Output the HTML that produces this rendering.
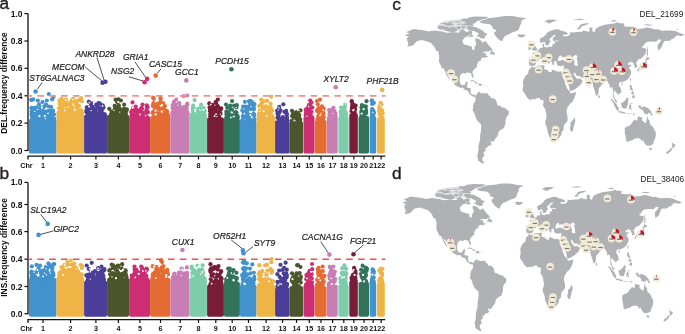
<!DOCTYPE html><html><head><meta charset="utf-8"><style>html,body{margin:0;padding:0;background:#fff}body{width:685px;height:334px;overflow:hidden}svg{display:block}#w{will-change:transform}</style></head><body><div id="w"><svg width="685" height="334" viewBox="0 0 685 334" font-family='"Liberation Sans", sans-serif'>
<g font-size="17.3" fill="#231c1c" stroke="#231c1c" stroke-width="0.35"><text x="-0.4" y="8.6">a</text><text x="-0.4" y="178.6">b</text><text x="392.2" y="10.3">c</text><text x="392.1" y="178.7">d</text></g>
<rect x="28.9" y="118.76" width="27.6" height="34.74" rx="1.6" fill="#4292ce"/>
<g fill="#4292ce"><circle cx="42.6" cy="113.0" r="2.1"/><circle cx="46.2" cy="117.3" r="2.1"/><circle cx="33.2" cy="99.3" r="2.1"/><circle cx="50.6" cy="111.4" r="2.1"/><circle cx="48.8" cy="94.0" r="2.1"/><circle cx="41.4" cy="117.2" r="2.1"/><circle cx="36.4" cy="119.7" r="2.1"/><circle cx="52.1" cy="99.3" r="2.1"/><circle cx="31.6" cy="114.2" r="2.1"/><circle cx="53.0" cy="110.7" r="2.1"/><circle cx="36.1" cy="111.5" r="2.1"/><circle cx="31.7" cy="107.8" r="2.1"/><circle cx="41.2" cy="114.2" r="2.1"/><circle cx="36.5" cy="107.4" r="2.1"/><circle cx="36.1" cy="112.3" r="2.1"/><circle cx="37.8" cy="100.5" r="2.1"/><circle cx="50.6" cy="113.7" r="2.1"/><circle cx="46.0" cy="104.7" r="2.1"/><circle cx="54.2" cy="118.5" r="2.1"/><circle cx="33.8" cy="109.5" r="2.1"/><circle cx="47.9" cy="116.0" r="2.1"/><circle cx="52.9" cy="111.5" r="2.1"/><circle cx="50.4" cy="115.6" r="2.1"/><circle cx="38.1" cy="115.1" r="2.1"/><circle cx="51.7" cy="118.3" r="2.1"/><circle cx="42.8" cy="115.1" r="2.1"/><circle cx="31.8" cy="108.3" r="2.1"/><circle cx="49.7" cy="110.8" r="2.1"/><circle cx="35.0" cy="113.7" r="2.1"/><circle cx="47.5" cy="115.4" r="2.1"/><circle cx="39.8" cy="113.3" r="2.1"/><circle cx="42.9" cy="117.7" r="2.1"/><circle cx="43.2" cy="111.7" r="2.1"/><circle cx="42.5" cy="102.0" r="2.1"/><circle cx="32.0" cy="116.5" r="2.1"/><circle cx="54.0" cy="114.5" r="2.1"/><circle cx="40.2" cy="108.1" r="2.1"/><circle cx="42.8" cy="120.2" r="2.1"/><circle cx="49.0" cy="113.1" r="2.1"/><circle cx="51.1" cy="106.9" r="2.1"/><circle cx="43.0" cy="119.8" r="2.1"/><circle cx="44.5" cy="112.2" r="2.1"/><circle cx="37.3" cy="114.2" r="2.1"/><circle cx="53.4" cy="96.9" r="2.1"/><circle cx="49.3" cy="117.8" r="2.1"/><circle cx="51.7" cy="116.8" r="2.1"/><circle cx="49.9" cy="112.9" r="2.1"/><circle cx="44.1" cy="111.7" r="2.1"/><circle cx="32.3" cy="118.8" r="2.1"/><circle cx="44.3" cy="106.4" r="2.1"/><circle cx="42.8" cy="113.5" r="2.1"/><circle cx="39.3" cy="111.6" r="2.1"/><circle cx="43.6" cy="115.3" r="2.1"/><circle cx="45.3" cy="111.8" r="2.1"/><circle cx="31.7" cy="108.0" r="2.1"/><circle cx="35.1" cy="114.3" r="2.1"/><circle cx="51.1" cy="117.6" r="2.1"/><circle cx="49.7" cy="117.8" r="2.1"/><circle cx="37.0" cy="118.4" r="2.1"/><circle cx="46.8" cy="100.5" r="2.1"/><circle cx="31.4" cy="99.8" r="2.1"/><circle cx="48.7" cy="106.5" r="2.1"/><circle cx="33.6" cy="115.0" r="2.1"/><circle cx="39.1" cy="104.4" r="2.1"/><circle cx="34.7" cy="113.3" r="2.1"/><circle cx="34.9" cy="108.0" r="2.1"/><circle cx="47.7" cy="111.2" r="2.1"/><circle cx="38.5" cy="113.5" r="2.1"/><circle cx="31.6" cy="111.5" r="2.1"/><circle cx="40.8" cy="108.6" r="2.1"/><circle cx="33.5" cy="119.1" r="2.1"/><circle cx="42.9" cy="108.0" r="2.1"/><circle cx="45.2" cy="117.9" r="2.1"/><circle cx="31.5" cy="100.0" r="2.1"/><circle cx="34.4" cy="116.4" r="2.1"/><circle cx="34.7" cy="116.2" r="2.1"/><circle cx="46.9" cy="113.1" r="2.1"/><circle cx="36.2" cy="120.1" r="2.1"/><circle cx="49.7" cy="112.8" r="2.1"/><circle cx="36.2" cy="115.5" r="2.1"/><circle cx="40.2" cy="115.4" r="2.1"/><circle cx="38.5" cy="115.8" r="2.1"/><circle cx="32.4" cy="109.3" r="2.1"/><circle cx="53.6" cy="118.8" r="2.1"/><circle cx="38.2" cy="118.7" r="2.1"/><circle cx="38.3" cy="119.7" r="2.1"/></g>
<g fill="#fff"><circle cx="48.0" cy="113.3" r="0.9"/><circle cx="34.7" cy="111.4" r="0.7"/><circle cx="44.7" cy="116.1" r="1.1"/><circle cx="41.9" cy="107.7" r="1.1"/><circle cx="45.4" cy="118.5" r="0.7"/><circle cx="39.4" cy="116.2" r="1.1"/></g>
<rect x="56.5" y="110.55" width="27.6" height="42.95" rx="1.6" fill="#eeb446"/>
<g fill="#eeb446"><circle cx="67.7" cy="107.7" r="2.1"/><circle cx="59.0" cy="108.3" r="2.1"/><circle cx="68.0" cy="104.8" r="2.1"/><circle cx="62.3" cy="110.7" r="2.1"/><circle cx="77.6" cy="107.2" r="2.1"/><circle cx="61.8" cy="105.2" r="2.1"/><circle cx="64.8" cy="100.9" r="2.1"/><circle cx="67.5" cy="108.2" r="2.1"/><circle cx="80.0" cy="110.7" r="2.1"/><circle cx="71.1" cy="110.3" r="2.1"/><circle cx="71.1" cy="100.8" r="2.1"/><circle cx="59.5" cy="100.5" r="2.1"/><circle cx="62.5" cy="106.9" r="2.1"/><circle cx="64.9" cy="105.3" r="2.1"/><circle cx="70.4" cy="104.4" r="2.1"/><circle cx="66.5" cy="102.2" r="2.1"/><circle cx="64.1" cy="111.7" r="2.1"/><circle cx="76.8" cy="109.1" r="2.1"/><circle cx="70.0" cy="108.4" r="2.1"/><circle cx="76.6" cy="103.5" r="2.1"/><circle cx="68.1" cy="106.2" r="2.1"/><circle cx="81.8" cy="101.2" r="2.1"/><circle cx="61.5" cy="98.8" r="2.1"/><circle cx="72.3" cy="111.6" r="2.1"/><circle cx="60.4" cy="107.2" r="2.1"/><circle cx="71.8" cy="111.8" r="2.1"/><circle cx="67.1" cy="105.3" r="2.1"/><circle cx="71.1" cy="102.1" r="2.1"/><circle cx="79.6" cy="100.1" r="2.1"/><circle cx="59.7" cy="103.8" r="2.1"/><circle cx="73.0" cy="98.9" r="2.1"/><circle cx="68.3" cy="110.8" r="2.1"/><circle cx="77.1" cy="100.8" r="2.1"/><circle cx="77.0" cy="107.5" r="2.1"/><circle cx="62.4" cy="105.6" r="2.1"/><circle cx="74.5" cy="101.8" r="2.1"/><circle cx="78.4" cy="105.7" r="2.1"/><circle cx="81.2" cy="110.4" r="2.1"/><circle cx="71.3" cy="110.8" r="2.1"/><circle cx="71.5" cy="109.8" r="2.1"/><circle cx="66.0" cy="103.9" r="2.1"/><circle cx="66.0" cy="99.6" r="2.1"/><circle cx="77.0" cy="111.4" r="2.1"/><circle cx="75.6" cy="103.9" r="2.1"/><circle cx="67.8" cy="106.5" r="2.1"/><circle cx="60.1" cy="103.9" r="2.1"/><circle cx="72.7" cy="107.3" r="2.1"/><circle cx="64.5" cy="110.3" r="2.1"/><circle cx="76.8" cy="111.1" r="2.1"/><circle cx="78.9" cy="106.3" r="2.1"/><circle cx="66.9" cy="103.6" r="2.1"/><circle cx="63.5" cy="101.8" r="2.1"/><circle cx="67.0" cy="110.8" r="2.1"/><circle cx="60.7" cy="109.6" r="2.1"/><circle cx="60.7" cy="107.4" r="2.1"/><circle cx="66.5" cy="104.3" r="2.1"/><circle cx="81.2" cy="98.1" r="2.1"/><circle cx="63.0" cy="110.1" r="2.1"/><circle cx="72.1" cy="111.6" r="2.1"/><circle cx="64.4" cy="100.5" r="2.1"/></g>
<g fill="#fff"><circle cx="72.7" cy="99.8" r="0.7"/><circle cx="64.8" cy="110.5" r="0.7"/><circle cx="68.2" cy="107.2" r="0.7"/><circle cx="75.3" cy="110.5" r="0.7"/><circle cx="65.8" cy="100.0" r="0.9"/><circle cx="69.6" cy="99.1" r="0.7"/></g>
<rect x="84.1" y="114.66" width="23" height="38.84" rx="1.6" fill="#4b3e98"/>
<g fill="#4b3e98"><circle cx="89.5" cy="113.6" r="2.1"/><circle cx="104.7" cy="114.6" r="2.1"/><circle cx="92.2" cy="103.3" r="2.1"/><circle cx="95.9" cy="115.5" r="2.1"/><circle cx="91.7" cy="115.2" r="2.1"/><circle cx="88.9" cy="115.3" r="2.1"/><circle cx="86.8" cy="107.3" r="2.1"/><circle cx="103.2" cy="114.4" r="2.1"/><circle cx="103.3" cy="114.7" r="2.1"/><circle cx="100.2" cy="113.6" r="2.1"/><circle cx="89.5" cy="108.6" r="2.1"/><circle cx="89.2" cy="112.8" r="2.1"/><circle cx="98.8" cy="108.2" r="2.1"/><circle cx="87.4" cy="115.9" r="2.1"/><circle cx="101.4" cy="111.9" r="2.1"/><circle cx="96.4" cy="114.8" r="2.1"/><circle cx="94.7" cy="109.1" r="2.1"/><circle cx="92.6" cy="106.9" r="2.1"/><circle cx="86.7" cy="112.3" r="2.1"/><circle cx="94.0" cy="111.6" r="2.1"/><circle cx="87.4" cy="107.6" r="2.1"/><circle cx="88.8" cy="101.7" r="2.1"/><circle cx="91.1" cy="114.5" r="2.1"/><circle cx="93.7" cy="109.3" r="2.1"/><circle cx="97.7" cy="107.1" r="2.1"/><circle cx="86.3" cy="110.8" r="2.1"/><circle cx="95.6" cy="112.5" r="2.1"/><circle cx="94.4" cy="113.0" r="2.1"/><circle cx="100.0" cy="108.2" r="2.1"/><circle cx="95.5" cy="110.2" r="2.1"/><circle cx="90.4" cy="108.6" r="2.1"/><circle cx="96.7" cy="115.4" r="2.1"/><circle cx="103.5" cy="107.4" r="2.1"/><circle cx="98.4" cy="103.2" r="2.1"/><circle cx="87.5" cy="110.1" r="2.1"/><circle cx="102.7" cy="105.3" r="2.1"/><circle cx="100.6" cy="115.3" r="2.1"/><circle cx="92.1" cy="113.0" r="2.1"/><circle cx="102.2" cy="109.3" r="2.1"/><circle cx="99.4" cy="114.0" r="2.1"/><circle cx="97.4" cy="114.9" r="2.1"/><circle cx="103.1" cy="115.9" r="2.1"/><circle cx="96.9" cy="105.4" r="2.1"/><circle cx="90.9" cy="105.2" r="2.1"/><circle cx="96.9" cy="113.9" r="2.1"/><circle cx="87.2" cy="112.6" r="2.1"/><circle cx="99.7" cy="109.8" r="2.1"/><circle cx="95.9" cy="104.6" r="2.1"/><circle cx="99.9" cy="103.7" r="2.1"/><circle cx="104.6" cy="114.4" r="2.1"/><circle cx="98.0" cy="107.9" r="2.1"/><circle cx="103.4" cy="115.9" r="2.1"/><circle cx="88.8" cy="113.6" r="2.1"/><circle cx="102.0" cy="113.0" r="2.1"/><circle cx="99.4" cy="111.0" r="2.1"/><circle cx="103.6" cy="116.0" r="2.1"/></g>
<g fill="#fff"><circle cx="93.6" cy="104.0" r="0.9"/><circle cx="93.9" cy="102.5" r="0.9"/><circle cx="89.2" cy="102.5" r="0.7"/><circle cx="89.1" cy="106.7" r="0.9"/><circle cx="102.6" cy="105.9" r="0.9"/></g>
<rect x="107.1" y="114.66" width="22" height="38.84" rx="1.6" fill="#4b562d"/>
<g fill="#4b562d"><circle cx="117.0" cy="101.3" r="2.1"/><circle cx="120.4" cy="112.3" r="2.1"/><circle cx="124.1" cy="104.6" r="2.1"/><circle cx="114.3" cy="111.6" r="2.1"/><circle cx="114.1" cy="112.2" r="2.1"/><circle cx="113.7" cy="113.3" r="2.1"/><circle cx="123.3" cy="114.2" r="2.1"/><circle cx="126.5" cy="110.7" r="2.1"/><circle cx="117.9" cy="115.0" r="2.1"/><circle cx="122.9" cy="111.3" r="2.1"/><circle cx="116.0" cy="108.0" r="2.1"/><circle cx="111.1" cy="114.7" r="2.1"/><circle cx="111.3" cy="114.1" r="2.1"/><circle cx="118.9" cy="116.0" r="2.1"/><circle cx="122.7" cy="116.0" r="2.1"/><circle cx="111.6" cy="111.6" r="2.1"/><circle cx="119.4" cy="108.6" r="2.1"/><circle cx="118.2" cy="109.3" r="2.1"/><circle cx="118.6" cy="99.4" r="2.1"/><circle cx="117.1" cy="110.5" r="2.1"/><circle cx="114.6" cy="109.8" r="2.1"/><circle cx="123.1" cy="112.7" r="2.1"/><circle cx="118.0" cy="112.9" r="2.1"/><circle cx="115.9" cy="106.5" r="2.1"/><circle cx="109.3" cy="108.8" r="2.1"/><circle cx="119.8" cy="115.2" r="2.1"/><circle cx="124.0" cy="110.2" r="2.1"/><circle cx="126.8" cy="109.4" r="2.1"/><circle cx="124.1" cy="108.6" r="2.1"/><circle cx="122.5" cy="116.2" r="2.1"/><circle cx="114.6" cy="105.9" r="2.1"/><circle cx="120.2" cy="111.4" r="2.1"/><circle cx="115.6" cy="99.5" r="2.1"/><circle cx="116.1" cy="110.1" r="2.1"/><circle cx="116.4" cy="115.0" r="2.1"/><circle cx="119.6" cy="113.8" r="2.1"/><circle cx="125.2" cy="113.4" r="2.1"/><circle cx="118.0" cy="113.9" r="2.1"/><circle cx="120.6" cy="112.8" r="2.1"/><circle cx="120.4" cy="109.8" r="2.1"/><circle cx="120.4" cy="112.6" r="2.1"/><circle cx="125.9" cy="113.8" r="2.1"/><circle cx="124.3" cy="113.6" r="2.1"/><circle cx="123.7" cy="111.6" r="2.1"/><circle cx="115.4" cy="107.6" r="2.1"/><circle cx="121.8" cy="115.0" r="2.1"/><circle cx="118.9" cy="105.7" r="2.1"/><circle cx="124.0" cy="109.8" r="2.1"/><circle cx="117.5" cy="102.5" r="2.1"/><circle cx="118.3" cy="113.9" r="2.1"/><circle cx="116.7" cy="109.2" r="2.1"/><circle cx="120.9" cy="100.5" r="2.1"/></g>
<g fill="#fff"><circle cx="118.2" cy="102.0" r="1.1"/><circle cx="111.6" cy="106.2" r="0.9"/><circle cx="119.8" cy="112.1" r="0.7"/><circle cx="113.9" cy="110.4" r="0.7"/><circle cx="111.3" cy="103.6" r="1.1"/></g>
<rect x="129.1" y="116.03" width="21" height="37.47" rx="1.6" fill="#cd2d73"/>
<g fill="#cd2d73"><circle cx="136.2" cy="115.6" r="2.1"/><circle cx="147.9" cy="112.4" r="2.1"/><circle cx="137.2" cy="115.6" r="2.1"/><circle cx="137.8" cy="112.3" r="2.1"/><circle cx="139.3" cy="110.3" r="2.1"/><circle cx="141.5" cy="115.1" r="2.1"/><circle cx="135.5" cy="114.3" r="2.1"/><circle cx="135.3" cy="114.8" r="2.1"/><circle cx="145.5" cy="116.3" r="2.1"/><circle cx="138.0" cy="117.1" r="2.1"/><circle cx="146.9" cy="107.6" r="2.1"/><circle cx="135.7" cy="106.6" r="2.1"/><circle cx="143.5" cy="116.4" r="2.1"/><circle cx="140.9" cy="113.8" r="2.1"/><circle cx="146.9" cy="105.4" r="2.1"/><circle cx="147.1" cy="111.2" r="2.1"/><circle cx="133.9" cy="115.7" r="2.1"/><circle cx="146.2" cy="111.0" r="2.1"/><circle cx="136.4" cy="112.3" r="2.1"/><circle cx="133.1" cy="108.3" r="2.1"/><circle cx="142.6" cy="104.6" r="2.1"/><circle cx="135.0" cy="110.9" r="2.1"/><circle cx="146.8" cy="117.2" r="2.1"/><circle cx="132.0" cy="115.9" r="2.1"/><circle cx="131.6" cy="115.3" r="2.1"/><circle cx="142.7" cy="112.4" r="2.1"/><circle cx="140.1" cy="115.3" r="2.1"/><circle cx="146.1" cy="111.1" r="2.1"/><circle cx="142.3" cy="109.4" r="2.1"/><circle cx="141.5" cy="107.9" r="2.1"/><circle cx="134.9" cy="109.6" r="2.1"/><circle cx="138.8" cy="115.7" r="2.1"/><circle cx="147.6" cy="107.2" r="2.1"/><circle cx="136.0" cy="113.8" r="2.1"/><circle cx="137.7" cy="112.9" r="2.1"/><circle cx="135.5" cy="113.2" r="2.1"/><circle cx="133.1" cy="108.4" r="2.1"/><circle cx="132.5" cy="102.4" r="2.1"/><circle cx="131.3" cy="112.3" r="2.1"/><circle cx="146.1" cy="116.1" r="2.1"/><circle cx="136.0" cy="109.3" r="2.1"/><circle cx="133.9" cy="116.1" r="2.1"/><circle cx="142.1" cy="115.8" r="2.1"/><circle cx="131.7" cy="111.0" r="2.1"/><circle cx="145.9" cy="112.5" r="2.1"/><circle cx="140.7" cy="109.7" r="2.1"/></g>
<g fill="#fff"><circle cx="133.3" cy="107.4" r="0.9"/><circle cx="145.7" cy="115.8" r="0.7"/><circle cx="140.0" cy="114.5" r="0.9"/><circle cx="143.8" cy="110.4" r="0.7"/><circle cx="132.5" cy="107.6" r="1.1"/></g>
<rect x="150.1" y="116.03" width="20.3" height="37.47" rx="1.6" fill="#e46c32"/>
<g fill="#e46c32"><circle cx="157.5" cy="107.3" r="2.1"/><circle cx="156.4" cy="113.2" r="2.1"/><circle cx="156.2" cy="112.5" r="2.1"/><circle cx="164.9" cy="106.1" r="2.1"/><circle cx="159.1" cy="114.1" r="2.1"/><circle cx="162.5" cy="117.3" r="2.1"/><circle cx="166.8" cy="112.3" r="2.1"/><circle cx="160.9" cy="114.2" r="2.1"/><circle cx="160.8" cy="116.8" r="2.1"/><circle cx="153.3" cy="105.4" r="2.1"/><circle cx="162.0" cy="117.4" r="2.1"/><circle cx="153.4" cy="103.0" r="2.1"/><circle cx="153.8" cy="98.8" r="2.1"/><circle cx="155.5" cy="109.8" r="2.1"/><circle cx="152.9" cy="112.5" r="2.1"/><circle cx="166.9" cy="111.8" r="2.1"/><circle cx="160.3" cy="102.7" r="2.1"/><circle cx="157.2" cy="103.8" r="2.1"/><circle cx="152.7" cy="112.9" r="2.1"/><circle cx="166.6" cy="115.1" r="2.1"/><circle cx="166.7" cy="110.8" r="2.1"/><circle cx="164.1" cy="108.0" r="2.1"/><circle cx="156.2" cy="108.2" r="2.1"/><circle cx="157.1" cy="116.1" r="2.1"/><circle cx="153.1" cy="105.2" r="2.1"/><circle cx="164.0" cy="107.8" r="2.1"/><circle cx="158.3" cy="103.6" r="2.1"/><circle cx="163.1" cy="103.2" r="2.1"/><circle cx="165.7" cy="111.9" r="2.1"/><circle cx="155.5" cy="116.8" r="2.1"/><circle cx="160.4" cy="109.5" r="2.1"/><circle cx="166.6" cy="111.4" r="2.1"/><circle cx="154.3" cy="115.3" r="2.1"/><circle cx="160.6" cy="112.1" r="2.1"/><circle cx="165.8" cy="112.9" r="2.1"/><circle cx="160.6" cy="99.6" r="2.1"/><circle cx="168.0" cy="117.6" r="2.1"/><circle cx="164.2" cy="106.5" r="2.1"/><circle cx="158.5" cy="108.4" r="2.1"/><circle cx="158.8" cy="103.8" r="2.1"/><circle cx="153.2" cy="106.2" r="2.1"/><circle cx="165.1" cy="112.3" r="2.1"/><circle cx="158.9" cy="108.3" r="2.1"/><circle cx="156.6" cy="114.7" r="2.1"/><circle cx="160.6" cy="97.8" r="2.1"/><circle cx="154.2" cy="107.0" r="2.1"/><circle cx="163.9" cy="115.4" r="2.1"/><circle cx="161.4" cy="110.5" r="2.1"/><circle cx="156.7" cy="110.6" r="2.1"/><circle cx="158.1" cy="114.7" r="2.1"/><circle cx="158.3" cy="116.5" r="2.1"/><circle cx="153.5" cy="111.6" r="2.1"/><circle cx="153.1" cy="97.7" r="2.1"/><circle cx="160.1" cy="116.0" r="2.1"/><circle cx="156.3" cy="106.5" r="2.1"/><circle cx="161.4" cy="108.6" r="2.1"/><circle cx="168.1" cy="115.3" r="2.1"/><circle cx="158.2" cy="108.1" r="2.1"/></g>
<g fill="#fff"><circle cx="161.7" cy="111.6" r="1.1"/><circle cx="155.5" cy="114.3" r="1.1"/><circle cx="156.3" cy="114.5" r="0.7"/><circle cx="155.7" cy="110.7" r="1.1"/><circle cx="162.0" cy="105.2" r="1.1"/></g>
<rect x="170.4" y="110.55" width="19.1" height="42.95" rx="1.6" fill="#c87db4"/>
<g fill="#c87db4"><circle cx="181.0" cy="109.1" r="2.1"/><circle cx="185.2" cy="110.1" r="2.1"/><circle cx="175.7" cy="111.0" r="2.1"/><circle cx="180.1" cy="107.1" r="2.1"/><circle cx="181.3" cy="111.4" r="2.1"/><circle cx="179.8" cy="110.7" r="2.1"/><circle cx="175.8" cy="104.4" r="2.1"/><circle cx="179.9" cy="111.4" r="2.1"/><circle cx="176.0" cy="107.6" r="2.1"/><circle cx="178.0" cy="111.6" r="2.1"/><circle cx="175.3" cy="107.8" r="2.1"/><circle cx="173.6" cy="111.0" r="2.1"/><circle cx="187.0" cy="105.6" r="2.1"/><circle cx="172.6" cy="108.2" r="2.1"/><circle cx="178.2" cy="111.3" r="2.1"/><circle cx="173.6" cy="109.0" r="2.1"/><circle cx="180.1" cy="108.6" r="2.1"/><circle cx="178.8" cy="106.5" r="2.1"/><circle cx="187.2" cy="95.5" r="2.1"/><circle cx="186.8" cy="109.1" r="2.1"/><circle cx="182.1" cy="107.7" r="2.1"/><circle cx="184.7" cy="106.8" r="2.1"/><circle cx="187.3" cy="104.3" r="2.1"/><circle cx="184.1" cy="108.5" r="2.1"/><circle cx="187.3" cy="103.7" r="2.1"/><circle cx="178.6" cy="111.8" r="2.1"/><circle cx="186.3" cy="106.9" r="2.1"/><circle cx="181.5" cy="108.3" r="2.1"/><circle cx="179.2" cy="103.1" r="2.1"/><circle cx="179.1" cy="103.4" r="2.1"/><circle cx="184.0" cy="112.0" r="2.1"/><circle cx="176.3" cy="99.6" r="2.1"/><circle cx="178.8" cy="109.6" r="2.1"/><circle cx="173.0" cy="107.0" r="2.1"/><circle cx="176.7" cy="109.6" r="2.1"/><circle cx="183.7" cy="96.2" r="2.1"/><circle cx="173.8" cy="101.9" r="2.1"/><circle cx="172.6" cy="105.0" r="2.1"/><circle cx="176.6" cy="110.6" r="2.1"/></g>
<g fill="#fff"><circle cx="181.7" cy="99.2" r="0.9"/><circle cx="178.5" cy="99.8" r="0.9"/><circle cx="178.0" cy="105.1" r="0.7"/><circle cx="186.4" cy="99.7" r="0.9"/></g>
<rect x="189.5" y="113.29" width="17.4" height="40.21" rx="1.6" fill="#7dcdaa"/>
<g fill="#7dcdaa"><circle cx="195.0" cy="110.1" r="2.1"/><circle cx="201.4" cy="112.5" r="2.1"/><circle cx="197.3" cy="113.2" r="2.1"/><circle cx="198.0" cy="112.7" r="2.1"/><circle cx="198.1" cy="114.7" r="2.1"/><circle cx="201.1" cy="104.7" r="2.1"/><circle cx="193.3" cy="114.6" r="2.1"/><circle cx="194.6" cy="100.1" r="2.1"/><circle cx="194.9" cy="109.7" r="2.1"/><circle cx="204.2" cy="110.2" r="2.1"/><circle cx="201.2" cy="113.7" r="2.1"/><circle cx="192.8" cy="110.8" r="2.1"/><circle cx="204.7" cy="111.5" r="2.1"/><circle cx="198.7" cy="108.8" r="2.1"/><circle cx="204.1" cy="114.7" r="2.1"/><circle cx="193.0" cy="110.1" r="2.1"/><circle cx="197.1" cy="112.3" r="2.1"/><circle cx="193.2" cy="105.7" r="2.1"/><circle cx="195.3" cy="109.8" r="2.1"/><circle cx="202.1" cy="113.9" r="2.1"/><circle cx="202.0" cy="112.5" r="2.1"/><circle cx="192.8" cy="107.8" r="2.1"/><circle cx="200.4" cy="108.0" r="2.1"/><circle cx="198.3" cy="114.2" r="2.1"/><circle cx="193.1" cy="113.5" r="2.1"/><circle cx="193.0" cy="107.7" r="2.1"/><circle cx="203.6" cy="108.0" r="2.1"/><circle cx="198.5" cy="109.7" r="2.1"/><circle cx="203.3" cy="114.9" r="2.1"/><circle cx="195.4" cy="110.0" r="2.1"/><circle cx="203.4" cy="111.6" r="2.1"/><circle cx="194.4" cy="112.6" r="2.1"/><circle cx="196.0" cy="110.3" r="2.1"/><circle cx="191.7" cy="114.8" r="2.1"/><circle cx="200.3" cy="114.4" r="2.1"/></g>
<g fill="#fff"><circle cx="203.5" cy="109.9" r="1.1"/><circle cx="199.6" cy="109.5" r="0.7"/><circle cx="195.1" cy="109.8" r="1.1"/><circle cx="195.3" cy="111.5" r="0.9"/></g>
<rect x="207.1" y="117.39" width="16.8" height="36.11" rx="1.6" fill="#781c37"/>
<g fill="#781c37"><circle cx="215.9" cy="114.6" r="2.1"/><circle cx="211.1" cy="112.2" r="2.1"/><circle cx="212.7" cy="116.0" r="2.1"/><circle cx="212.6" cy="109.2" r="2.1"/><circle cx="213.8" cy="113.4" r="2.1"/><circle cx="213.5" cy="115.1" r="2.1"/><circle cx="211.5" cy="117.9" r="2.1"/><circle cx="217.9" cy="112.4" r="2.1"/><circle cx="209.9" cy="111.0" r="2.1"/><circle cx="217.9" cy="114.2" r="2.1"/><circle cx="219.4" cy="117.6" r="2.1"/><circle cx="213.2" cy="113.7" r="2.1"/><circle cx="213.4" cy="107.5" r="2.1"/><circle cx="211.0" cy="109.6" r="2.1"/><circle cx="210.3" cy="114.0" r="2.1"/><circle cx="218.1" cy="112.8" r="2.1"/><circle cx="217.8" cy="106.2" r="2.1"/><circle cx="211.7" cy="114.4" r="2.1"/><circle cx="220.3" cy="109.9" r="2.1"/><circle cx="209.3" cy="103.4" r="2.1"/><circle cx="213.0" cy="115.1" r="2.1"/><circle cx="210.3" cy="109.0" r="2.1"/><circle cx="217.8" cy="118.9" r="2.1"/><circle cx="213.5" cy="115.0" r="2.1"/><circle cx="215.7" cy="102.1" r="2.1"/><circle cx="213.4" cy="107.8" r="2.1"/><circle cx="212.4" cy="116.8" r="2.1"/><circle cx="217.8" cy="99.5" r="2.1"/><circle cx="210.2" cy="116.2" r="2.1"/><circle cx="210.5" cy="110.7" r="2.1"/><circle cx="212.6" cy="104.8" r="2.1"/><circle cx="209.6" cy="107.4" r="2.1"/><circle cx="214.2" cy="118.4" r="2.1"/><circle cx="217.2" cy="107.1" r="2.1"/><circle cx="217.8" cy="107.4" r="2.1"/><circle cx="215.7" cy="110.4" r="2.1"/><circle cx="221.2" cy="108.4" r="2.1"/><circle cx="219.3" cy="113.9" r="2.1"/><circle cx="219.8" cy="113.3" r="2.1"/><circle cx="220.2" cy="109.6" r="2.1"/><circle cx="217.8" cy="113.8" r="2.1"/><circle cx="215.8" cy="114.0" r="2.1"/><circle cx="216.0" cy="111.4" r="2.1"/><circle cx="220.5" cy="113.7" r="2.1"/><circle cx="216.1" cy="103.0" r="2.1"/><circle cx="215.6" cy="107.6" r="2.1"/><circle cx="211.9" cy="112.6" r="2.1"/></g>
<g fill="#fff"><circle cx="216.0" cy="114.2" r="0.9"/><circle cx="220.3" cy="114.1" r="0.7"/><circle cx="214.5" cy="116.2" r="0.9"/><circle cx="210.8" cy="104.3" r="0.9"/></g>
<rect x="223.9" y="118.76" width="16" height="34.74" rx="1.6" fill="#32735a"/>
<g fill="#32735a"><circle cx="226.4" cy="111.6" r="2.1"/><circle cx="234.1" cy="105.7" r="2.1"/><circle cx="236.8" cy="105.2" r="2.1"/><circle cx="236.4" cy="107.4" r="2.1"/><circle cx="235.9" cy="118.5" r="2.1"/><circle cx="230.0" cy="119.0" r="2.1"/><circle cx="227.9" cy="118.8" r="2.1"/><circle cx="230.5" cy="112.1" r="2.1"/><circle cx="227.4" cy="115.8" r="2.1"/><circle cx="229.2" cy="116.2" r="2.1"/><circle cx="235.4" cy="115.0" r="2.1"/><circle cx="226.1" cy="119.9" r="2.1"/><circle cx="236.9" cy="115.6" r="2.1"/><circle cx="230.5" cy="114.2" r="2.1"/><circle cx="236.4" cy="112.6" r="2.1"/><circle cx="235.2" cy="114.9" r="2.1"/><circle cx="231.0" cy="119.6" r="2.1"/><circle cx="230.8" cy="114.9" r="2.1"/><circle cx="226.6" cy="114.2" r="2.1"/><circle cx="226.4" cy="117.2" r="2.1"/><circle cx="226.0" cy="104.5" r="2.1"/><circle cx="227.3" cy="107.7" r="2.1"/><circle cx="232.0" cy="110.2" r="2.1"/><circle cx="229.2" cy="120.2" r="2.1"/><circle cx="236.7" cy="115.8" r="2.1"/><circle cx="235.5" cy="118.1" r="2.1"/><circle cx="228.9" cy="118.1" r="2.1"/><circle cx="228.8" cy="114.8" r="2.1"/><circle cx="230.2" cy="105.7" r="2.1"/><circle cx="235.2" cy="119.4" r="2.1"/><circle cx="229.7" cy="118.9" r="2.1"/><circle cx="230.1" cy="115.8" r="2.1"/><circle cx="237.8" cy="117.4" r="2.1"/><circle cx="226.7" cy="113.6" r="2.1"/><circle cx="230.4" cy="109.1" r="2.1"/><circle cx="235.6" cy="112.3" r="2.1"/><circle cx="234.3" cy="115.5" r="2.1"/><circle cx="232.1" cy="101.1" r="2.1"/><circle cx="233.9" cy="119.0" r="2.1"/><circle cx="228.0" cy="116.2" r="2.1"/><circle cx="231.8" cy="109.9" r="2.1"/><circle cx="234.4" cy="120.1" r="2.1"/><circle cx="226.3" cy="119.4" r="2.1"/><circle cx="230.5" cy="118.3" r="2.1"/><circle cx="228.1" cy="117.2" r="2.1"/><circle cx="227.2" cy="111.9" r="2.1"/><circle cx="237.4" cy="115.8" r="2.1"/><circle cx="235.3" cy="112.7" r="2.1"/></g>
<g fill="#fff"><circle cx="231.6" cy="112.3" r="1.1"/><circle cx="234.1" cy="116.4" r="0.9"/><circle cx="230.9" cy="117.4" r="0.9"/><circle cx="236.2" cy="107.5" r="0.7"/></g>
<rect x="239.9" y="120.13" width="16.6" height="33.37" rx="1.6" fill="#4292ce"/>
<g fill="#4292ce"><circle cx="253.7" cy="113.8" r="2.1"/><circle cx="246.7" cy="113.9" r="2.1"/><circle cx="252.1" cy="120.7" r="2.1"/><circle cx="243.9" cy="115.4" r="2.1"/><circle cx="243.3" cy="110.7" r="2.1"/><circle cx="247.8" cy="119.1" r="2.1"/><circle cx="250.7" cy="119.0" r="2.1"/><circle cx="244.8" cy="117.6" r="2.1"/><circle cx="254.3" cy="115.3" r="2.1"/><circle cx="245.1" cy="112.9" r="2.1"/><circle cx="244.0" cy="108.3" r="2.1"/><circle cx="250.2" cy="103.4" r="2.1"/><circle cx="248.7" cy="115.0" r="2.1"/><circle cx="244.0" cy="112.7" r="2.1"/><circle cx="242.3" cy="110.4" r="2.1"/><circle cx="244.9" cy="101.8" r="2.1"/><circle cx="248.4" cy="106.7" r="2.1"/><circle cx="248.2" cy="115.9" r="2.1"/><circle cx="254.4" cy="104.1" r="2.1"/><circle cx="246.9" cy="113.1" r="2.1"/><circle cx="249.0" cy="101.3" r="2.1"/><circle cx="243.1" cy="106.5" r="2.1"/><circle cx="252.1" cy="102.2" r="2.1"/><circle cx="248.4" cy="118.6" r="2.1"/><circle cx="242.3" cy="120.2" r="2.1"/><circle cx="247.8" cy="117.7" r="2.1"/><circle cx="244.1" cy="106.9" r="2.1"/><circle cx="249.0" cy="119.4" r="2.1"/><circle cx="251.6" cy="116.7" r="2.1"/><circle cx="254.3" cy="119.2" r="2.1"/><circle cx="248.9" cy="117.4" r="2.1"/><circle cx="250.7" cy="119.2" r="2.1"/><circle cx="248.1" cy="109.0" r="2.1"/><circle cx="253.5" cy="109.6" r="2.1"/><circle cx="245.5" cy="106.7" r="2.1"/><circle cx="250.9" cy="104.0" r="2.1"/><circle cx="246.5" cy="120.8" r="2.1"/><circle cx="245.2" cy="109.1" r="2.1"/><circle cx="246.8" cy="115.0" r="2.1"/><circle cx="242.2" cy="121.3" r="2.1"/><circle cx="253.9" cy="108.8" r="2.1"/><circle cx="242.9" cy="116.6" r="2.1"/><circle cx="249.7" cy="115.0" r="2.1"/><circle cx="250.9" cy="109.0" r="2.1"/><circle cx="243.7" cy="114.4" r="2.1"/><circle cx="250.8" cy="103.9" r="2.1"/><circle cx="253.6" cy="106.7" r="2.1"/><circle cx="250.3" cy="100.9" r="2.1"/><circle cx="247.0" cy="112.1" r="2.1"/><circle cx="243.7" cy="116.6" r="2.1"/><circle cx="250.3" cy="115.2" r="2.1"/><circle cx="253.5" cy="119.8" r="2.1"/><circle cx="243.7" cy="109.2" r="2.1"/></g>
<g fill="#fff"><circle cx="250.5" cy="115.0" r="1.1"/><circle cx="251.8" cy="117.3" r="1.1"/><circle cx="244.4" cy="113.7" r="0.9"/><circle cx="243.8" cy="109.1" r="0.7"/></g>
<rect x="256.5" y="116.03" width="18.6" height="37.47" rx="1.6" fill="#eeb446"/>
<g fill="#eeb446"><circle cx="260.1" cy="109.9" r="2.1"/><circle cx="265.0" cy="113.1" r="2.1"/><circle cx="259.3" cy="115.4" r="2.1"/><circle cx="260.9" cy="104.6" r="2.1"/><circle cx="271.9" cy="115.5" r="2.1"/><circle cx="260.2" cy="110.8" r="2.1"/><circle cx="267.0" cy="114.6" r="2.1"/><circle cx="265.9" cy="109.7" r="2.1"/><circle cx="271.7" cy="117.5" r="2.1"/><circle cx="261.7" cy="117.1" r="2.1"/><circle cx="268.1" cy="111.0" r="2.1"/><circle cx="270.3" cy="111.7" r="2.1"/><circle cx="269.0" cy="113.9" r="2.1"/><circle cx="270.2" cy="117.5" r="2.1"/><circle cx="266.7" cy="113.6" r="2.1"/><circle cx="266.4" cy="106.3" r="2.1"/><circle cx="259.1" cy="106.0" r="2.1"/><circle cx="268.3" cy="111.5" r="2.1"/><circle cx="262.0" cy="110.1" r="2.1"/><circle cx="262.5" cy="113.7" r="2.1"/><circle cx="264.3" cy="111.4" r="2.1"/><circle cx="268.2" cy="115.6" r="2.1"/><circle cx="261.3" cy="99.5" r="2.1"/><circle cx="269.5" cy="110.2" r="2.1"/><circle cx="264.3" cy="114.6" r="2.1"/><circle cx="270.4" cy="107.2" r="2.1"/><circle cx="262.1" cy="102.4" r="2.1"/><circle cx="269.3" cy="115.7" r="2.1"/><circle cx="270.6" cy="103.7" r="2.1"/><circle cx="261.1" cy="111.7" r="2.1"/><circle cx="270.8" cy="108.3" r="2.1"/><circle cx="263.8" cy="106.7" r="2.1"/><circle cx="268.1" cy="112.1" r="2.1"/><circle cx="269.5" cy="117.5" r="2.1"/><circle cx="263.5" cy="101.3" r="2.1"/><circle cx="259.2" cy="113.4" r="2.1"/><circle cx="271.4" cy="115.9" r="2.1"/><circle cx="272.1" cy="110.5" r="2.1"/><circle cx="267.0" cy="100.9" r="2.1"/><circle cx="271.1" cy="111.6" r="2.1"/><circle cx="259.9" cy="110.3" r="2.1"/><circle cx="266.0" cy="112.4" r="2.1"/><circle cx="262.9" cy="107.4" r="2.1"/><circle cx="263.7" cy="117.3" r="2.1"/><circle cx="259.3" cy="117.1" r="2.1"/><circle cx="271.2" cy="96.7" r="2.1"/><circle cx="263.0" cy="114.8" r="2.1"/><circle cx="270.1" cy="112.0" r="2.1"/><circle cx="266.6" cy="117.6" r="2.1"/><circle cx="259.5" cy="113.3" r="2.1"/><circle cx="270.0" cy="107.7" r="2.1"/><circle cx="264.2" cy="111.8" r="2.1"/></g>
<g fill="#fff"><circle cx="259.8" cy="108.3" r="0.7"/><circle cx="266.7" cy="116.1" r="0.9"/><circle cx="263.7" cy="111.3" r="1.1"/><circle cx="259.9" cy="111.2" r="0.7"/></g>
<rect x="275.1" y="120.13" width="14.3" height="33.37" rx="1.6" fill="#4b3e98"/>
<g fill="#4b3e98"><circle cx="282.3" cy="119.6" r="2.1"/><circle cx="277.2" cy="110.7" r="2.1"/><circle cx="280.5" cy="110.7" r="2.1"/><circle cx="286.2" cy="110.9" r="2.1"/><circle cx="278.3" cy="113.5" r="2.1"/><circle cx="282.3" cy="119.7" r="2.1"/><circle cx="287.3" cy="120.5" r="2.1"/><circle cx="283.3" cy="104.3" r="2.1"/><circle cx="277.8" cy="117.9" r="2.1"/><circle cx="285.5" cy="112.6" r="2.1"/><circle cx="287.0" cy="117.5" r="2.1"/><circle cx="283.0" cy="117.1" r="2.1"/><circle cx="278.0" cy="110.8" r="2.1"/><circle cx="286.7" cy="113.6" r="2.1"/><circle cx="278.0" cy="113.0" r="2.1"/><circle cx="284.5" cy="111.8" r="2.1"/><circle cx="279.3" cy="112.5" r="2.1"/><circle cx="282.1" cy="118.7" r="2.1"/><circle cx="280.2" cy="120.4" r="2.1"/><circle cx="287.1" cy="120.2" r="2.1"/><circle cx="278.0" cy="113.6" r="2.1"/><circle cx="286.6" cy="120.5" r="2.1"/><circle cx="278.5" cy="115.4" r="2.1"/><circle cx="280.9" cy="118.9" r="2.1"/><circle cx="277.5" cy="113.6" r="2.1"/><circle cx="284.8" cy="120.6" r="2.1"/><circle cx="277.6" cy="117.4" r="2.1"/><circle cx="283.9" cy="120.4" r="2.1"/><circle cx="281.5" cy="121.5" r="2.1"/><circle cx="279.2" cy="108.9" r="2.1"/><circle cx="278.5" cy="117.3" r="2.1"/><circle cx="278.4" cy="112.6" r="2.1"/><circle cx="279.2" cy="106.9" r="2.1"/><circle cx="286.9" cy="114.8" r="2.1"/><circle cx="286.9" cy="119.3" r="2.1"/><circle cx="279.4" cy="121.1" r="2.1"/></g>
<g fill="#fff"><circle cx="278.2" cy="107.0" r="0.7"/><circle cx="279.5" cy="108.1" r="0.7"/><circle cx="278.2" cy="109.9" r="0.7"/></g>
<rect x="289.4" y="121.5" width="13.7" height="32" rx="1.6" fill="#4b562d"/>
<g fill="#4b562d"><circle cx="295.7" cy="112.6" r="2.1"/><circle cx="296.3" cy="114.4" r="2.1"/><circle cx="300.5" cy="110.4" r="2.1"/><circle cx="297.1" cy="111.9" r="2.1"/><circle cx="297.4" cy="122.7" r="2.1"/><circle cx="297.0" cy="118.8" r="2.1"/><circle cx="295.0" cy="116.8" r="2.1"/><circle cx="300.3" cy="119.8" r="2.1"/><circle cx="297.0" cy="118.9" r="2.1"/><circle cx="299.5" cy="121.5" r="2.1"/><circle cx="297.0" cy="114.8" r="2.1"/><circle cx="297.6" cy="112.3" r="2.1"/><circle cx="296.4" cy="117.1" r="2.1"/><circle cx="299.5" cy="119.2" r="2.1"/><circle cx="297.8" cy="122.6" r="2.1"/><circle cx="299.6" cy="119.1" r="2.1"/><circle cx="298.5" cy="122.2" r="2.1"/><circle cx="298.8" cy="119.0" r="2.1"/><circle cx="293.1" cy="113.6" r="2.1"/><circle cx="299.3" cy="115.0" r="2.1"/><circle cx="298.8" cy="116.3" r="2.1"/><circle cx="296.6" cy="113.1" r="2.1"/><circle cx="291.6" cy="120.8" r="2.1"/><circle cx="298.9" cy="117.2" r="2.1"/><circle cx="294.9" cy="117.2" r="2.1"/><circle cx="293.5" cy="116.9" r="2.1"/><circle cx="294.7" cy="123.0" r="2.1"/><circle cx="292.9" cy="121.7" r="2.1"/><circle cx="292.0" cy="110.8" r="2.1"/><circle cx="299.8" cy="122.4" r="2.1"/><circle cx="293.9" cy="117.7" r="2.1"/><circle cx="292.0" cy="116.0" r="2.1"/><circle cx="294.6" cy="113.9" r="2.1"/></g>
<g fill="#fff"><circle cx="299.2" cy="110.5" r="0.7"/><circle cx="294.0" cy="120.7" r="0.7"/><circle cx="297.6" cy="110.5" r="0.7"/></g>
<rect x="303.5" y="116.03" width="11" height="37.47" rx="1.6" fill="#cd2d73"/>
<g fill="#cd2d73"><circle cx="307.2" cy="117.3" r="2.1"/><circle cx="310.4" cy="105.8" r="2.1"/><circle cx="310.8" cy="111.6" r="2.1"/><circle cx="309.5" cy="109.6" r="2.1"/><circle cx="307.6" cy="111.1" r="2.1"/><circle cx="309.2" cy="111.2" r="2.1"/><circle cx="311.5" cy="102.5" r="2.1"/><circle cx="307.0" cy="117.1" r="2.1"/><circle cx="309.7" cy="113.3" r="2.1"/><circle cx="309.9" cy="107.3" r="2.1"/><circle cx="308.3" cy="107.1" r="2.1"/><circle cx="306.6" cy="117.6" r="2.1"/><circle cx="310.7" cy="116.4" r="2.1"/><circle cx="305.6" cy="114.8" r="2.1"/><circle cx="307.7" cy="112.1" r="2.1"/><circle cx="310.2" cy="100.7" r="2.1"/><circle cx="308.1" cy="112.7" r="2.1"/><circle cx="311.5" cy="111.8" r="2.1"/><circle cx="307.8" cy="113.4" r="2.1"/><circle cx="309.6" cy="108.3" r="2.1"/><circle cx="309.3" cy="108.0" r="2.1"/><circle cx="305.7" cy="109.7" r="2.1"/><circle cx="306.2" cy="112.3" r="2.1"/><circle cx="309.0" cy="116.3" r="2.1"/><circle cx="310.7" cy="114.9" r="2.1"/><circle cx="312.3" cy="107.5" r="2.1"/><circle cx="308.1" cy="107.6" r="2.1"/><circle cx="306.3" cy="112.6" r="2.1"/><circle cx="309.1" cy="104.8" r="2.1"/><circle cx="311.9" cy="117.4" r="2.1"/></g>
<g fill="#fff"><circle cx="306.8" cy="116.3" r="0.7"/><circle cx="308.6" cy="106.5" r="0.7"/></g>
<rect x="314.8" y="120.13" width="11.8" height="33.37" rx="1.6" fill="#e46c32"/>
<g fill="#e46c32"><circle cx="317.0" cy="101.0" r="2.1"/><circle cx="318.5" cy="108.1" r="2.1"/><circle cx="319.1" cy="115.3" r="2.1"/><circle cx="318.8" cy="108.9" r="2.1"/><circle cx="318.5" cy="120.3" r="2.1"/><circle cx="318.7" cy="115.4" r="2.1"/><circle cx="320.3" cy="111.1" r="2.1"/><circle cx="320.0" cy="99.7" r="2.1"/><circle cx="318.3" cy="116.9" r="2.1"/><circle cx="322.7" cy="109.7" r="2.1"/><circle cx="318.2" cy="120.6" r="2.1"/><circle cx="317.6" cy="119.2" r="2.1"/><circle cx="323.6" cy="108.6" r="2.1"/><circle cx="323.2" cy="108.4" r="2.1"/><circle cx="317.2" cy="111.0" r="2.1"/><circle cx="319.5" cy="115.9" r="2.1"/><circle cx="320.3" cy="119.0" r="2.1"/><circle cx="322.0" cy="106.3" r="2.1"/><circle cx="318.4" cy="118.4" r="2.1"/><circle cx="317.8" cy="121.2" r="2.1"/><circle cx="323.1" cy="110.0" r="2.1"/><circle cx="319.1" cy="109.3" r="2.1"/><circle cx="320.1" cy="109.1" r="2.1"/><circle cx="317.1" cy="110.3" r="2.1"/><circle cx="318.4" cy="111.7" r="2.1"/><circle cx="320.4" cy="120.1" r="2.1"/><circle cx="321.9" cy="116.7" r="2.1"/><circle cx="323.5" cy="113.6" r="2.1"/><circle cx="320.1" cy="109.0" r="2.1"/><circle cx="323.2" cy="120.4" r="2.1"/><circle cx="323.8" cy="117.1" r="2.1"/><circle cx="317.8" cy="104.3" r="2.1"/><circle cx="323.0" cy="120.5" r="2.1"/><circle cx="320.9" cy="120.8" r="2.1"/></g>
<g fill="#fff"><circle cx="323.2" cy="110.1" r="0.9"/><circle cx="320.2" cy="115.4" r="0.9"/></g>
<rect x="326.9" y="116.03" width="10.8" height="37.47" rx="1.6" fill="#c87db4"/>
<g fill="#c87db4"><circle cx="330.1" cy="114.0" r="2.1"/><circle cx="334.8" cy="115.5" r="2.1"/><circle cx="330.0" cy="112.8" r="2.1"/><circle cx="333.1" cy="109.2" r="2.1"/><circle cx="329.5" cy="114.3" r="2.1"/><circle cx="330.6" cy="114.8" r="2.1"/><circle cx="330.1" cy="116.6" r="2.1"/><circle cx="331.0" cy="112.7" r="2.1"/><circle cx="332.6" cy="116.9" r="2.1"/><circle cx="335.0" cy="116.5" r="2.1"/><circle cx="333.5" cy="107.8" r="2.1"/><circle cx="330.2" cy="113.7" r="2.1"/><circle cx="335.5" cy="115.5" r="2.1"/><circle cx="330.3" cy="111.7" r="2.1"/><circle cx="335.4" cy="113.5" r="2.1"/><circle cx="334.7" cy="116.6" r="2.1"/><circle cx="334.2" cy="114.8" r="2.1"/><circle cx="333.4" cy="112.1" r="2.1"/><circle cx="329.8" cy="117.3" r="2.1"/><circle cx="329.2" cy="110.2" r="2.1"/><circle cx="333.1" cy="117.4" r="2.1"/><circle cx="330.4" cy="110.3" r="2.1"/><circle cx="334.6" cy="111.7" r="2.1"/><circle cx="331.7" cy="112.1" r="2.1"/></g>
<g fill="#fff"><circle cx="330.1" cy="103.4" r="1.1"/><circle cx="332.6" cy="113.6" r="0.7"/></g>
<rect x="338.4" y="116.03" width="10.2" height="37.47" rx="1.6" fill="#7dcdaa"/>
<g fill="#7dcdaa"><circle cx="341.0" cy="112.9" r="2.1"/><circle cx="343.6" cy="116.6" r="2.1"/><circle cx="344.1" cy="116.3" r="2.1"/><circle cx="345.2" cy="116.3" r="2.1"/><circle cx="343.1" cy="112.2" r="2.1"/><circle cx="341.6" cy="116.3" r="2.1"/><circle cx="341.7" cy="115.6" r="2.1"/><circle cx="342.2" cy="107.5" r="2.1"/><circle cx="341.4" cy="115.3" r="2.1"/><circle cx="340.6" cy="111.7" r="2.1"/><circle cx="341.6" cy="115.4" r="2.1"/><circle cx="341.0" cy="107.6" r="2.1"/><circle cx="344.7" cy="107.5" r="2.1"/><circle cx="343.1" cy="114.0" r="2.1"/><circle cx="344.1" cy="106.4" r="2.1"/><circle cx="344.6" cy="116.0" r="2.1"/><circle cx="344.7" cy="117.0" r="2.1"/><circle cx="341.8" cy="116.6" r="2.1"/><circle cx="343.8" cy="116.7" r="2.1"/><circle cx="345.6" cy="112.2" r="2.1"/><circle cx="342.6" cy="111.8" r="2.1"/><circle cx="343.6" cy="114.1" r="2.1"/><circle cx="346.1" cy="114.3" r="2.1"/><circle cx="342.4" cy="109.1" r="2.1"/><circle cx="345.2" cy="104.5" r="2.1"/><circle cx="342.5" cy="116.2" r="2.1"/><circle cx="342.1" cy="117.6" r="2.1"/><circle cx="344.4" cy="109.5" r="2.1"/></g>
<g fill="#fff"><circle cx="345.6" cy="103.9" r="0.7"/><circle cx="342.7" cy="104.9" r="0.9"/></g>
<rect x="349.3" y="113.29" width="8.5" height="40.21" rx="1.6" fill="#781c37"/>
<g fill="#781c37"><circle cx="352.1" cy="106.4" r="2.1"/><circle cx="351.9" cy="108.5" r="2.1"/><circle cx="354.0" cy="107.0" r="2.1"/><circle cx="354.7" cy="112.5" r="2.1"/><circle cx="353.5" cy="106.8" r="2.1"/><circle cx="352.5" cy="104.3" r="2.1"/><circle cx="352.0" cy="102.1" r="2.1"/><circle cx="352.9" cy="112.5" r="2.1"/><circle cx="354.4" cy="105.7" r="2.1"/><circle cx="355.6" cy="105.5" r="2.1"/><circle cx="353.5" cy="112.1" r="2.1"/><circle cx="351.6" cy="111.2" r="2.1"/><circle cx="351.7" cy="101.2" r="2.1"/><circle cx="353.6" cy="109.5" r="2.1"/><circle cx="353.5" cy="107.5" r="2.1"/><circle cx="353.6" cy="104.8" r="2.1"/><circle cx="354.4" cy="108.9" r="2.1"/><circle cx="353.1" cy="112.3" r="2.1"/><circle cx="355.0" cy="109.7" r="2.1"/><circle cx="354.0" cy="108.4" r="2.1"/><circle cx="355.0" cy="108.7" r="2.1"/></g>
<g fill="#fff"><circle cx="353.2" cy="110.3" r="1.1"/><circle cx="354.0" cy="109.4" r="0.7"/></g>
<rect x="358.5" y="116.03" width="10.5" height="37.47" rx="1.6" fill="#32735a"/>
<g fill="#32735a"><circle cx="366.5" cy="101.2" r="2.1"/><circle cx="362.9" cy="109.9" r="2.1"/><circle cx="365.7" cy="112.6" r="2.1"/><circle cx="363.6" cy="113.1" r="2.1"/><circle cx="366.2" cy="113.1" r="2.1"/><circle cx="363.4" cy="106.4" r="2.1"/><circle cx="361.9" cy="111.1" r="2.1"/><circle cx="363.5" cy="109.3" r="2.1"/><circle cx="361.5" cy="107.4" r="2.1"/><circle cx="361.4" cy="115.9" r="2.1"/><circle cx="365.3" cy="112.1" r="2.1"/><circle cx="362.1" cy="114.8" r="2.1"/><circle cx="363.5" cy="112.2" r="2.1"/><circle cx="362.6" cy="112.6" r="2.1"/><circle cx="363.8" cy="109.1" r="2.1"/><circle cx="365.9" cy="106.3" r="2.1"/><circle cx="364.8" cy="114.2" r="2.1"/><circle cx="365.7" cy="109.0" r="2.1"/><circle cx="363.3" cy="114.7" r="2.1"/><circle cx="363.8" cy="106.5" r="2.1"/><circle cx="366.2" cy="110.8" r="2.1"/><circle cx="364.0" cy="110.0" r="2.1"/><circle cx="361.9" cy="105.1" r="2.1"/><circle cx="361.3" cy="113.0" r="2.1"/><circle cx="361.5" cy="111.2" r="2.1"/></g>
<g fill="#fff"><circle cx="363.6" cy="109.2" r="1.1"/><circle cx="361.7" cy="113.6" r="1.1"/></g>
<rect x="369.6" y="116.03" width="6.6" height="37.47" rx="1.6" fill="#4292ce"/>
<g fill="#4292ce"><circle cx="372.1" cy="112.6" r="2.1"/><circle cx="372.1" cy="115.0" r="2.1"/><circle cx="373.0" cy="115.3" r="2.1"/><circle cx="371.9" cy="116.9" r="2.1"/><circle cx="372.3" cy="115.9" r="2.1"/><circle cx="372.8" cy="116.4" r="2.1"/><circle cx="371.9" cy="100.6" r="2.1"/><circle cx="372.8" cy="116.9" r="2.1"/><circle cx="372.8" cy="111.3" r="2.1"/><circle cx="372.1" cy="111.8" r="2.1"/><circle cx="372.7" cy="116.4" r="2.1"/><circle cx="373.5" cy="110.9" r="2.1"/><circle cx="372.1" cy="103.9" r="2.1"/><circle cx="374.0" cy="112.9" r="2.1"/><circle cx="372.2" cy="115.5" r="2.1"/><circle cx="372.2" cy="110.4" r="2.1"/><circle cx="373.8" cy="102.9" r="2.1"/><circle cx="371.9" cy="100.6" r="2.1"/><circle cx="372.1" cy="109.0" r="2.1"/></g>
<g fill="#fff"><circle cx="372.8" cy="112.5" r="0.7"/></g>
<rect x="376.9" y="117.39" width="7.9" height="36.11" rx="1.6" fill="#eeb446"/>
<g fill="#eeb446"><circle cx="381.4" cy="111.7" r="2.1"/><circle cx="382.1" cy="110.3" r="2.1"/><circle cx="379.4" cy="108.2" r="2.1"/><circle cx="379.6" cy="106.2" r="2.1"/><circle cx="379.5" cy="110.8" r="2.1"/><circle cx="382.7" cy="113.6" r="2.1"/><circle cx="381.5" cy="118.4" r="2.1"/><circle cx="380.3" cy="114.4" r="2.1"/><circle cx="381.1" cy="117.0" r="2.1"/><circle cx="380.2" cy="115.7" r="2.1"/><circle cx="382.0" cy="118.1" r="2.1"/><circle cx="379.6" cy="113.9" r="2.1"/><circle cx="382.2" cy="118.4" r="2.1"/><circle cx="379.2" cy="111.0" r="2.1"/><circle cx="381.3" cy="104.3" r="2.1"/><circle cx="380.6" cy="102.8" r="2.1"/><circle cx="380.3" cy="114.6" r="2.1"/><circle cx="382.3" cy="117.8" r="2.1"/></g>
<g fill="#fff"><circle cx="380.3" cy="105.3" r="0.9"/></g>
<path d="M28 13.6 V151.1" stroke="#111" stroke-width="1.3" fill="none"/>
<path d="M24.4 13.6 H28" stroke="#111" stroke-width="1.2"/>
<text x="22.6" y="16.6" text-anchor="end" font-size="8.5" font-weight="bold" fill="#111">1.0</text>
<path d="M24.4 41 H28" stroke="#111" stroke-width="1.2"/>
<text x="22.6" y="44" text-anchor="end" font-size="8.5" font-weight="bold" fill="#111">0.8</text>
<path d="M24.4 68.3 H28" stroke="#111" stroke-width="1.2"/>
<text x="22.6" y="71.3" text-anchor="end" font-size="8.5" font-weight="bold" fill="#111">0.6</text>
<path d="M24.4 95.8 H28" stroke="#111" stroke-width="1.2"/>
<text x="22.6" y="98.8" text-anchor="end" font-size="8.5" font-weight="bold" fill="#111">0.4</text>
<path d="M24.4 123.1 H28" stroke="#111" stroke-width="1.2"/>
<text x="22.6" y="126.1" text-anchor="end" font-size="8.5" font-weight="bold" fill="#111">0.2</text>
<path d="M24.4 150.5 H28" stroke="#111" stroke-width="1.2"/>
<text x="22.6" y="153.5" text-anchor="end" font-size="8.5" font-weight="bold" fill="#111">0.0</text>
<text transform="translate(7.4 83) rotate(-90)" text-anchor="middle" font-size="8.4" font-weight="bold" fill="#111">DEL.frequency difference</text>
<path d="M28 159.5 V156.2 H385.3" stroke="#111" stroke-width="1.3" fill="none"/>
<path d="M43 156.2 V159.5" stroke="#111" stroke-width="1.2"/>
<path d="M70.6 156.2 V159.5" stroke="#111" stroke-width="1.2"/>
<path d="M95.9 156.2 V159.5" stroke="#111" stroke-width="1.2"/>
<path d="M118.4 156.2 V159.5" stroke="#111" stroke-width="1.2"/>
<path d="M139.9 156.2 V159.5" stroke="#111" stroke-width="1.2"/>
<path d="M160.55 156.2 V159.5" stroke="#111" stroke-width="1.2"/>
<path d="M180.25 156.2 V159.5" stroke="#111" stroke-width="1.2"/>
<path d="M198.5 156.2 V159.5" stroke="#111" stroke-width="1.2"/>
<path d="M215.8 156.2 V159.5" stroke="#111" stroke-width="1.2"/>
<path d="M232.2 156.2 V159.5" stroke="#111" stroke-width="1.2"/>
<path d="M248.5 156.2 V159.5" stroke="#111" stroke-width="1.2"/>
<path d="M266.1 156.2 V159.5" stroke="#111" stroke-width="1.2"/>
<path d="M282.55 156.2 V159.5" stroke="#111" stroke-width="1.2"/>
<path d="M296.55 156.2 V159.5" stroke="#111" stroke-width="1.2"/>
<path d="M309.3 156.2 V159.5" stroke="#111" stroke-width="1.2"/>
<path d="M321 156.2 V159.5" stroke="#111" stroke-width="1.2"/>
<path d="M332.6 156.2 V159.5" stroke="#111" stroke-width="1.2"/>
<path d="M343.8 156.2 V159.5" stroke="#111" stroke-width="1.2"/>
<path d="M353.85 156.2 V159.5" stroke="#111" stroke-width="1.2"/>
<path d="M364.05 156.2 V159.5" stroke="#111" stroke-width="1.2"/>
<path d="M373.2 156.2 V159.5" stroke="#111" stroke-width="1.2"/>
<path d="M381.15 156.2 V159.5" stroke="#111" stroke-width="1.2"/>
<text x="20.2" y="168.4" font-size="7.2" font-weight="bold" fill="#111">Chr</text>
<g font-size="7.2" font-weight="bold" fill="#111" text-anchor="middle"><text x="43" y="168.4">1</text><text x="70.6" y="168.4">2</text><text x="95.9" y="168.4">3</text><text x="118.4" y="168.4">4</text><text x="139.9" y="168.4">5</text><text x="160.55" y="168.4">6</text><text x="180.25" y="168.4">7</text><text x="198.5" y="168.4">8</text><text x="215.8" y="168.4">9</text><text x="232.2" y="168.4">10</text><text x="248.5" y="168.4">11</text><text x="266.1" y="168.4">12</text><text x="282.55" y="168.4">13</text><text x="296.55" y="168.4">14</text><text x="309.3" y="168.4">15</text><text x="321" y="168.4">16</text><text x="332.6" y="168.4">17</text><text x="343.8" y="168.4">18</text><text x="353.85" y="168.4">19</text><text x="364.05" y="168.4">20</text><text x="373.2" y="168.4">21</text><text x="381.15" y="168.4">22</text></g>
<path d="M28 95.85 H385.5" stroke="#f2918c" stroke-width="1.6" stroke-dasharray="6.6 5.28" stroke-dashoffset="2.6" fill="none"/>
<path d="M37.5 89.1L42 82.7" stroke="#222" stroke-width="0.8"/><circle cx="35.6" cy="91.5" r="2.3" fill="#4292ce"/><text x="29.3" y="76.23" font-size="8.5" font-style="italic" fill="#1e1e1e" stroke="#1e1e1e" stroke-width="0.22" transform="scale(1 1.06)">ST6GALNAC3</text>
<path d="M85.2 67.1L102.5 81.3" stroke="#222" stroke-width="0.8"/><path d="M96.9 57.4L104.1 80.2" stroke="#222" stroke-width="0.8"/><circle cx="102.6" cy="82.8" r="2.3" fill="#4b3e98"/><circle cx="105.4" cy="81.7" r="2.3" fill="#4b3e98"/>
<text x="52.1" y="66.42" font-size="8.5" font-style="italic" fill="#1e1e1e" stroke="#1e1e1e" stroke-width="0.22" transform="scale(1 1.06)">MECOM</text><text x="75.4" y="53.58" font-size="8.5" font-style="italic" fill="#1e1e1e" stroke="#1e1e1e" stroke-width="0.22" transform="scale(1 1.06)">ANKRD28</text>
<path d="M128.8 76.8L143.1 81" stroke="#222" stroke-width="0.8"/><path d="M135 61.9L145.8 77.7" stroke="#222" stroke-width="0.8"/><circle cx="144.6" cy="82.2" r="2.3" fill="#cd2d73"/><circle cx="147.1" cy="78.9" r="2.3" fill="#cd2d73"/>
<text x="111.1" y="70.28" font-size="8.5" font-style="italic" fill="#1e1e1e" stroke="#1e1e1e" stroke-width="0.22" transform="scale(1 1.06)">NSG2</text><text x="123" y="56.7" font-size="8.5" font-style="italic" fill="#1e1e1e" stroke="#1e1e1e" stroke-width="0.22" transform="scale(1 1.06)">GRIA1</text>
<path d="M157.2 73.3L161.1 68.8" stroke="#222" stroke-width="0.8"/><circle cx="155.7" cy="75.6" r="2.3" fill="#e46c32"/><text x="148.9" y="62.83" font-size="8.5" font-style="italic" fill="#1e1e1e" stroke="#1e1e1e" stroke-width="0.22" transform="scale(1 1.06)">CASC15</text>
<circle cx="186.3" cy="80.4" r="2.3" fill="#c87db4"/><text x="175.1" y="70.75" font-size="8.5" font-style="italic" fill="#1e1e1e" stroke="#1e1e1e" stroke-width="0.22" transform="scale(1 1.06)">GCC1</text>
<circle cx="231.4" cy="69.3" r="2.3" fill="#32735a"/><text x="215.3" y="60.09" font-size="8.5" font-style="italic" fill="#1e1e1e" stroke="#1e1e1e" stroke-width="0.22" transform="scale(1 1.06)">PCDH15</text>
<circle cx="335.7" cy="87.3" r="2.3" fill="#c87db4"/><text x="323.4" y="77.08" font-size="8.5" font-style="italic" fill="#1e1e1e" stroke="#1e1e1e" stroke-width="0.22" transform="scale(1 1.06)">XYLT2</text>
<circle cx="382.2" cy="89.9" r="2.3" fill="#eeb446"/><text x="366.6" y="78.96" font-size="8.5" font-style="italic" fill="#1e1e1e" stroke="#1e1e1e" stroke-width="0.22" transform="scale(1 1.06)">PHF21B</text>
<rect x="28.9" y="277.99" width="27.6" height="38.71" rx="1.6" fill="#4292ce"/>
<g fill="#4292ce"><circle cx="50.6" cy="276.2" r="2.1"/><circle cx="46.7" cy="271.3" r="2.1"/><circle cx="45.2" cy="275.9" r="2.1"/><circle cx="44.6" cy="269.6" r="2.1"/><circle cx="41.1" cy="273.3" r="2.1"/><circle cx="47.9" cy="279.6" r="2.1"/><circle cx="53.2" cy="273.0" r="2.1"/><circle cx="41.4" cy="271.5" r="2.1"/><circle cx="31.8" cy="266.3" r="2.1"/><circle cx="41.9" cy="272.4" r="2.1"/><circle cx="39.9" cy="278.6" r="2.1"/><circle cx="43.3" cy="275.5" r="2.1"/><circle cx="36.5" cy="264.9" r="2.1"/><circle cx="38.6" cy="268.4" r="2.1"/><circle cx="42.9" cy="279.6" r="2.1"/><circle cx="46.8" cy="268.8" r="2.1"/><circle cx="51.9" cy="276.9" r="2.1"/><circle cx="48.2" cy="278.6" r="2.1"/><circle cx="48.9" cy="277.2" r="2.1"/><circle cx="39.3" cy="279.5" r="2.1"/><circle cx="53.5" cy="264.4" r="2.1"/><circle cx="48.6" cy="276.3" r="2.1"/><circle cx="41.8" cy="275.1" r="2.1"/><circle cx="42.5" cy="279.0" r="2.1"/><circle cx="42.7" cy="278.2" r="2.1"/><circle cx="39.3" cy="278.6" r="2.1"/><circle cx="52.1" cy="271.5" r="2.1"/><circle cx="44.3" cy="279.0" r="2.1"/><circle cx="47.9" cy="273.4" r="2.1"/><circle cx="36.2" cy="272.2" r="2.1"/><circle cx="47.4" cy="267.9" r="2.1"/><circle cx="52.2" cy="267.5" r="2.1"/><circle cx="52.3" cy="268.4" r="2.1"/><circle cx="53.4" cy="275.6" r="2.1"/><circle cx="42.8" cy="275.0" r="2.1"/><circle cx="46.2" cy="275.4" r="2.1"/><circle cx="38.3" cy="269.9" r="2.1"/><circle cx="43.0" cy="279.1" r="2.1"/><circle cx="45.6" cy="267.0" r="2.1"/><circle cx="50.2" cy="276.1" r="2.1"/><circle cx="52.2" cy="265.4" r="2.1"/><circle cx="48.4" cy="263.4" r="2.1"/><circle cx="46.3" cy="271.0" r="2.1"/><circle cx="36.3" cy="278.5" r="2.1"/><circle cx="33.5" cy="275.2" r="2.1"/><circle cx="51.0" cy="267.2" r="2.1"/><circle cx="35.9" cy="278.6" r="2.1"/><circle cx="40.9" cy="277.0" r="2.1"/><circle cx="31.7" cy="273.3" r="2.1"/><circle cx="35.0" cy="276.6" r="2.1"/><circle cx="32.9" cy="279.3" r="2.1"/><circle cx="31.6" cy="277.3" r="2.1"/><circle cx="31.5" cy="271.7" r="2.1"/><circle cx="50.0" cy="265.4" r="2.1"/><circle cx="35.3" cy="276.8" r="2.1"/><circle cx="40.0" cy="265.7" r="2.1"/><circle cx="54.2" cy="264.1" r="2.1"/><circle cx="31.8" cy="273.0" r="2.1"/><circle cx="45.4" cy="277.2" r="2.1"/><circle cx="33.6" cy="272.9" r="2.1"/><circle cx="31.7" cy="274.4" r="2.1"/><circle cx="48.9" cy="276.5" r="2.1"/><circle cx="52.1" cy="276.3" r="2.1"/><circle cx="51.2" cy="275.7" r="2.1"/><circle cx="42.1" cy="270.9" r="2.1"/><circle cx="46.5" cy="271.6" r="2.1"/></g>
<g fill="#fff"><circle cx="34.1" cy="272.2" r="0.7"/><circle cx="43.1" cy="267.6" r="0.9"/><circle cx="43.0" cy="276.3" r="0.9"/><circle cx="37.5" cy="270.0" r="0.9"/><circle cx="46.0" cy="268.7" r="0.7"/><circle cx="46.4" cy="274.8" r="0.7"/></g>
<rect x="56.5" y="276.63" width="27.6" height="40.07" rx="1.6" fill="#eeb446"/>
<g fill="#eeb446"><circle cx="81.6" cy="277.6" r="2.1"/><circle cx="81.9" cy="267.9" r="2.1"/><circle cx="69.0" cy="268.9" r="2.1"/><circle cx="72.4" cy="274.3" r="2.1"/><circle cx="77.3" cy="276.0" r="2.1"/><circle cx="64.6" cy="271.5" r="2.1"/><circle cx="70.9" cy="260.5" r="2.1"/><circle cx="59.4" cy="273.1" r="2.1"/><circle cx="61.2" cy="276.0" r="2.1"/><circle cx="64.2" cy="265.2" r="2.1"/><circle cx="62.9" cy="269.1" r="2.1"/><circle cx="63.7" cy="273.1" r="2.1"/><circle cx="69.5" cy="269.9" r="2.1"/><circle cx="73.6" cy="268.7" r="2.1"/><circle cx="79.8" cy="277.9" r="2.1"/><circle cx="75.7" cy="273.1" r="2.1"/><circle cx="70.6" cy="273.7" r="2.1"/><circle cx="59.8" cy="273.2" r="2.1"/><circle cx="70.9" cy="267.3" r="2.1"/><circle cx="60.8" cy="276.7" r="2.1"/><circle cx="67.2" cy="273.0" r="2.1"/><circle cx="80.2" cy="274.4" r="2.1"/><circle cx="65.4" cy="278.1" r="2.1"/><circle cx="67.3" cy="262.0" r="2.1"/><circle cx="74.6" cy="267.1" r="2.1"/><circle cx="65.8" cy="276.6" r="2.1"/><circle cx="74.3" cy="263.5" r="2.1"/><circle cx="69.2" cy="271.5" r="2.1"/><circle cx="70.0" cy="268.0" r="2.1"/><circle cx="72.4" cy="264.6" r="2.1"/><circle cx="65.3" cy="270.7" r="2.1"/><circle cx="80.5" cy="265.0" r="2.1"/><circle cx="76.3" cy="270.0" r="2.1"/><circle cx="72.0" cy="271.2" r="2.1"/><circle cx="69.4" cy="275.8" r="2.1"/><circle cx="67.8" cy="266.1" r="2.1"/><circle cx="61.4" cy="267.0" r="2.1"/><circle cx="78.5" cy="275.2" r="2.1"/><circle cx="81.1" cy="275.1" r="2.1"/><circle cx="59.2" cy="275.6" r="2.1"/><circle cx="76.8" cy="276.1" r="2.1"/><circle cx="70.3" cy="270.6" r="2.1"/><circle cx="69.3" cy="276.3" r="2.1"/><circle cx="64.9" cy="272.9" r="2.1"/><circle cx="69.8" cy="277.8" r="2.1"/><circle cx="77.4" cy="277.8" r="2.1"/><circle cx="78.2" cy="271.5" r="2.1"/><circle cx="64.0" cy="272.6" r="2.1"/><circle cx="64.7" cy="271.6" r="2.1"/><circle cx="74.5" cy="277.6" r="2.1"/><circle cx="72.3" cy="276.5" r="2.1"/><circle cx="60.8" cy="272.2" r="2.1"/><circle cx="81.9" cy="265.9" r="2.1"/><circle cx="68.4" cy="264.4" r="2.1"/><circle cx="60.6" cy="277.5" r="2.1"/><circle cx="81.7" cy="274.4" r="2.1"/><circle cx="61.6" cy="271.0" r="2.1"/><circle cx="64.0" cy="274.8" r="2.1"/><circle cx="74.5" cy="272.7" r="2.1"/><circle cx="70.9" cy="265.6" r="2.1"/><circle cx="71.3" cy="277.8" r="2.1"/><circle cx="76.3" cy="268.2" r="2.1"/></g>
<g fill="#fff"><circle cx="70.7" cy="267.1" r="0.9"/><circle cx="63.2" cy="274.8" r="1.1"/><circle cx="64.6" cy="265.0" r="0.9"/><circle cx="76.4" cy="269.1" r="0.7"/><circle cx="69.6" cy="267.1" r="1.1"/><circle cx="67.8" cy="266.9" r="0.9"/></g>
<rect x="84.1" y="280.72" width="23" height="35.98" rx="1.6" fill="#4b3e98"/>
<g fill="#4b3e98"><circle cx="103.8" cy="279.4" r="2.1"/><circle cx="95.1" cy="282.0" r="2.1"/><circle cx="92.4" cy="279.4" r="2.1"/><circle cx="98.6" cy="280.3" r="2.1"/><circle cx="102.2" cy="272.6" r="2.1"/><circle cx="97.9" cy="276.4" r="2.1"/><circle cx="98.7" cy="282.2" r="2.1"/><circle cx="98.1" cy="268.0" r="2.1"/><circle cx="94.9" cy="279.1" r="2.1"/><circle cx="102.8" cy="278.7" r="2.1"/><circle cx="101.5" cy="266.7" r="2.1"/><circle cx="103.9" cy="279.7" r="2.1"/><circle cx="97.6" cy="281.5" r="2.1"/><circle cx="102.8" cy="269.6" r="2.1"/><circle cx="101.5" cy="280.1" r="2.1"/><circle cx="90.0" cy="279.4" r="2.1"/><circle cx="97.2" cy="272.8" r="2.1"/><circle cx="101.3" cy="271.1" r="2.1"/><circle cx="97.7" cy="276.7" r="2.1"/><circle cx="91.0" cy="277.0" r="2.1"/><circle cx="95.0" cy="271.0" r="2.1"/><circle cx="104.4" cy="269.0" r="2.1"/><circle cx="86.3" cy="275.3" r="2.1"/><circle cx="101.9" cy="278.9" r="2.1"/><circle cx="100.4" cy="277.2" r="2.1"/><circle cx="98.9" cy="275.6" r="2.1"/><circle cx="91.2" cy="276.1" r="2.1"/><circle cx="86.7" cy="265.5" r="2.1"/><circle cx="100.4" cy="272.5" r="2.1"/><circle cx="100.3" cy="280.4" r="2.1"/><circle cx="93.8" cy="278.4" r="2.1"/><circle cx="101.0" cy="281.1" r="2.1"/><circle cx="88.7" cy="268.9" r="2.1"/><circle cx="93.4" cy="275.3" r="2.1"/><circle cx="91.7" cy="262.8" r="2.1"/><circle cx="96.7" cy="282.1" r="2.1"/><circle cx="93.1" cy="276.5" r="2.1"/><circle cx="93.4" cy="275.0" r="2.1"/><circle cx="102.6" cy="274.1" r="2.1"/><circle cx="98.4" cy="277.5" r="2.1"/><circle cx="96.3" cy="281.5" r="2.1"/><circle cx="87.6" cy="280.2" r="2.1"/><circle cx="91.9" cy="278.1" r="2.1"/><circle cx="101.2" cy="279.0" r="2.1"/><circle cx="93.6" cy="280.5" r="2.1"/><circle cx="87.9" cy="277.6" r="2.1"/><circle cx="93.6" cy="276.4" r="2.1"/><circle cx="102.2" cy="280.4" r="2.1"/><circle cx="98.0" cy="275.1" r="2.1"/><circle cx="90.6" cy="275.4" r="2.1"/><circle cx="90.6" cy="272.1" r="2.1"/><circle cx="104.2" cy="270.2" r="2.1"/><circle cx="101.6" cy="275.4" r="2.1"/><circle cx="93.1" cy="272.7" r="2.1"/><circle cx="87.7" cy="274.8" r="2.1"/><circle cx="89.3" cy="274.9" r="2.1"/><circle cx="91.7" cy="281.2" r="2.1"/><circle cx="103.5" cy="276.1" r="2.1"/></g>
<g fill="#fff"><circle cx="98.0" cy="268.3" r="0.9"/><circle cx="89.8" cy="268.9" r="0.9"/><circle cx="90.3" cy="271.7" r="0.9"/><circle cx="90.3" cy="279.1" r="0.7"/><circle cx="91.1" cy="270.0" r="1.1"/></g>
<rect x="107.1" y="277.99" width="22" height="38.71" rx="1.6" fill="#4b562d"/>
<g fill="#4b562d"><circle cx="122.0" cy="275.1" r="2.1"/><circle cx="119.5" cy="276.9" r="2.1"/><circle cx="114.9" cy="273.3" r="2.1"/><circle cx="121.9" cy="276.5" r="2.1"/><circle cx="120.5" cy="279.3" r="2.1"/><circle cx="122.0" cy="274.3" r="2.1"/><circle cx="120.5" cy="265.5" r="2.1"/><circle cx="114.7" cy="274.4" r="2.1"/><circle cx="113.8" cy="278.8" r="2.1"/><circle cx="117.0" cy="266.7" r="2.1"/><circle cx="125.6" cy="270.4" r="2.1"/><circle cx="115.9" cy="279.3" r="2.1"/><circle cx="111.1" cy="268.4" r="2.1"/><circle cx="110.6" cy="278.4" r="2.1"/><circle cx="122.2" cy="275.8" r="2.1"/><circle cx="109.3" cy="270.4" r="2.1"/><circle cx="123.9" cy="275.0" r="2.1"/><circle cx="118.8" cy="273.6" r="2.1"/><circle cx="125.2" cy="271.2" r="2.1"/><circle cx="112.8" cy="274.6" r="2.1"/><circle cx="126.5" cy="277.2" r="2.1"/><circle cx="115.1" cy="268.9" r="2.1"/><circle cx="115.6" cy="267.4" r="2.1"/><circle cx="112.5" cy="276.9" r="2.1"/><circle cx="122.2" cy="264.2" r="2.1"/><circle cx="125.9" cy="275.5" r="2.1"/><circle cx="120.1" cy="278.2" r="2.1"/><circle cx="112.4" cy="266.5" r="2.1"/><circle cx="117.1" cy="270.8" r="2.1"/><circle cx="114.9" cy="275.5" r="2.1"/><circle cx="111.3" cy="276.0" r="2.1"/><circle cx="121.8" cy="279.2" r="2.1"/><circle cx="113.3" cy="266.6" r="2.1"/><circle cx="122.8" cy="273.6" r="2.1"/><circle cx="124.7" cy="274.2" r="2.1"/><circle cx="120.3" cy="266.1" r="2.1"/><circle cx="118.3" cy="276.1" r="2.1"/><circle cx="118.0" cy="272.7" r="2.1"/><circle cx="121.5" cy="268.2" r="2.1"/><circle cx="116.1" cy="273.8" r="2.1"/><circle cx="124.8" cy="272.8" r="2.1"/><circle cx="119.7" cy="267.0" r="2.1"/><circle cx="125.6" cy="273.5" r="2.1"/><circle cx="112.3" cy="273.1" r="2.1"/><circle cx="117.3" cy="276.7" r="2.1"/><circle cx="113.7" cy="276.6" r="2.1"/><circle cx="113.1" cy="265.3" r="2.1"/><circle cx="116.8" cy="279.5" r="2.1"/><circle cx="115.2" cy="278.0" r="2.1"/><circle cx="117.5" cy="278.3" r="2.1"/><circle cx="117.7" cy="265.7" r="2.1"/><circle cx="111.7" cy="264.7" r="2.1"/><circle cx="121.6" cy="274.5" r="2.1"/><circle cx="110.1" cy="274.3" r="2.1"/></g>
<g fill="#fff"><circle cx="110.2" cy="267.2" r="0.9"/><circle cx="121.0" cy="266.3" r="0.7"/><circle cx="116.0" cy="278.2" r="1.1"/><circle cx="112.0" cy="276.8" r="0.7"/><circle cx="122.9" cy="269.9" r="1.1"/></g>
<rect x="129.1" y="279.35" width="21" height="37.35" rx="1.6" fill="#cd2d73"/>
<g fill="#cd2d73"><circle cx="143.3" cy="275.0" r="2.1"/><circle cx="146.6" cy="268.7" r="2.1"/><circle cx="133.0" cy="279.0" r="2.1"/><circle cx="141.7" cy="270.8" r="2.1"/><circle cx="137.5" cy="272.6" r="2.1"/><circle cx="138.4" cy="275.1" r="2.1"/><circle cx="137.9" cy="279.1" r="2.1"/><circle cx="144.8" cy="275.7" r="2.1"/><circle cx="139.1" cy="273.3" r="2.1"/><circle cx="144.1" cy="280.8" r="2.1"/><circle cx="135.0" cy="277.5" r="2.1"/><circle cx="142.9" cy="277.1" r="2.1"/><circle cx="131.7" cy="275.6" r="2.1"/><circle cx="134.6" cy="269.0" r="2.1"/><circle cx="140.9" cy="277.5" r="2.1"/><circle cx="141.7" cy="278.4" r="2.1"/><circle cx="143.0" cy="274.6" r="2.1"/><circle cx="132.0" cy="278.5" r="2.1"/><circle cx="145.0" cy="279.2" r="2.1"/><circle cx="141.2" cy="266.5" r="2.1"/><circle cx="134.5" cy="266.6" r="2.1"/><circle cx="141.9" cy="276.0" r="2.1"/><circle cx="134.3" cy="280.5" r="2.1"/><circle cx="147.6" cy="279.9" r="2.1"/><circle cx="139.0" cy="273.4" r="2.1"/><circle cx="134.7" cy="279.0" r="2.1"/><circle cx="143.0" cy="271.2" r="2.1"/><circle cx="146.4" cy="275.9" r="2.1"/><circle cx="138.1" cy="274.8" r="2.1"/><circle cx="143.3" cy="274.2" r="2.1"/><circle cx="142.3" cy="268.2" r="2.1"/><circle cx="143.0" cy="271.1" r="2.1"/><circle cx="146.5" cy="269.9" r="2.1"/><circle cx="136.8" cy="275.7" r="2.1"/><circle cx="137.8" cy="276.0" r="2.1"/><circle cx="146.7" cy="269.6" r="2.1"/><circle cx="144.2" cy="277.4" r="2.1"/><circle cx="144.4" cy="274.0" r="2.1"/><circle cx="138.8" cy="274.1" r="2.1"/><circle cx="139.2" cy="272.8" r="2.1"/><circle cx="134.4" cy="274.3" r="2.1"/><circle cx="134.4" cy="274.2" r="2.1"/><circle cx="140.8" cy="273.3" r="2.1"/><circle cx="134.1" cy="276.2" r="2.1"/><circle cx="145.7" cy="270.0" r="2.1"/><circle cx="141.5" cy="277.5" r="2.1"/><circle cx="146.1" cy="277.4" r="2.1"/><circle cx="136.4" cy="269.9" r="2.1"/><circle cx="145.3" cy="271.5" r="2.1"/><circle cx="131.4" cy="279.6" r="2.1"/><circle cx="134.5" cy="271.5" r="2.1"/><circle cx="136.6" cy="271.0" r="2.1"/><circle cx="143.4" cy="272.3" r="2.1"/></g>
<g fill="#fff"><circle cx="138.7" cy="273.9" r="1.1"/><circle cx="132.4" cy="271.7" r="0.7"/><circle cx="135.3" cy="277.4" r="0.9"/><circle cx="142.9" cy="271.0" r="0.9"/><circle cx="145.8" cy="270.8" r="0.9"/></g>
<rect x="150.1" y="277.99" width="20.3" height="38.71" rx="1.6" fill="#e46c32"/>
<g fill="#e46c32"><circle cx="165.9" cy="278.1" r="2.1"/><circle cx="155.9" cy="276.3" r="2.1"/><circle cx="167.1" cy="271.0" r="2.1"/><circle cx="162.1" cy="272.1" r="2.1"/><circle cx="158.7" cy="275.8" r="2.1"/><circle cx="161.2" cy="269.6" r="2.1"/><circle cx="156.2" cy="279.2" r="2.1"/><circle cx="164.0" cy="277.8" r="2.1"/><circle cx="154.1" cy="274.6" r="2.1"/><circle cx="158.6" cy="279.3" r="2.1"/><circle cx="156.8" cy="271.2" r="2.1"/><circle cx="153.1" cy="275.1" r="2.1"/><circle cx="166.5" cy="275.1" r="2.1"/><circle cx="161.0" cy="260.4" r="2.1"/><circle cx="158.4" cy="273.2" r="2.1"/><circle cx="155.9" cy="272.2" r="2.1"/><circle cx="158.1" cy="272.3" r="2.1"/><circle cx="167.4" cy="273.5" r="2.1"/><circle cx="153.3" cy="274.4" r="2.1"/><circle cx="163.5" cy="270.5" r="2.1"/><circle cx="152.7" cy="266.2" r="2.1"/><circle cx="162.6" cy="268.8" r="2.1"/><circle cx="156.1" cy="267.4" r="2.1"/><circle cx="154.5" cy="272.6" r="2.1"/><circle cx="164.5" cy="275.8" r="2.1"/><circle cx="160.9" cy="276.0" r="2.1"/><circle cx="154.4" cy="277.2" r="2.1"/><circle cx="152.7" cy="274.9" r="2.1"/><circle cx="156.5" cy="267.0" r="2.1"/><circle cx="161.2" cy="277.0" r="2.1"/><circle cx="163.2" cy="266.2" r="2.1"/><circle cx="158.0" cy="275.6" r="2.1"/><circle cx="157.8" cy="277.7" r="2.1"/><circle cx="167.3" cy="269.9" r="2.1"/><circle cx="159.9" cy="270.1" r="2.1"/><circle cx="161.9" cy="267.3" r="2.1"/><circle cx="152.9" cy="274.0" r="2.1"/><circle cx="162.4" cy="271.5" r="2.1"/><circle cx="167.9" cy="274.1" r="2.1"/><circle cx="153.0" cy="276.6" r="2.1"/><circle cx="163.3" cy="274.0" r="2.1"/><circle cx="164.6" cy="272.9" r="2.1"/><circle cx="156.1" cy="270.6" r="2.1"/><circle cx="162.1" cy="262.1" r="2.1"/><circle cx="164.4" cy="276.7" r="2.1"/><circle cx="157.9" cy="269.3" r="2.1"/><circle cx="152.5" cy="278.5" r="2.1"/><circle cx="167.8" cy="274.5" r="2.1"/></g>
<g fill="#fff"><circle cx="166.5" cy="275.3" r="0.7"/><circle cx="166.1" cy="276.8" r="1.1"/><circle cx="166.2" cy="275.0" r="1.1"/><circle cx="155.8" cy="278.2" r="0.9"/><circle cx="154.2" cy="266.6" r="1.1"/></g>
<rect x="170.4" y="277.99" width="19.1" height="38.71" rx="1.6" fill="#c87db4"/>
<g fill="#c87db4"><circle cx="178.5" cy="279.0" r="2.1"/><circle cx="174.4" cy="274.4" r="2.1"/><circle cx="179.4" cy="274.0" r="2.1"/><circle cx="187.0" cy="275.0" r="2.1"/><circle cx="180.2" cy="274.9" r="2.1"/><circle cx="179.0" cy="279.3" r="2.1"/><circle cx="184.4" cy="276.6" r="2.1"/><circle cx="174.9" cy="276.2" r="2.1"/><circle cx="174.4" cy="273.5" r="2.1"/><circle cx="172.8" cy="277.0" r="2.1"/><circle cx="187.1" cy="275.8" r="2.1"/><circle cx="181.0" cy="272.9" r="2.1"/><circle cx="179.1" cy="275.0" r="2.1"/><circle cx="178.8" cy="272.5" r="2.1"/><circle cx="175.8" cy="277.7" r="2.1"/><circle cx="186.7" cy="277.9" r="2.1"/><circle cx="181.8" cy="268.6" r="2.1"/><circle cx="177.0" cy="278.4" r="2.1"/><circle cx="187.0" cy="274.7" r="2.1"/><circle cx="181.0" cy="277.3" r="2.1"/><circle cx="176.2" cy="277.3" r="2.1"/><circle cx="177.9" cy="278.4" r="2.1"/><circle cx="179.4" cy="276.9" r="2.1"/><circle cx="180.8" cy="276.0" r="2.1"/><circle cx="179.4" cy="279.3" r="2.1"/><circle cx="183.7" cy="274.5" r="2.1"/><circle cx="180.0" cy="278.9" r="2.1"/><circle cx="183.6" cy="276.9" r="2.1"/><circle cx="186.8" cy="267.4" r="2.1"/><circle cx="181.4" cy="276.8" r="2.1"/><circle cx="179.3" cy="279.4" r="2.1"/><circle cx="186.9" cy="272.6" r="2.1"/><circle cx="181.7" cy="278.0" r="2.1"/><circle cx="182.9" cy="274.2" r="2.1"/><circle cx="184.4" cy="273.3" r="2.1"/><circle cx="174.7" cy="276.9" r="2.1"/><circle cx="182.2" cy="274.8" r="2.1"/><circle cx="179.9" cy="279.5" r="2.1"/><circle cx="184.5" cy="274.0" r="2.1"/></g>
<g fill="#fff"><circle cx="185.3" cy="270.5" r="0.9"/><circle cx="177.3" cy="268.5" r="0.9"/><circle cx="182.2" cy="269.2" r="0.9"/><circle cx="181.2" cy="275.5" r="0.7"/></g>
<rect x="189.5" y="277.99" width="17.4" height="38.71" rx="1.6" fill="#7dcdaa"/>
<g fill="#7dcdaa"><circle cx="201.3" cy="270.0" r="2.1"/><circle cx="202.6" cy="272.8" r="2.1"/><circle cx="192.7" cy="276.0" r="2.1"/><circle cx="196.9" cy="278.8" r="2.1"/><circle cx="197.5" cy="265.5" r="2.1"/><circle cx="191.8" cy="266.6" r="2.1"/><circle cx="198.1" cy="276.5" r="2.1"/><circle cx="192.3" cy="272.9" r="2.1"/><circle cx="197.9" cy="278.6" r="2.1"/><circle cx="204.4" cy="278.6" r="2.1"/><circle cx="200.0" cy="275.3" r="2.1"/><circle cx="194.5" cy="275.8" r="2.1"/><circle cx="193.8" cy="272.1" r="2.1"/><circle cx="202.6" cy="275.7" r="2.1"/><circle cx="201.2" cy="274.3" r="2.1"/><circle cx="195.3" cy="274.2" r="2.1"/><circle cx="199.2" cy="269.9" r="2.1"/><circle cx="202.8" cy="279.5" r="2.1"/><circle cx="194.0" cy="271.0" r="2.1"/><circle cx="202.3" cy="277.2" r="2.1"/><circle cx="194.6" cy="275.5" r="2.1"/><circle cx="194.7" cy="278.3" r="2.1"/><circle cx="199.4" cy="274.2" r="2.1"/><circle cx="193.7" cy="273.6" r="2.1"/><circle cx="197.8" cy="271.5" r="2.1"/><circle cx="194.0" cy="270.2" r="2.1"/><circle cx="200.8" cy="279.0" r="2.1"/><circle cx="202.7" cy="276.2" r="2.1"/><circle cx="202.0" cy="269.4" r="2.1"/><circle cx="194.4" cy="276.8" r="2.1"/><circle cx="191.6" cy="268.4" r="2.1"/><circle cx="201.9" cy="270.6" r="2.1"/><circle cx="194.0" cy="273.3" r="2.1"/><circle cx="202.6" cy="265.3" r="2.1"/><circle cx="203.2" cy="272.5" r="2.1"/><circle cx="199.1" cy="273.6" r="2.1"/><circle cx="193.2" cy="279.3" r="2.1"/><circle cx="193.9" cy="277.9" r="2.1"/></g>
<g fill="#fff"><circle cx="202.5" cy="272.1" r="1.1"/><circle cx="193.2" cy="276.2" r="0.9"/><circle cx="198.6" cy="265.8" r="1.1"/><circle cx="200.6" cy="274.3" r="0.7"/></g>
<rect x="207.1" y="284.8" width="16.8" height="31.9" rx="1.6" fill="#781c37"/>
<g fill="#781c37"><circle cx="211.5" cy="275.6" r="2.1"/><circle cx="220.9" cy="284.7" r="2.1"/><circle cx="218.0" cy="279.1" r="2.1"/><circle cx="210.0" cy="286.2" r="2.1"/><circle cx="220.0" cy="277.4" r="2.1"/><circle cx="213.1" cy="282.6" r="2.1"/><circle cx="210.6" cy="272.0" r="2.1"/><circle cx="219.5" cy="274.8" r="2.1"/><circle cx="213.3" cy="275.1" r="2.1"/><circle cx="213.9" cy="268.9" r="2.1"/><circle cx="219.4" cy="284.7" r="2.1"/><circle cx="221.3" cy="282.8" r="2.1"/><circle cx="210.9" cy="270.4" r="2.1"/><circle cx="214.5" cy="283.1" r="2.1"/><circle cx="213.1" cy="283.4" r="2.1"/><circle cx="218.7" cy="277.2" r="2.1"/><circle cx="211.1" cy="268.3" r="2.1"/><circle cx="216.1" cy="267.3" r="2.1"/><circle cx="221.4" cy="279.2" r="2.1"/><circle cx="214.5" cy="276.7" r="2.1"/><circle cx="217.5" cy="275.9" r="2.1"/><circle cx="220.4" cy="272.5" r="2.1"/><circle cx="218.5" cy="266.1" r="2.1"/><circle cx="210.3" cy="270.2" r="2.1"/><circle cx="220.4" cy="282.9" r="2.1"/><circle cx="221.2" cy="283.6" r="2.1"/><circle cx="217.7" cy="285.5" r="2.1"/><circle cx="210.8" cy="286.3" r="2.1"/><circle cx="212.1" cy="282.9" r="2.1"/><circle cx="218.6" cy="284.2" r="2.1"/><circle cx="221.7" cy="284.9" r="2.1"/><circle cx="217.6" cy="274.0" r="2.1"/><circle cx="217.4" cy="267.7" r="2.1"/><circle cx="221.4" cy="278.1" r="2.1"/><circle cx="215.5" cy="280.3" r="2.1"/><circle cx="220.8" cy="280.0" r="2.1"/><circle cx="210.7" cy="284.6" r="2.1"/><circle cx="210.8" cy="285.8" r="2.1"/><circle cx="211.0" cy="283.3" r="2.1"/><circle cx="218.5" cy="281.9" r="2.1"/><circle cx="217.0" cy="282.6" r="2.1"/><circle cx="210.8" cy="279.3" r="2.1"/><circle cx="216.4" cy="281.3" r="2.1"/><circle cx="211.7" cy="286.2" r="2.1"/><circle cx="217.7" cy="269.7" r="2.1"/><circle cx="221.1" cy="271.2" r="2.1"/><circle cx="212.2" cy="282.2" r="2.1"/><circle cx="217.7" cy="279.0" r="2.1"/><circle cx="213.2" cy="267.9" r="2.1"/><circle cx="210.5" cy="264.2" r="2.1"/><circle cx="210.7" cy="283.9" r="2.1"/><circle cx="213.7" cy="274.3" r="2.1"/><circle cx="214.5" cy="267.2" r="2.1"/><circle cx="211.3" cy="270.7" r="2.1"/></g>
<g fill="#fff"><circle cx="218.0" cy="272.3" r="0.9"/><circle cx="211.7" cy="283.7" r="0.9"/><circle cx="218.3" cy="278.8" r="0.7"/><circle cx="214.7" cy="275.7" r="0.7"/></g>
<rect x="223.9" y="282.08" width="16" height="34.62" rx="1.6" fill="#32735a"/>
<g fill="#32735a"><circle cx="229.7" cy="271.3" r="2.1"/><circle cx="229.2" cy="274.1" r="2.1"/><circle cx="229.0" cy="273.5" r="2.1"/><circle cx="232.1" cy="281.5" r="2.1"/><circle cx="229.6" cy="276.5" r="2.1"/><circle cx="231.7" cy="281.9" r="2.1"/><circle cx="235.0" cy="283.6" r="2.1"/><circle cx="228.0" cy="281.8" r="2.1"/><circle cx="229.5" cy="278.9" r="2.1"/><circle cx="232.2" cy="278.3" r="2.1"/><circle cx="229.8" cy="268.7" r="2.1"/><circle cx="226.1" cy="283.0" r="2.1"/><circle cx="236.5" cy="277.8" r="2.1"/><circle cx="227.1" cy="282.1" r="2.1"/><circle cx="231.9" cy="276.7" r="2.1"/><circle cx="233.5" cy="270.2" r="2.1"/><circle cx="228.6" cy="281.8" r="2.1"/><circle cx="234.7" cy="283.5" r="2.1"/><circle cx="231.1" cy="283.4" r="2.1"/><circle cx="236.5" cy="278.4" r="2.1"/><circle cx="236.5" cy="272.8" r="2.1"/><circle cx="226.8" cy="281.9" r="2.1"/><circle cx="227.7" cy="278.4" r="2.1"/><circle cx="234.7" cy="280.0" r="2.1"/><circle cx="228.6" cy="281.5" r="2.1"/><circle cx="226.5" cy="279.0" r="2.1"/><circle cx="236.6" cy="279.0" r="2.1"/><circle cx="229.6" cy="283.7" r="2.1"/><circle cx="234.6" cy="281.4" r="2.1"/><circle cx="236.6" cy="283.1" r="2.1"/><circle cx="232.8" cy="281.6" r="2.1"/><circle cx="231.9" cy="272.6" r="2.1"/><circle cx="229.3" cy="273.9" r="2.1"/><circle cx="226.3" cy="279.7" r="2.1"/><circle cx="230.7" cy="282.7" r="2.1"/><circle cx="226.6" cy="281.5" r="2.1"/><circle cx="228.3" cy="275.4" r="2.1"/><circle cx="229.5" cy="283.3" r="2.1"/><circle cx="233.6" cy="276.7" r="2.1"/><circle cx="228.2" cy="268.7" r="2.1"/><circle cx="230.3" cy="283.4" r="2.1"/></g>
<g fill="#fff"><circle cx="231.3" cy="273.1" r="0.9"/><circle cx="227.4" cy="278.0" r="0.9"/><circle cx="233.4" cy="279.9" r="1.1"/><circle cx="233.7" cy="280.5" r="1.1"/></g>
<rect x="239.9" y="284.8" width="16.6" height="31.9" rx="1.6" fill="#4292ce"/>
<g fill="#4292ce"><circle cx="242.7" cy="285.0" r="2.1"/><circle cx="242.8" cy="278.8" r="2.1"/><circle cx="243.9" cy="262.9" r="2.1"/><circle cx="244.7" cy="281.6" r="2.1"/><circle cx="249.0" cy="280.2" r="2.1"/><circle cx="247.3" cy="282.1" r="2.1"/><circle cx="251.6" cy="282.3" r="2.1"/><circle cx="246.1" cy="284.3" r="2.1"/><circle cx="243.0" cy="262.3" r="2.1"/><circle cx="248.6" cy="285.9" r="2.1"/><circle cx="252.3" cy="279.8" r="2.1"/><circle cx="243.9" cy="273.5" r="2.1"/><circle cx="243.5" cy="280.8" r="2.1"/><circle cx="242.2" cy="275.1" r="2.1"/><circle cx="245.4" cy="276.4" r="2.1"/><circle cx="253.2" cy="281.6" r="2.1"/><circle cx="244.3" cy="261.0" r="2.1"/><circle cx="244.7" cy="269.9" r="2.1"/><circle cx="249.7" cy="278.3" r="2.1"/><circle cx="252.8" cy="280.6" r="2.1"/><circle cx="243.3" cy="279.7" r="2.1"/><circle cx="242.6" cy="283.8" r="2.1"/><circle cx="244.9" cy="283.9" r="2.1"/><circle cx="249.7" cy="284.1" r="2.1"/><circle cx="244.1" cy="268.1" r="2.1"/><circle cx="244.5" cy="272.2" r="2.1"/><circle cx="246.1" cy="268.3" r="2.1"/><circle cx="250.0" cy="281.6" r="2.1"/><circle cx="249.1" cy="285.9" r="2.1"/><circle cx="254.3" cy="276.8" r="2.1"/><circle cx="250.6" cy="273.3" r="2.1"/><circle cx="246.8" cy="263.3" r="2.1"/><circle cx="244.8" cy="286.4" r="2.1"/><circle cx="245.8" cy="276.3" r="2.1"/><circle cx="248.7" cy="285.8" r="2.1"/><circle cx="245.9" cy="281.6" r="2.1"/><circle cx="251.5" cy="286.1" r="2.1"/><circle cx="254.3" cy="279.4" r="2.1"/><circle cx="243.7" cy="279.4" r="2.1"/><circle cx="245.6" cy="285.2" r="2.1"/><circle cx="247.2" cy="280.9" r="2.1"/><circle cx="253.0" cy="284.1" r="2.1"/><circle cx="253.8" cy="272.8" r="2.1"/><circle cx="249.5" cy="285.5" r="2.1"/><circle cx="249.9" cy="268.6" r="2.1"/><circle cx="243.0" cy="268.7" r="2.1"/><circle cx="242.4" cy="275.6" r="2.1"/><circle cx="247.9" cy="279.9" r="2.1"/><circle cx="243.7" cy="285.6" r="2.1"/><circle cx="243.3" cy="274.6" r="2.1"/><circle cx="247.4" cy="274.4" r="2.1"/><circle cx="245.2" cy="283.7" r="2.1"/><circle cx="253.5" cy="283.0" r="2.1"/><circle cx="252.3" cy="264.4" r="2.1"/></g>
<g fill="#fff"><circle cx="245.1" cy="284.3" r="0.9"/><circle cx="252.8" cy="274.7" r="0.7"/><circle cx="245.5" cy="284.0" r="0.7"/><circle cx="244.1" cy="283.6" r="1.1"/></g>
<rect x="256.5" y="284.8" width="18.6" height="31.9" rx="1.6" fill="#eeb446"/>
<g fill="#eeb446"><circle cx="271.3" cy="262.2" r="2.1"/><circle cx="260.4" cy="284.8" r="2.1"/><circle cx="261.5" cy="273.8" r="2.1"/><circle cx="271.5" cy="272.8" r="2.1"/><circle cx="271.8" cy="285.1" r="2.1"/><circle cx="260.2" cy="286.2" r="2.1"/><circle cx="261.2" cy="280.9" r="2.1"/><circle cx="261.4" cy="281.1" r="2.1"/><circle cx="261.1" cy="286.1" r="2.1"/><circle cx="271.7" cy="281.2" r="2.1"/><circle cx="271.6" cy="283.4" r="2.1"/><circle cx="265.2" cy="265.4" r="2.1"/><circle cx="271.5" cy="259.0" r="2.1"/><circle cx="271.5" cy="271.3" r="2.1"/><circle cx="268.7" cy="281.4" r="2.1"/><circle cx="262.1" cy="282.5" r="2.1"/><circle cx="269.9" cy="286.1" r="2.1"/><circle cx="260.3" cy="285.9" r="2.1"/><circle cx="259.8" cy="286.3" r="2.1"/><circle cx="262.6" cy="279.5" r="2.1"/><circle cx="260.3" cy="280.6" r="2.1"/><circle cx="260.7" cy="275.7" r="2.1"/><circle cx="261.8" cy="286.4" r="2.1"/><circle cx="261.4" cy="279.2" r="2.1"/><circle cx="260.2" cy="276.9" r="2.1"/><circle cx="271.1" cy="282.0" r="2.1"/><circle cx="259.5" cy="265.2" r="2.1"/><circle cx="265.2" cy="285.8" r="2.1"/><circle cx="272.3" cy="281.6" r="2.1"/><circle cx="262.0" cy="280.4" r="2.1"/><circle cx="266.6" cy="283.0" r="2.1"/><circle cx="271.4" cy="283.1" r="2.1"/><circle cx="270.3" cy="286.0" r="2.1"/><circle cx="262.5" cy="278.7" r="2.1"/><circle cx="263.0" cy="285.8" r="2.1"/><circle cx="264.6" cy="274.3" r="2.1"/><circle cx="268.3" cy="283.7" r="2.1"/><circle cx="269.6" cy="284.7" r="2.1"/><circle cx="262.1" cy="270.9" r="2.1"/><circle cx="259.0" cy="279.1" r="2.1"/><circle cx="260.4" cy="284.9" r="2.1"/><circle cx="267.0" cy="264.9" r="2.1"/><circle cx="268.5" cy="282.0" r="2.1"/><circle cx="259.2" cy="285.4" r="2.1"/><circle cx="259.1" cy="285.1" r="2.1"/><circle cx="268.9" cy="278.9" r="2.1"/><circle cx="270.6" cy="268.9" r="2.1"/><circle cx="273.0" cy="281.4" r="2.1"/><circle cx="268.8" cy="286.3" r="2.1"/><circle cx="267.4" cy="270.5" r="2.1"/><circle cx="264.6" cy="274.5" r="2.1"/><circle cx="267.7" cy="283.1" r="2.1"/><circle cx="259.4" cy="272.4" r="2.1"/><circle cx="270.3" cy="281.4" r="2.1"/><circle cx="271.3" cy="282.6" r="2.1"/><circle cx="265.1" cy="283.3" r="2.1"/><circle cx="258.8" cy="274.2" r="2.1"/><circle cx="270.8" cy="280.3" r="2.1"/><circle cx="272.2" cy="271.1" r="2.1"/><circle cx="264.7" cy="278.7" r="2.1"/><circle cx="266.2" cy="281.7" r="2.1"/><circle cx="266.6" cy="274.7" r="2.1"/><circle cx="272.2" cy="282.0" r="2.1"/></g>
<g fill="#fff"><circle cx="270.2" cy="278.0" r="0.7"/><circle cx="263.7" cy="274.4" r="1.1"/><circle cx="268.9" cy="281.4" r="0.9"/><circle cx="263.6" cy="276.9" r="1.1"/></g>
<rect x="275.1" y="287.53" width="14.3" height="29.17" rx="1.6" fill="#4b3e98"/>
<g fill="#4b3e98"><circle cx="286.9" cy="284.7" r="2.1"/><circle cx="277.7" cy="286.6" r="2.1"/><circle cx="279.3" cy="283.5" r="2.1"/><circle cx="279.1" cy="270.5" r="2.1"/><circle cx="285.0" cy="280.2" r="2.1"/><circle cx="283.3" cy="284.4" r="2.1"/><circle cx="283.2" cy="278.7" r="2.1"/><circle cx="280.5" cy="282.2" r="2.1"/><circle cx="279.7" cy="276.9" r="2.1"/><circle cx="285.4" cy="277.0" r="2.1"/><circle cx="284.5" cy="283.9" r="2.1"/><circle cx="281.9" cy="286.0" r="2.1"/><circle cx="280.5" cy="264.8" r="2.1"/><circle cx="285.8" cy="285.3" r="2.1"/><circle cx="284.7" cy="288.0" r="2.1"/><circle cx="281.3" cy="279.8" r="2.1"/><circle cx="283.4" cy="287.2" r="2.1"/><circle cx="280.0" cy="285.9" r="2.1"/><circle cx="286.9" cy="275.4" r="2.1"/><circle cx="277.4" cy="274.2" r="2.1"/><circle cx="283.7" cy="273.3" r="2.1"/><circle cx="286.8" cy="269.7" r="2.1"/><circle cx="286.2" cy="277.6" r="2.1"/><circle cx="286.5" cy="277.4" r="2.1"/><circle cx="278.3" cy="284.8" r="2.1"/><circle cx="280.2" cy="288.4" r="2.1"/><circle cx="285.5" cy="274.7" r="2.1"/><circle cx="282.2" cy="281.9" r="2.1"/><circle cx="285.0" cy="274.8" r="2.1"/><circle cx="282.9" cy="281.0" r="2.1"/><circle cx="283.1" cy="281.7" r="2.1"/><circle cx="281.6" cy="278.8" r="2.1"/><circle cx="281.2" cy="289.1" r="2.1"/><circle cx="282.5" cy="269.9" r="2.1"/><circle cx="281.2" cy="285.8" r="2.1"/><circle cx="284.1" cy="267.8" r="2.1"/><circle cx="281.4" cy="280.3" r="2.1"/><circle cx="285.7" cy="275.2" r="2.1"/><circle cx="286.5" cy="286.4" r="2.1"/><circle cx="277.4" cy="281.8" r="2.1"/><circle cx="282.6" cy="283.3" r="2.1"/><circle cx="286.2" cy="273.4" r="2.1"/><circle cx="285.6" cy="262.7" r="2.1"/><circle cx="285.6" cy="274.9" r="2.1"/><circle cx="277.5" cy="286.7" r="2.1"/><circle cx="287.0" cy="283.9" r="2.1"/><circle cx="285.1" cy="278.2" r="2.1"/><circle cx="279.7" cy="284.5" r="2.1"/><circle cx="285.4" cy="275.0" r="2.1"/></g>
<g fill="#fff"><circle cx="281.2" cy="284.1" r="0.9"/><circle cx="279.6" cy="283.9" r="0.7"/><circle cx="278.3" cy="285.3" r="0.9"/></g>
<rect x="289.4" y="286.17" width="13.7" height="30.53" rx="1.6" fill="#4b562d"/>
<g fill="#4b562d"><circle cx="297.1" cy="265.3" r="2.1"/><circle cx="292.5" cy="280.5" r="2.1"/><circle cx="292.6" cy="278.8" r="2.1"/><circle cx="294.1" cy="287.6" r="2.1"/><circle cx="300.7" cy="282.6" r="2.1"/><circle cx="295.5" cy="279.6" r="2.1"/><circle cx="292.2" cy="281.0" r="2.1"/><circle cx="292.9" cy="282.3" r="2.1"/><circle cx="299.3" cy="277.4" r="2.1"/><circle cx="298.2" cy="285.1" r="2.1"/><circle cx="300.2" cy="277.9" r="2.1"/><circle cx="293.8" cy="286.6" r="2.1"/><circle cx="296.2" cy="276.0" r="2.1"/><circle cx="298.0" cy="285.8" r="2.1"/><circle cx="300.8" cy="276.7" r="2.1"/><circle cx="294.0" cy="277.5" r="2.1"/><circle cx="294.3" cy="276.7" r="2.1"/><circle cx="300.2" cy="282.0" r="2.1"/><circle cx="292.0" cy="273.3" r="2.1"/><circle cx="293.3" cy="287.5" r="2.1"/><circle cx="294.8" cy="285.6" r="2.1"/><circle cx="293.6" cy="276.5" r="2.1"/><circle cx="300.5" cy="267.0" r="2.1"/><circle cx="296.3" cy="281.1" r="2.1"/><circle cx="294.7" cy="285.0" r="2.1"/><circle cx="299.6" cy="273.0" r="2.1"/><circle cx="294.4" cy="281.5" r="2.1"/><circle cx="296.1" cy="282.8" r="2.1"/><circle cx="298.9" cy="276.0" r="2.1"/><circle cx="300.4" cy="278.5" r="2.1"/><circle cx="291.8" cy="280.4" r="2.1"/><circle cx="296.5" cy="273.3" r="2.1"/><circle cx="299.9" cy="281.3" r="2.1"/><circle cx="296.4" cy="276.1" r="2.1"/><circle cx="292.8" cy="278.2" r="2.1"/><circle cx="297.6" cy="283.1" r="2.1"/><circle cx="298.0" cy="265.0" r="2.1"/><circle cx="298.9" cy="283.1" r="2.1"/><circle cx="298.0" cy="280.1" r="2.1"/><circle cx="299.6" cy="287.3" r="2.1"/><circle cx="297.0" cy="278.8" r="2.1"/><circle cx="296.6" cy="285.1" r="2.1"/><circle cx="297.9" cy="284.5" r="2.1"/><circle cx="294.4" cy="283.1" r="2.1"/><circle cx="293.7" cy="282.9" r="2.1"/></g>
<g fill="#fff"><circle cx="292.5" cy="279.2" r="1.1"/><circle cx="298.7" cy="276.0" r="0.7"/><circle cx="299.1" cy="283.7" r="0.7"/></g>
<rect x="303.5" y="284.8" width="11" height="31.9" rx="1.6" fill="#cd2d73"/>
<g fill="#cd2d73"><circle cx="309.6" cy="276.4" r="2.1"/><circle cx="308.4" cy="273.5" r="2.1"/><circle cx="312.0" cy="264.0" r="2.1"/><circle cx="309.2" cy="283.7" r="2.1"/><circle cx="311.8" cy="285.3" r="2.1"/><circle cx="308.2" cy="283.5" r="2.1"/><circle cx="311.7" cy="274.1" r="2.1"/><circle cx="306.4" cy="275.0" r="2.1"/><circle cx="307.1" cy="277.0" r="2.1"/><circle cx="306.3" cy="279.2" r="2.1"/><circle cx="312.2" cy="269.2" r="2.1"/><circle cx="310.4" cy="273.6" r="2.1"/><circle cx="309.5" cy="275.3" r="2.1"/><circle cx="308.9" cy="282.3" r="2.1"/><circle cx="306.1" cy="284.7" r="2.1"/><circle cx="306.2" cy="285.2" r="2.1"/><circle cx="306.9" cy="278.0" r="2.1"/><circle cx="308.8" cy="284.3" r="2.1"/><circle cx="311.8" cy="278.3" r="2.1"/><circle cx="309.9" cy="275.8" r="2.1"/><circle cx="309.6" cy="270.9" r="2.1"/><circle cx="309.2" cy="273.0" r="2.1"/><circle cx="309.4" cy="275.1" r="2.1"/><circle cx="307.1" cy="283.8" r="2.1"/><circle cx="310.4" cy="275.8" r="2.1"/><circle cx="310.3" cy="282.2" r="2.1"/><circle cx="308.6" cy="282.4" r="2.1"/><circle cx="308.7" cy="273.0" r="2.1"/><circle cx="307.7" cy="280.5" r="2.1"/><circle cx="309.6" cy="285.6" r="2.1"/><circle cx="312.0" cy="282.3" r="2.1"/><circle cx="308.4" cy="278.1" r="2.1"/><circle cx="310.4" cy="286.1" r="2.1"/></g>
<g fill="#fff"><circle cx="311.2" cy="271.8" r="1.1"/><circle cx="307.0" cy="278.3" r="0.9"/></g>
<rect x="314.8" y="286.17" width="11.8" height="30.53" rx="1.6" fill="#e46c32"/>
<g fill="#e46c32"><circle cx="322.5" cy="278.3" r="2.1"/><circle cx="323.2" cy="282.5" r="2.1"/><circle cx="321.4" cy="281.6" r="2.1"/><circle cx="322.6" cy="283.8" r="2.1"/><circle cx="320.4" cy="284.7" r="2.1"/><circle cx="320.1" cy="284.0" r="2.1"/><circle cx="323.8" cy="281.3" r="2.1"/><circle cx="318.0" cy="286.7" r="2.1"/><circle cx="318.5" cy="274.5" r="2.1"/><circle cx="317.2" cy="279.8" r="2.1"/><circle cx="319.9" cy="285.2" r="2.1"/><circle cx="318.2" cy="278.5" r="2.1"/><circle cx="322.7" cy="266.5" r="2.1"/><circle cx="320.0" cy="271.3" r="2.1"/><circle cx="322.8" cy="276.4" r="2.1"/><circle cx="318.0" cy="272.0" r="2.1"/><circle cx="318.5" cy="283.8" r="2.1"/><circle cx="317.8" cy="269.0" r="2.1"/><circle cx="318.7" cy="267.9" r="2.1"/><circle cx="322.5" cy="284.5" r="2.1"/><circle cx="320.9" cy="276.3" r="2.1"/><circle cx="317.2" cy="284.3" r="2.1"/><circle cx="318.7" cy="281.3" r="2.1"/><circle cx="324.4" cy="275.9" r="2.1"/><circle cx="322.1" cy="279.0" r="2.1"/><circle cx="321.0" cy="277.9" r="2.1"/><circle cx="322.2" cy="280.6" r="2.1"/><circle cx="317.1" cy="285.7" r="2.1"/><circle cx="318.7" cy="277.6" r="2.1"/><circle cx="320.5" cy="281.6" r="2.1"/><circle cx="322.7" cy="271.2" r="2.1"/><circle cx="319.8" cy="282.1" r="2.1"/><circle cx="320.5" cy="274.0" r="2.1"/><circle cx="322.9" cy="287.3" r="2.1"/><circle cx="321.8" cy="280.7" r="2.1"/><circle cx="318.1" cy="280.4" r="2.1"/><circle cx="322.9" cy="276.8" r="2.1"/></g>
<g fill="#fff"><circle cx="320.3" cy="280.3" r="0.9"/><circle cx="318.6" cy="278.1" r="1.1"/></g>
<rect x="326.9" y="284.8" width="10.8" height="31.9" rx="1.6" fill="#c87db4"/>
<g fill="#c87db4"><circle cx="329.2" cy="283.8" r="2.1"/><circle cx="331.8" cy="270.5" r="2.1"/><circle cx="329.3" cy="283.4" r="2.1"/><circle cx="330.4" cy="285.4" r="2.1"/><circle cx="331.4" cy="281.3" r="2.1"/><circle cx="331.3" cy="281.7" r="2.1"/><circle cx="329.9" cy="273.9" r="2.1"/><circle cx="329.8" cy="266.9" r="2.1"/><circle cx="332.7" cy="286.3" r="2.1"/><circle cx="329.0" cy="284.8" r="2.1"/><circle cx="330.9" cy="271.3" r="2.1"/><circle cx="329.2" cy="275.6" r="2.1"/><circle cx="329.6" cy="278.6" r="2.1"/><circle cx="332.0" cy="272.1" r="2.1"/><circle cx="334.8" cy="281.0" r="2.1"/><circle cx="334.0" cy="274.7" r="2.1"/><circle cx="333.8" cy="282.6" r="2.1"/><circle cx="334.1" cy="273.3" r="2.1"/><circle cx="335.3" cy="279.0" r="2.1"/><circle cx="329.5" cy="285.4" r="2.1"/><circle cx="331.0" cy="285.1" r="2.1"/><circle cx="330.4" cy="267.7" r="2.1"/><circle cx="332.4" cy="280.2" r="2.1"/><circle cx="333.4" cy="281.8" r="2.1"/><circle cx="331.4" cy="283.3" r="2.1"/><circle cx="332.4" cy="271.6" r="2.1"/><circle cx="332.9" cy="276.8" r="2.1"/><circle cx="332.6" cy="272.1" r="2.1"/><circle cx="330.7" cy="274.1" r="2.1"/><circle cx="333.4" cy="266.7" r="2.1"/><circle cx="331.7" cy="277.5" r="2.1"/><circle cx="334.8" cy="271.6" r="2.1"/><circle cx="332.4" cy="284.0" r="2.1"/><circle cx="331.7" cy="285.9" r="2.1"/></g>
<g fill="#fff"><circle cx="331.1" cy="278.3" r="0.9"/><circle cx="331.8" cy="284.1" r="1.1"/></g>
<rect x="338.4" y="284.8" width="10.2" height="31.9" rx="1.6" fill="#7dcdaa"/>
<g fill="#7dcdaa"><circle cx="341.2" cy="279.2" r="2.1"/><circle cx="345.7" cy="285.7" r="2.1"/><circle cx="345.6" cy="276.9" r="2.1"/><circle cx="340.6" cy="279.8" r="2.1"/><circle cx="345.2" cy="285.1" r="2.1"/><circle cx="341.7" cy="273.3" r="2.1"/><circle cx="344.8" cy="284.5" r="2.1"/><circle cx="342.0" cy="283.4" r="2.1"/><circle cx="344.9" cy="282.8" r="2.1"/><circle cx="345.6" cy="281.5" r="2.1"/><circle cx="342.0" cy="285.7" r="2.1"/><circle cx="344.3" cy="268.4" r="2.1"/><circle cx="344.7" cy="280.8" r="2.1"/><circle cx="345.5" cy="272.9" r="2.1"/><circle cx="345.6" cy="278.6" r="2.1"/><circle cx="345.6" cy="275.0" r="2.1"/><circle cx="346.2" cy="268.7" r="2.1"/><circle cx="343.4" cy="275.0" r="2.1"/><circle cx="342.1" cy="268.3" r="2.1"/><circle cx="340.8" cy="278.2" r="2.1"/><circle cx="342.1" cy="279.4" r="2.1"/><circle cx="345.1" cy="281.4" r="2.1"/><circle cx="340.6" cy="282.2" r="2.1"/><circle cx="346.3" cy="273.4" r="2.1"/><circle cx="340.6" cy="278.3" r="2.1"/><circle cx="340.6" cy="286.3" r="2.1"/><circle cx="341.9" cy="272.9" r="2.1"/><circle cx="344.4" cy="265.4" r="2.1"/><circle cx="345.8" cy="284.1" r="2.1"/><circle cx="343.2" cy="272.8" r="2.1"/><circle cx="342.4" cy="281.8" r="2.1"/></g>
<g fill="#fff"><circle cx="344.3" cy="277.0" r="0.9"/><circle cx="342.0" cy="277.6" r="1.1"/></g>
<rect x="349.3" y="280.72" width="8.5" height="35.98" rx="1.6" fill="#781c37"/>
<g fill="#781c37"><circle cx="355.3" cy="277.8" r="2.1"/><circle cx="355.3" cy="280.5" r="2.1"/><circle cx="354.2" cy="269.1" r="2.1"/><circle cx="355.4" cy="271.0" r="2.1"/><circle cx="353.8" cy="275.0" r="2.1"/><circle cx="353.5" cy="279.9" r="2.1"/><circle cx="355.6" cy="273.6" r="2.1"/><circle cx="355.2" cy="274.0" r="2.1"/><circle cx="354.3" cy="280.4" r="2.1"/><circle cx="354.7" cy="282.0" r="2.1"/><circle cx="355.0" cy="274.2" r="2.1"/><circle cx="355.2" cy="278.4" r="2.1"/><circle cx="355.1" cy="279.7" r="2.1"/><circle cx="351.8" cy="279.8" r="2.1"/><circle cx="353.2" cy="282.2" r="2.1"/><circle cx="354.1" cy="267.9" r="2.1"/><circle cx="351.5" cy="277.9" r="2.1"/><circle cx="354.1" cy="274.4" r="2.1"/><circle cx="355.6" cy="280.8" r="2.1"/><circle cx="352.6" cy="280.9" r="2.1"/><circle cx="352.8" cy="275.0" r="2.1"/><circle cx="352.8" cy="277.6" r="2.1"/><circle cx="354.1" cy="276.6" r="2.1"/></g>
<g fill="#fff"><circle cx="353.5" cy="269.9" r="1.1"/><circle cx="354.6" cy="274.9" r="1.1"/></g>
<rect x="358.5" y="282.08" width="10.5" height="34.62" rx="1.6" fill="#32735a"/>
<g fill="#32735a"><circle cx="364.0" cy="276.7" r="2.1"/><circle cx="363.0" cy="279.1" r="2.1"/><circle cx="364.9" cy="276.9" r="2.1"/><circle cx="362.6" cy="265.7" r="2.1"/><circle cx="363.2" cy="274.9" r="2.1"/><circle cx="362.5" cy="273.4" r="2.1"/><circle cx="365.8" cy="274.9" r="2.1"/><circle cx="365.6" cy="281.1" r="2.1"/><circle cx="366.3" cy="268.4" r="2.1"/><circle cx="365.9" cy="275.4" r="2.1"/><circle cx="365.1" cy="283.4" r="2.1"/><circle cx="363.1" cy="283.0" r="2.1"/><circle cx="363.3" cy="271.7" r="2.1"/><circle cx="366.9" cy="268.9" r="2.1"/><circle cx="363.9" cy="279.0" r="2.1"/><circle cx="366.0" cy="281.4" r="2.1"/><circle cx="361.7" cy="276.5" r="2.1"/><circle cx="363.6" cy="278.7" r="2.1"/><circle cx="366.5" cy="271.1" r="2.1"/><circle cx="361.0" cy="274.0" r="2.1"/><circle cx="362.6" cy="278.2" r="2.1"/><circle cx="364.5" cy="281.1" r="2.1"/><circle cx="361.1" cy="269.8" r="2.1"/><circle cx="365.5" cy="267.7" r="2.1"/><circle cx="365.0" cy="270.8" r="2.1"/><circle cx="364.5" cy="280.3" r="2.1"/></g>
<g fill="#fff"><circle cx="364.1" cy="281.4" r="1.1"/><circle cx="363.1" cy="274.9" r="1.1"/></g>
<rect x="369.6" y="282.08" width="6.6" height="34.62" rx="1.6" fill="#4292ce"/>
<g fill="#4292ce"><circle cx="371.7" cy="282.6" r="2.1"/><circle cx="373.0" cy="271.7" r="2.1"/><circle cx="372.9" cy="277.8" r="2.1"/><circle cx="372.7" cy="272.6" r="2.1"/><circle cx="373.8" cy="281.7" r="2.1"/><circle cx="372.6" cy="269.4" r="2.1"/><circle cx="373.7" cy="272.9" r="2.1"/><circle cx="372.6" cy="276.1" r="2.1"/><circle cx="373.7" cy="277.8" r="2.1"/><circle cx="373.0" cy="273.0" r="2.1"/><circle cx="372.5" cy="281.7" r="2.1"/><circle cx="371.9" cy="279.4" r="2.1"/><circle cx="371.8" cy="282.6" r="2.1"/><circle cx="373.7" cy="271.3" r="2.1"/><circle cx="373.1" cy="277.6" r="2.1"/><circle cx="372.8" cy="270.6" r="2.1"/><circle cx="372.0" cy="283.3" r="2.1"/></g>
<g fill="#fff"><circle cx="372.6" cy="274.6" r="1.1"/></g>
<rect x="376.9" y="283.44" width="7.9" height="33.26" rx="1.6" fill="#eeb446"/>
<g fill="#eeb446"><circle cx="379.7" cy="283.7" r="2.1"/><circle cx="381.8" cy="282.0" r="2.1"/><circle cx="379.9" cy="280.2" r="2.1"/><circle cx="382.0" cy="281.6" r="2.1"/><circle cx="382.5" cy="268.8" r="2.1"/><circle cx="380.2" cy="277.8" r="2.1"/><circle cx="380.5" cy="284.9" r="2.1"/><circle cx="382.6" cy="283.2" r="2.1"/><circle cx="381.4" cy="282.6" r="2.1"/><circle cx="382.1" cy="273.7" r="2.1"/><circle cx="381.3" cy="284.9" r="2.1"/><circle cx="379.6" cy="279.3" r="2.1"/><circle cx="380.4" cy="283.7" r="2.1"/><circle cx="380.7" cy="272.9" r="2.1"/><circle cx="380.4" cy="281.4" r="2.1"/><circle cx="381.0" cy="268.5" r="2.1"/><circle cx="382.0" cy="275.2" r="2.1"/><circle cx="379.1" cy="281.5" r="2.1"/><circle cx="381.5" cy="280.5" r="2.1"/><circle cx="379.3" cy="270.4" r="2.1"/><circle cx="381.7" cy="279.1" r="2.1"/></g>
<g fill="#fff"><circle cx="379.9" cy="276.1" r="0.7"/></g>
<path d="M28 182.4 V314.3" stroke="#111" stroke-width="1.3" fill="none"/>
<path d="M24.4 182.4 H28" stroke="#111" stroke-width="1.2"/>
<text x="22.6" y="185.4" text-anchor="end" font-size="8.5" font-weight="bold" fill="#111">1.0</text>
<path d="M24.4 204.5 H28" stroke="#111" stroke-width="1.2"/>
<text x="22.6" y="207.5" text-anchor="end" font-size="8.5" font-weight="bold" fill="#111">0.8</text>
<path d="M24.4 231.6 H28" stroke="#111" stroke-width="1.2"/>
<text x="22.6" y="234.6" text-anchor="end" font-size="8.5" font-weight="bold" fill="#111">0.6</text>
<path d="M24.4 259.2 H28" stroke="#111" stroke-width="1.2"/>
<text x="22.6" y="262.2" text-anchor="end" font-size="8.5" font-weight="bold" fill="#111">0.4</text>
<path d="M24.4 286.5 H28" stroke="#111" stroke-width="1.2"/>
<text x="22.6" y="289.5" text-anchor="end" font-size="8.5" font-weight="bold" fill="#111">0.2</text>
<path d="M24.4 313.7 H28" stroke="#111" stroke-width="1.2"/>
<text x="22.6" y="316.7" text-anchor="end" font-size="8.5" font-weight="bold" fill="#111">0.0</text>
<text transform="translate(7.4 247.4) rotate(-90)" text-anchor="middle" font-size="8.4" font-weight="bold" fill="#111">INS.frequency difference</text>
<path d="M28 322.9 V319.6 H385.3" stroke="#111" stroke-width="1.3" fill="none"/>
<path d="M43 319.6 V322.9" stroke="#111" stroke-width="1.2"/>
<path d="M70.6 319.6 V322.9" stroke="#111" stroke-width="1.2"/>
<path d="M95.9 319.6 V322.9" stroke="#111" stroke-width="1.2"/>
<path d="M118.4 319.6 V322.9" stroke="#111" stroke-width="1.2"/>
<path d="M139.9 319.6 V322.9" stroke="#111" stroke-width="1.2"/>
<path d="M160.55 319.6 V322.9" stroke="#111" stroke-width="1.2"/>
<path d="M180.25 319.6 V322.9" stroke="#111" stroke-width="1.2"/>
<path d="M198.5 319.6 V322.9" stroke="#111" stroke-width="1.2"/>
<path d="M215.8 319.6 V322.9" stroke="#111" stroke-width="1.2"/>
<path d="M232.2 319.6 V322.9" stroke="#111" stroke-width="1.2"/>
<path d="M248.5 319.6 V322.9" stroke="#111" stroke-width="1.2"/>
<path d="M266.1 319.6 V322.9" stroke="#111" stroke-width="1.2"/>
<path d="M282.55 319.6 V322.9" stroke="#111" stroke-width="1.2"/>
<path d="M296.55 319.6 V322.9" stroke="#111" stroke-width="1.2"/>
<path d="M309.3 319.6 V322.9" stroke="#111" stroke-width="1.2"/>
<path d="M321 319.6 V322.9" stroke="#111" stroke-width="1.2"/>
<path d="M332.6 319.6 V322.9" stroke="#111" stroke-width="1.2"/>
<path d="M343.8 319.6 V322.9" stroke="#111" stroke-width="1.2"/>
<path d="M353.85 319.6 V322.9" stroke="#111" stroke-width="1.2"/>
<path d="M364.05 319.6 V322.9" stroke="#111" stroke-width="1.2"/>
<path d="M373.2 319.6 V322.9" stroke="#111" stroke-width="1.2"/>
<path d="M381.15 319.6 V322.9" stroke="#111" stroke-width="1.2"/>
<text x="20.2" y="330.6" font-size="7.2" font-weight="bold" fill="#111">Chr</text>
<g font-size="7.2" font-weight="bold" fill="#111" text-anchor="middle"><text x="43" y="330.6">1</text><text x="70.6" y="330.6">2</text><text x="95.9" y="330.6">3</text><text x="118.4" y="330.6">4</text><text x="139.9" y="330.6">5</text><text x="160.55" y="330.6">6</text><text x="180.25" y="330.6">7</text><text x="198.5" y="330.6">8</text><text x="215.8" y="330.6">9</text><text x="232.2" y="330.6">10</text><text x="248.5" y="330.6">11</text><text x="266.1" y="330.6">12</text><text x="282.55" y="330.6">13</text><text x="296.55" y="330.6">14</text><text x="309.3" y="330.6">15</text><text x="321" y="330.6">16</text><text x="332.6" y="330.6">17</text><text x="343.8" y="330.6">18</text><text x="353.85" y="330.6">19</text><text x="364.05" y="330.6">20</text><text x="373.2" y="330.6">21</text><text x="381.15" y="330.6">22</text></g>
<path d="M28 259.2 H385.5" stroke="#f0504b" stroke-width="1.6" stroke-dasharray="6.6 5.28" stroke-dashoffset="2.6" fill="none"/>
<path d="M40.7 214.4L46.7 222.2" stroke="#222" stroke-width="0.8"/><circle cx="47.7" cy="223.9" r="2.3" fill="#4292ce"/><text x="30.2" y="200.57" font-size="8.5" font-style="italic" fill="#1e1e1e" stroke="#1e1e1e" stroke-width="0.22" transform="scale(1 1.06)">SLC19A2</text>
<path d="M40 234.6L53.4 230.9" stroke="#222" stroke-width="0.8"/><circle cx="38.5" cy="234.9" r="2.3" fill="#4292ce"/><text x="53.4" y="218.49" font-size="8.5" font-style="italic" fill="#1e1e1e" stroke="#1e1e1e" stroke-width="0.22" transform="scale(1 1.06)">GIPC2</text>
<circle cx="182.4" cy="250" r="2.3" fill="#c87db4"/><text x="171.8" y="230.85" font-size="8.5" font-style="italic" fill="#1e1e1e" stroke="#1e1e1e" stroke-width="0.22" transform="scale(1 1.06)">CUX1</text>
<path d="M231.2 239.9L242 248.5" stroke="#222" stroke-width="0.8"/><path d="M253 246.6L245.4 252.6" stroke="#222" stroke-width="0.8"/><circle cx="242.9" cy="250.4" r="2.3" fill="#4292ce"/><circle cx="243.5" cy="253.2" r="2.3" fill="#4292ce"/>
<text x="213.1" y="225.09" font-size="8.5" font-style="italic" fill="#1e1e1e" stroke="#1e1e1e" stroke-width="0.22" transform="scale(1 1.06)">OR52H1</text><text x="253.9" y="232.26" font-size="8.5" font-style="italic" fill="#1e1e1e" stroke="#1e1e1e" stroke-width="0.22" transform="scale(1 1.06)">SYT9</text>
<path d="M320.7 241.6L328.2 252.8" stroke="#222" stroke-width="0.8"/><circle cx="329.4" cy="254.6" r="2.3" fill="#c87db4"/><text x="301.7" y="226.13" font-size="8.5" font-style="italic" fill="#1e1e1e" stroke="#1e1e1e" stroke-width="0.22" transform="scale(1 1.06)">CACNA1G</text>
<path d="M363.7 244.8L355 252.4" stroke="#222" stroke-width="0.8"/><circle cx="353.5" cy="254.3" r="2.3" fill="#781c37"/><text x="349.9" y="229.81" font-size="8.5" font-style="italic" fill="#1e1e1e" stroke="#1e1e1e" stroke-width="0.22" transform="scale(1 1.06)">FGF21</text>
<g><path d="M437.2 25.95L439.94 22.98L445.01 20.97L451.96 20.01L457.9 19.48L461.81 18.63L465.71 18.21L469.62 19.8L471.96 23.51L473.52 26.16L469.62 28.28L465.71 29.87L457.9 30.93L450.09 31.46L443.84 30.93L439.16 29.87L437.59 28.81Z" fill="#e0e1e3"/><path d="M404.79 35.06L406.35 34.43L409.48 33.79L407.92 32.84L405.96 32.2L408.7 30.93L413.54 29.02L417.29 29.55L422.75 30.29L425.88 30.72L429 31.57L430.96 30.93L434.47 30.4L438.38 30.93L442.28 31.57L446.19 32.63L450.09 32.52L453.21 31.99L457.9 32.73L460.24 31.99L462.2 28.39L464.15 30.4L466.49 31.99L469.62 30.93L471.96 30.93L472.35 33.58L470.4 34.64L468.83 36.23L468.05 36.55L465.71 36.76L462.59 39.94L462.59 42.06L463.76 44.18L467.27 45.24L469.62 45.98L471.72 46.3L471.96 48.42L473.13 50.22L474.3 50.01L474.46 46.83L475.86 45.24L476.25 42.59L475.08 40.47L475.47 38.35L478.21 38.67L480.16 39.73L481.72 41.53L482.89 42.59L484.45 41.53L485.63 40.68L487.58 43.65L489.14 45.77L491.48 47.89L492.42 49.48L491.09 50.22L489.14 51.39L486.02 51.39L484.06 51.6L482.11 53.19L480.55 54.78L482.5 53.19L484.45 52.45L485.63 52.66L485.63 55.31L488.36 56.37L489.14 56.05L486.41 57.32L484.45 58.17L484.45 56.9L483.28 57.43L481.33 58.17L480.86 59.44L481.33 60.4L480.16 60.72L478.21 61.56L478.21 62.73L477.43 63.47L476.64 65.38L477.03 67.29L475.47 68.03L474.3 69.41L472.74 71L472.5 72.8L473.13 74.6L473.52 76.51L473.21 77.89L472.5 77.57L471.96 76.3L471.33 74.92L471.18 73.65L470.4 72.8L469.22 73.12L468.05 72.38L466.49 72.48L466.1 73.54L464.93 73.54L462.98 73.12L461.81 73.54L460.24 75.24L459.93 77.04L459.7 79.16L459.62 80.96L460.09 82.87L460.95 84.35L462.2 85.31L464.15 84.88L464.93 84.46L465.4 82.87L465.71 82.13L467.97 81.81L467.66 83.4L467.12 84.99L467.04 87.64L468.83 87.75L470.86 88.7L470.63 90.82L470.79 92.94L471.96 94.74L473.91 94.42L475.47 95.59L475.63 96.12L475.08 96.86L473.52 96.76L471.96 95.91L469.77 94.21L469.07 92.94L467.66 90.82L466.1 90.29L464.54 89.76L462.98 87.85L461.81 87.53L460.63 87.96L459.07 87.32L457.12 86.26L455.17 85.2L453.6 82.87L453.76 81.81L452.82 80.01L451.65 77.89L450.48 76.51L449.31 74.92L447.9 72.48L446.34 70.89L446.58 72.8L447.36 74.07L448.29 75.77L448.92 77.25L449.86 78.95L450.48 80.22L449.86 79.69L448.53 78.31L446.97 75.66L446.34 74.92L445.79 73.33L444.78 71L444.47 69.94L443.45 68.56L441.81 67.92L440.8 65.8L440.33 64.53L439.31 62.41L438.84 61.78L439 60.08L439.16 55.63L438.61 53.3L438.38 51.6L436.03 50.54L434.47 46.83L432.91 45.24L430.56 42.59L428.61 42.27L426.66 41.21L424.32 40.68L421.97 40.05L419.63 40.47L417.29 41L415.34 42.8L413.77 44.71L411.82 45.66L409.48 46.3L407.29 46.83L407.92 45.24L408.31 43.12L407.13 40.47L406.74 38.67L407.53 37.61L408.7 36.76L407.29 36.23L405.96 35.49ZM440.33 23.62L442.28 22.66L445.4 22.45L446.58 23.19L444.62 23.83L442.67 24.15ZM462.98 24.89L460.63 24.68L461.02 25.31L462.59 25.52ZM459.46 21.18L455.56 21.28L454.78 22.13L457.12 22.34L460.24 22.03ZM461.81 21.28L460.24 21.5L460.24 22.34L461.81 22.13ZM454 21.39L448.53 21.81L448.53 22.66L453.21 22.56ZM461.41 32.2L459.07 31.46L459.46 30.61L461.02 30.61L462.2 31.46ZM475.08 26.69L472.74 26.48L473.52 27.22ZM473.13 26.48L477.43 27.75L480.55 29.55L482.89 30.4L484.06 32.52L487.58 33.79L486.02 35.17L484.84 36.23L485.39 37.29L485 38.35L482.5 38.56L480.55 38.03L478.99 36.97L477.43 36.23L475.47 36.23L478.21 35.17L478.6 33.05L476.64 32.52L474.3 30.93L471.96 30.72L468.83 30.4L466.49 27.75L467.27 26.58L469.62 26.37ZM465.71 19.27L469.62 17.15L475.86 16.62L485.24 16.83L488.36 17.36L486.02 18.74L481.33 19.8L478.21 20.86L476.64 21.6L475.08 22.98L473.91 23.83L469.62 23.51L466.49 23.51L464.93 21.92L463.37 19.8ZM461.02 19.59L464.15 18.53L467.27 19.48L467.27 20.86L464.93 21.6L461.81 21.07ZM473.52 25.63L464.15 25.31L461.02 24.57L464.93 23.4L470.4 23.62L473.52 24.57ZM443.45 27.01L442.83 28.7L444.23 29.98L446.19 30.82L448.53 31.46L451.65 31.88L454.78 31.67L456.88 30.93L457.12 29.66L455.95 28.28L454 26.8L451.65 27.01L449.31 27.64L446.97 26.8ZM441.5 25.63L438.38 25.95L437.98 28.07L439.16 29.23L441.5 29.34L443.84 28.49L445.4 26.9L443.84 25.95ZM444.23 24.25L445.4 23.3L448.53 23.09L451.26 23.3L453.21 24.15L453.6 24.89L451.65 25.31L448.53 25.63L445.79 25.52ZM460.24 26.16L457.12 26.69L455.95 27.75L457.9 29.34L460.24 29.02L461.02 27.75ZM465.32 26.05L461.81 26.27L461.81 28.07L463.37 28.49L464.93 27.75ZM459.85 23.4L457.12 23.72L457.51 24.68L459.46 25.1ZM473.13 35.17L471.18 34.43L468.83 34.64L468.05 35.91L468.83 37.08L470.4 36.76L472.35 36.97L473.13 36.23ZM489.69 54.14L492.26 54.14L494.22 55.1L494.84 54.25L494.61 52.66L492.65 51.81L492.42 49.9L491.09 51.07L490.31 52.66ZM489.14 17.89L496.95 17.36L504.76 16.09L512.57 15.98L518.82 17.15L526.63 18.21L522.72 19.8L521.16 21.39L521.55 22.98L520.38 25.1L519.21 27.75L518.82 29.87L516.48 30.93L512.57 32.31L509.45 34.11L506.32 35.17L504.76 36.23L503.59 37.82L502.42 40.47L501.64 41.21L500.07 40.15L498.12 39.09L496.56 37.29L495.54 35.7L494.22 34L494.22 31.99L495.78 31.46L496.17 29.87L493.44 29.34L492.65 27.54L491.48 25.63L489.92 24.25L486.02 23.83L482.89 23.51L480.55 22.45L478.99 21.6L482.89 20.33L486.02 19.27ZM517.26 35.17L518.82 34.22L521.94 34.53L524.68 34.53L525.46 35.7L524.28 36.44L521.94 37.4L520.38 37.18L518.27 36.97L518.82 36.23ZM475.63 95.48L476.64 94.64L477.19 93.15L478.21 92.62L479.77 91.56L480.16 92.94L480.31 94L481.33 92.41L482.89 93.47L484.45 93.36L486.02 93.36L487.58 93.26L488.75 95.59L489.92 96.12L491.09 97.92L493.05 98.35L494.61 98.77L495.78 100.04L496.95 102.69L496.95 104.6L498.12 105.66L500.07 105.66L501.64 107.25L503.98 107.67L505.54 108.31L507.1 109.9L508.51 110.43L508.82 112.55L508.67 114.67L507.1 116.26L505.93 118.38L505.54 120.5L505.54 123.15L504.76 125.8L503.98 127.92L502.42 128.98L500.86 129.83L498.51 131.95L498.04 134.81L496.95 136.93L495.78 137.99L494.61 140.11L493.44 141.49L491.87 141.49L490.31 140.64L491.09 142.76L491.48 144.35L490.7 145.41L487.58 145.94L487.42 147.64L485.24 148.06L485.63 149.65L486.17 149.97L485.24 150.71L483.28 153.36L484.45 154.95L483.28 157.07L482.11 158.13L482.5 160.04L482.66 160.78L484.45 162.9L482.89 163.43L481.33 162.9L479.77 161.84L477.82 160.25L477.82 157.6L477.03 155.48L477.82 153.89L478.21 151.24L478.6 149.12L478.36 147.53L478.6 144.88L479.38 142.23L480.08 139.58L480.16 136.4L480.31 133.75L480.94 131.1L481.17 127.92L481.1 124.21L479.77 122.94L477.43 120.82L476.41 118.91L475.47 116.79L474.3 113.08L473.13 111.49L472.5 109.37L473.52 107.78L472.82 106.93L473.52 104.6L473.52 103.01L474.3 102.69L475.24 100.89L475.63 99.83L475.47 97.71L475.16 96.97ZM531.39 66.65L534.44 67.39L536.78 65.91L538.34 65.59L542.25 65.49L543.97 65.17L544.59 65.59L544.2 66.97L544.59 67.29L543.81 68.35L544.2 69.09L544.98 69.41L546.15 69.73L547.95 70.36L548.11 71.42L550.06 71.95L550.84 72.48L551.62 71.74L551.62 70.68L551.78 70.15L553.18 69.73L554.35 70.36L555.68 71.1L558.65 71.85L560.6 71.21L561.23 71.53L561.38 72.91L562.16 75.45L562.55 76.51L563.73 79.16L564.82 81.28L565.13 84.46L566.07 85.52L566.85 88.17L568.41 89.97L569.74 91.24L569.82 91.99L570.75 93.58L572.71 92.83L574.27 92.62L575.99 92.09L575.83 93.58L575.44 95.06L574.66 97.39L573.49 99.83L571.93 102.48L570.36 103.54L568.8 105.45L568.02 106.72L567.24 108.31L566.69 109.9L566.46 111.49L566.85 113.08L567.08 115.2L567.63 116.79L567.63 119.97L566.85 122.09L564.9 123.68L563.57 126.86L563.73 129.83L561.77 131.63L561.62 132.69L561.38 134.81L560.21 136.4L559.04 137.78L557.48 139.79L556.07 140.64L553.96 140.64L551.62 141.49L550.37 140.85L550.29 139.58L549.9 137.78L548.89 134.92L547.87 133.22L547.32 128.98L546.54 126.86L545.37 123.68L545.22 122.3L545.61 119.97L546.62 117.64L546.31 114.67L545.61 111.07L545.22 109.37L544.2 107.78L543.26 105.66L542.79 105.34L543.42 103.54L543.65 101.42L543.42 100.47L542.64 99.83L541.47 99.94L540.69 100.04L539.9 98.66L539.51 97.92L537.56 97.92L536 98.66L534.44 99.51L532.88 99.09L530.14 99.94L528.58 98.88L527.02 97.39L525.69 95.59L525.46 94.21L524.28 92.94L522.96 91.35L522.57 89.02L523.11 87.11L523.27 83.93L522.72 82.34L523.5 79.69L524.44 77.57L525.85 75.45L527.41 74.39L528.35 73.01L528.5 70.68L529.36 69.09L530.69 68.56ZM574.5 117.32L575.36 121.03L574.66 123.15L573.88 126.33L572.86 130.89L571.14 131.63L570.13 129.51L569.82 127.39L570.6 125.8L570.52 122.62L571.93 121.35L573.49 118.91ZM561.38 72.91L562.71 71.42L563.26 69.83L563.73 68.03L564.04 66.55L564.12 65.59L563.02 65.59L561.38 66.33L559.82 66.12L558.65 65.8L557.32 65.27L556.7 63.79L556.46 62.73L556.85 61.78L556.31 61.35L554.74 61.35L553.96 61.88L553.57 61.56L553.88 62.94L554.35 64L553.81 64.74L552.95 65.59L552.48 64L551.78 62.62L551.15 61.67L551.23 60.29L550.45 59.66L548.89 58.49L547.87 57.75L546.7 56.69L545.68 56.48L545.61 57.43L546.7 58.49L547.32 59.87L548.57 60.72L550.45 61.99L549.28 63.26L548.96 63.79L548.26 64.32L548.5 62.73L548.18 62.2L547.09 61.35L545.76 60.61L544.59 59.55L543.97 58.07L542.87 57.54L541.86 58.17L540.69 58.91L539.51 58.6L538.5 59.02L538.5 60.19L536.78 61.14L536 62.73L535.77 63.79L535.3 64.85L534.36 65.7L532.49 65.8L531.63 66.44L531.08 65.7L530.22 65.17L529.05 65.38L529.13 63.58L528.58 63.47L529.05 61.67L529.13 60.08L528.74 59.02L529.75 58.28L531.55 58.38L533.03 58.6L534.59 58.6L534.98 57.43L535.06 55.84L534.28 54.57L532.41 53.83L532.49 53.08L533.66 52.87L534.75 53.08L534.52 51.92L535.84 52.34L537.17 51.49L537.41 50.54L538.73 50.12L539.51 48.95L539.9 48.1L541.47 47.89L542.64 47.78L542.79 46.3L542.33 44.71L542.72 44.07L544.28 43.44L544.04 44.71L544.43 45.24L543.81 46.3L544.51 46.94L545.37 47.15L547.09 47.47L548.5 47.04L550.45 46.51L551.54 46.94L552.56 46.09L552.4 44.71L552.87 43.65L554.35 44.18L554.98 43.33L554.35 42.48L554.35 41.85L556.31 41.42L558.26 41.21L559.04 40.79L557.09 40.47L553.96 41.11L552.79 40.26L552.79 38.35L555.52 35.7L555.13 34.85L553.18 35.17L552.79 36.23L551.62 37.18L550.45 38.03L549.67 38.88L549.43 39.94L550.45 41L550.84 41.53L550.06 42.06L549.04 43.44L548.89 44.71L547.32 45.24L546.15 45.88L545.92 45.03L545.22 43.12L544.59 42.06L544.2 41.53L543.03 42.27L541.47 43.12L540.3 42.27L539.9 40.47L539.9 39.09L540.69 38.35L542.64 37.29L544.2 36.23L545.76 34.64L546.93 33.05L548.11 31.99L550.06 30.93L551.62 30.4L554.35 29.87L556.15 29.23L557.87 29.34L560.21 30.08L561.77 31.04L564.12 31.35L567.24 32.73L568.02 34.11L565.68 34.64L563.34 34.43L562.94 35.7L564.12 36.23L565.29 36.23L567.63 36.23L569.97 34.43L570.36 31.99L571.93 32.52L577.78 32.1L582.08 31.78L583.25 30.61L587.55 31.46L588.33 31.99L589.89 30.4L589.11 28.49L589.89 27.33L592.62 27.75L592.23 30.4L593.4 31.99L594.18 32.52L596.14 28.28L597.31 27.86L598.87 26.69L603.95 24.99L606.29 24.46L610.2 24.04L614.1 23.4L617.46 22.24L619.57 23.19L622.69 23.3L624.64 24.04L623.47 26.16L628.16 26.69L632.84 26.69L635.97 27.75L637.14 29.34L639.09 28.81L642.22 28.81L645.34 27.75L647.68 27.43L653.15 28.81L654.71 29.45L658.62 29.34L660.96 30.4L663.3 30.72L666.82 30.61L668.77 30.4L671.11 30.61L673.46 30.82L676.58 31.57L679.7 33.05L682.83 34.11L684.62 34.64L682.83 35.38L681.27 36.23L678.14 35.38L676.58 35.7L675.41 36.23L674.24 38.35L671.89 39.09L669.16 41L665.65 41L664.08 41.21L663.3 42.59L663.3 43.33L662.52 45.03L660.96 48.42L659.79 48.95L658.38 50.65L657.84 48.95L657.45 46.3L657.84 44.18L659.4 43.12L660.96 40.47L661.74 39.94L658.62 39.2L656.27 41.85L653.15 41.53L649.25 41.74L646.9 42.06L645.34 43.12L643 46.3L641.43 46.83L643 47.89L645.73 48.42L646.51 50.01L645.73 52.66L645.34 53.72L643.78 55.84L641.43 58.49L639.09 59.02L638.08 59.76L637.3 61.14L635.97 62.73L637.14 65.38L636.98 67.29L635.19 67.82L634.56 68.03L634.8 65.38L633.62 64.64L633.47 62.73L631.28 61.67L630.66 63.47L630.97 61.35L629.72 62.2L628.16 63.26L627.92 64L628.94 65.17L630.27 64.53L631.67 65.38L629.88 66.44L628.94 67.5L630.11 69.62L631.2 71.21L630.89 72.8L631.28 73.33L630.11 75.45L629.33 77.57L627.77 79.37L625.19 80.96L623.47 81.6L622.3 82.13L621.99 83.08L621.52 81.81L620.35 81.81L619.18 83.08L618.63 84.46L619.18 86.05L620.35 87.64L621.29 90.82L621.29 92.41L619.57 93.47L618 95.38L617.85 93.47L616.44 93.15L615.9 91.67L614.88 91.14L614.1 90.29L613.71 92.94L613.48 94.85L614.33 96.12L614.49 97.71L615.27 99.3L616.76 100.57L616.83 103.12L615.12 101.63L614.33 99.51L612.93 96.23L612.93 94L613.01 90.82L612.15 87.11L610.2 87.85L609.65 87.64L609.8 85.52L609.02 83.93L608.09 82.66L607.7 80.96L606.68 81.28L605.51 81.49L603.95 81.81L603.79 82.87L602.38 83.93L601.21 85.52L600.04 87.11L598.71 88.17L598.64 90.82L598.32 93.68L597.07 95.17L596.53 96.01L595.75 95.17L595.2 92.41L594.18 89.23L593.01 86.05L592.86 83.93L592.7 82.02L591.06 82.55L589.89 80.96L590.67 80.43L589.5 79.69L588.33 78.31L587.94 77.68L584.11 77.89L580.91 77.36L579.97 75.87L578.17 76.19L576.22 75.13L575.21 72.8L573.88 72.8L573.49 73.33L573.88 74.92L575.05 76.51L576.22 77.57L576.3 78.52L578.17 78.95L579.74 78.31L580.05 76.72L580.28 79.16L581.77 79.58L582.7 80.75L581.69 82.87L580.91 84.57L578.96 86.05L576.77 88.06L574.27 89.44L571.14 91.03L569.97 91.14L569.35 88.17L569.27 86.58L567.86 83.61L566.46 81.81L565.29 78.63L563.73 75.45L563.26 73.33L562.71 74.92L561.77 74.07ZM531.55 51.49L533.66 50.86L537.02 50.43L537.33 48.84L536.23 48.1L535.92 46.83L534.83 45.77L534.36 43.97L534.59 43.54L533.27 43.44L533.58 42.48L532.1 42.48L531.47 43.65L531.63 44.92L532.1 45.77L532.25 46.51L533.42 46.41L533.66 47.36L533.66 48.1L532.41 48.1L532.49 49.27L531.94 49.8L532.88 49.9L533.66 50.22ZM531.31 49.27L531.31 47.89L531.63 46.72L530.92 46.09L529.75 46.09L529.28 47.04L528.19 47.15L528.35 47.89L528.74 48.84L527.96 49.59L528.58 50.01L529.75 49.8L531 49.27ZM638.23 68.56L639.48 67.08L641.59 66.76L642.92 65.06L644.17 64.43L645.34 62.41L645.34 60.93L646.51 60.72L646.9 62.73L646.12 64L646.12 65.91L645.96 66.76L645.18 67.5L644.17 67.92L643 67.92L642.84 68.24L642.06 69.09L641.59 68.24L639.87 68.24L638.31 68.67ZM637.53 69.09L638.7 69.09L638.94 70.68L638.31 71.74L637.69 71.42L637.37 69.94ZM639.48 69.41L639.87 68.35L641.2 68.35L641.04 69.3L639.87 69.83ZM645.34 60.61L646.36 60.29L647.84 60.08L649.87 58.7L649.4 57.96L646.75 56.48L646.59 57.43L646.36 58.7L645.34 59.34ZM646.9 55.84L648.07 55.31L647.68 52.66L648.46 52.13L647.68 50.01L647.84 47.36L647.29 47.04L646.9 49.48L646.9 52.66L646.75 53.72ZM629.8 80.22L630.5 77.89L631.28 78.1L630.89 80.22L630.34 81.39ZM620.82 84.25L622.07 83.29L622.69 83.82L621.91 85.2L620.89 84.99ZM598.32 94.32L599.96 96.65L599.65 98.03L598.64 98.24L598.32 96.12ZM629.72 84.99L631.52 85.1L631.67 87.32L633 89.87L632.45 90.82L631.13 89.97L630.19 89.34L629.72 87.64ZM631.28 97.18L632.45 96.12L633.94 94.21L634.8 96.65L634.41 98.03L633.62 98.56L632.84 97.71L631.36 97.29ZM631.28 92.09L632.84 91.35L634.02 92.73L633.62 94L632.45 94.53L631.67 94L631.28 93.15ZM610.43 98.66L612.15 99.09L614.33 101.95L616.83 104.6L617.61 106.51L618.79 107.78L618.63 110.75L617.61 110.85L615.9 108.84L614.49 105.66L613.08 102.8ZM618.16 111.81L618.86 110.96L620.58 111.28L622.3 111.81L623.94 111.91L625.42 112.76L625.35 113.82L622.69 113.29L620.74 112.87L619.1 112.44ZM621.13 103.01L621.6 102.48L622.69 102.8L624.25 101.31L626.21 99.09L627.14 97.29L627.92 98.13L629.1 99.09L628.16 99.83L627.92 101.21L628.16 103.54L627.38 105.13L626.99 106.93L626.6 108.31L625.42 108.84L623.47 108.2L622.07 107.67L621.91 106.19L621.13 104.6ZM629.33 110.43L630.11 107.57L630.5 109.37L631.91 109.9L630.89 106.72L632.06 105.66L630.89 105.45L630.11 104.07L630.5 103.33L633.23 103.01L633.62 103.22L629.72 104.07L629.33 105.13L628.78 107.57ZM638.31 106.08L639.48 105.02L640.65 105.55L641.67 108.1L643.62 106.19L646.12 107.36L648.85 108.63L650.03 110.43L651.2 111.28L651.43 113.08L653.15 115.52L650.81 115.31L650.03 113.08L648.46 112.66L648.07 114.14L646.12 114.25L644.56 113.19L643.78 113.5L643.54 110.96L641.43 109.37L639.87 108.95L639.09 107.57ZM632.84 114.46L633.62 113.61L635.34 113.5L634.02 114.67L633.08 115.41ZM625.82 113.5L627.38 113.4L628.94 113.61L630.5 113.4L632.06 113.29L632.06 113.82L628.94 114.03L626.6 114.03ZM624.64 127.92L625.03 132.16L624.49 132.37L625.5 135.13L625.82 137.99L626.36 140.11L625.82 140.96L628.08 141.81L630.5 140.53L632.45 140.53L632.84 139.58L634.41 138.84L636.75 138.2L638.47 137.99L640.65 139.05L641.9 141.59L643.39 139.58L643.62 142.23L644.17 142.34L645.34 144.35L646.51 145.3L648.07 145.73L649.25 145.2L650.26 146.05L651.59 144.67L653.07 144.35L653.54 141.7L654.17 140.43L655.1 138.52L655.96 134.92L655.65 132.05L654.32 130.04L653.77 128.45L652.37 126.33L650.26 124.74L649.56 121.56L649.48 120.29L648.15 119.44L647.68 117.21L647.29 115.94L646.9 117.85L646.59 120.5L646.12 122.62L645.34 123.36L644.56 122.62L643.39 121.56L642.06 120.5L642.06 118.38L642.84 117.53L641.43 117.53L639.87 116.68L638.7 116.58L637.53 117L637.69 118.27L637.14 120.29L635.97 120.5L635.19 119.44L634.02 119.97L632.84 121.98L631.52 122.62L631.44 123.89L629.72 125.59L628.55 126.22L626.99 126.54L625.42 127.71ZM648.93 147.74L651.82 147.95L651.82 149.33L650.81 150.82L649.4 149.33ZM670.88 141.06L672.28 142.55L673.3 143.82L675.41 144.56L674.94 146.15L674.16 147L672.83 148.7L672.36 148.27L672.67 146.79L671.74 146.15L672.36 144.88L671.89 142.76ZM670.88 147.53L672.13 148.8L671.11 151.03L669.55 152.09L667.99 154L666.04 153.36L666.43 152.3L667.44 151.24L669.16 150.18L670.33 148.59ZM469.69 81.39L471.18 80.33L472.74 80.11L474.3 80.86L475.47 81.49L476.88 82.34L478.05 83.19L477.43 83.51L475.47 83.51L475.71 82.76L474.69 81.81L473.13 81.28L471.96 80.96L470.4 81.49ZM477.89 84.99L479.14 83.51L481.33 83.72L482.58 84.88L481.49 85.2L480.16 85.94L479.38 85.31L477.89 85.2ZM474.85 85.2L476.41 85.41L475.94 85.73L474.93 85.52ZM483.52 85.1L484.77 85.1L484.77 85.52L483.52 85.52ZM576.61 28.81L578.96 27.22L580.52 24.57L584.42 23.51L589.5 23.09L585.98 24.89L582.08 26.16L580.52 28.07L579.35 29.55ZM544.59 21.39L547.72 19.8L553.18 19.38L557.09 20.01L552.4 21.92L549.28 23.51L546.93 22.45ZM610.2 20.86L614.1 20.33L617.22 20.33L614.1 21.92ZM643 25.1L646.9 24.25L653.15 25.1L650.03 25.63ZM675.41 29.34L677.75 28.81L678.92 29.34L676.58 29.55ZM573.49 19.8L578.96 18.74L584.42 19.27L581.3 20.01L575.05 20.01Z" fill="#b0b1b5"/><path d="M557.48 59.55L558.34 58.49L559.12 56.58L559.98 55.31L561.38 55.84L562.16 57.43L563.34 56.9L564.51 56.58L565.68 57.43L566.85 58.49L568.41 60.61L567.24 61.14L564.9 60.93L563.34 60.08L561.77 60.08L560.21 60.93L558.65 60.93L557.87 60.08ZM572.71 57.11L574.66 55.31L576.22 54.89L577.39 56.58L576.61 59.02L577.39 60.08L577.39 62.2L577.78 64.32L578.1 65.38L575.83 65.7L574.27 64.74L574.66 61.99L573.88 60.29L573.1 59.02Z" fill="#fff"/><circle cx="451.1" cy="73.1" r="3.8" fill="#f1ebd8"/><rect x="448.9" y="73.05" width="4.4" height="1.15" fill="#7e7868"/><circle cx="454.4" cy="79.2" r="3.8" fill="#f1ebd8"/><rect x="452.2" y="79.15" width="4.4" height="1.15" fill="#7e7868"/><circle cx="531.5" cy="44.3" r="3.8" fill="#f1ebd8"/><rect x="529.3" y="44.25" width="4.4" height="1.15" fill="#7e7868"/><circle cx="537.4" cy="55.4" r="3.8" fill="#f1ebd8"/><rect x="535.2" y="55.35" width="4.4" height="1.15" fill="#7e7868"/><circle cx="533.4" cy="59.6" r="3.8" fill="#f1ebd8"/><rect x="531.2" y="59.55" width="4.4" height="1.15" fill="#7e7868"/><circle cx="548.7" cy="57.2" r="3.8" fill="#f1ebd8"/><rect x="546.5" y="57.15" width="4.4" height="1.15" fill="#7e7868"/><circle cx="544.6" cy="60.7" r="3.8" fill="#f1ebd8"/><rect x="542.4" y="60.65" width="4.4" height="1.15" fill="#7e7868"/><circle cx="538.6" cy="69.7" r="3.8" fill="#f1ebd8"/><rect x="536.4" y="69.65" width="4.4" height="1.15" fill="#7e7868"/><circle cx="569" cy="59" r="3.8" fill="#f1ebd8"/><rect x="566.8" y="58.95" width="4.4" height="1.15" fill="#7e7868"/><circle cx="565.8" cy="72.2" r="3.8" fill="#f1ebd8"/><rect x="563.6" y="72.15" width="4.4" height="1.15" fill="#7e7868"/><circle cx="567.8" cy="76.3" r="3.8" fill="#f1ebd8"/><rect x="565.6" y="76.25" width="4.4" height="1.15" fill="#7e7868"/><circle cx="569.6" cy="80.5" r="3.8" fill="#f1ebd8"/><rect x="567.4" y="80.45" width="4.4" height="1.15" fill="#7e7868"/><circle cx="552.8" cy="99.1" r="3.8" fill="#f1ebd8"/><rect x="550.6" y="99.05" width="4.4" height="1.15" fill="#7e7868"/><circle cx="555.6" cy="129.5" r="3.8" fill="#f1ebd8"/><rect x="553.4" y="129.45" width="4.4" height="1.15" fill="#7e7868"/><circle cx="554.8" cy="134.4" r="3.8" fill="#f1ebd8"/><rect x="552.6" y="134.35" width="4.4" height="1.15" fill="#7e7868"/><circle cx="553.9" cy="139.1" r="3.8" fill="#f1ebd8"/><rect x="551.7" y="139.05" width="4.4" height="1.15" fill="#7e7868"/><circle cx="586.5" cy="70.1" r="3.8" fill="#f1ebd8"/><rect x="584.3" y="70.05" width="4.4" height="1.15" fill="#7e7868"/><circle cx="592.8" cy="67" r="3.8" fill="#f1ebd8"/><path d="M592.8 67L592.8 63.2A3.8 3.8 0 0 1 596.47 67.98Z" fill="#c8142a"/><rect x="590.6" y="66.95" width="4.4" height="1.15" fill="#7e7868"/><circle cx="587" cy="75.9" r="3.8" fill="#f1ebd8"/><path d="M587 75.9L587 72.1A3.8 3.8 0 0 1 587.53 72.14Z" fill="#c8142a"/><rect x="584.8" y="75.85" width="4.4" height="1.15" fill="#7e7868"/><circle cx="592.3" cy="74.1" r="3.8" fill="#f1ebd8"/><rect x="590.1" y="74.05" width="4.4" height="1.15" fill="#7e7868"/><circle cx="598.2" cy="73.7" r="3.8" fill="#f1ebd8"/><path d="M598.2 73.7L598.2 69.9A3.8 3.8 0 0 1 598.73 69.94Z" fill="#c8142a"/><rect x="596" y="73.65" width="4.4" height="1.15" fill="#7e7868"/><circle cx="588.8" cy="82.2" r="3.8" fill="#f1ebd8"/><rect x="586.6" y="82.15" width="4.4" height="1.15" fill="#7e7868"/><circle cx="596.4" cy="79.1" r="3.8" fill="#f1ebd8"/><rect x="594.2" y="79.05" width="4.4" height="1.15" fill="#7e7868"/><circle cx="603.1" cy="79.5" r="3.8" fill="#f1ebd8"/><rect x="600.9" y="79.45" width="4.4" height="1.15" fill="#7e7868"/><circle cx="618.2" cy="64.9" r="3.8" fill="#f1ebd8"/><path d="M618.2 64.9L618.2 61.1A3.8 3.8 0 0 1 621.77 66.2Z" fill="#c8142a"/><rect x="616" y="64.85" width="4.4" height="1.15" fill="#7e7868"/><circle cx="614.1" cy="71.1" r="3.8" fill="#f1ebd8"/><path d="M614.1 71.1L614.1 67.3A3.8 3.8 0 0 1 617.77 72.08Z" fill="#c8142a"/><rect x="611.9" y="71.05" width="4.4" height="1.15" fill="#7e7868"/><circle cx="621.8" cy="71.3" r="3.8" fill="#f1ebd8"/><path d="M621.8 71.3L621.8 67.5A3.8 3.8 0 0 1 625.47 72.28Z" fill="#c8142a"/><rect x="619.6" y="71.25" width="4.4" height="1.15" fill="#7e7868"/><circle cx="643.1" cy="66.4" r="3.8" fill="#f1ebd8"/><path d="M643.1 66.4L643.1 62.6A3.8 3.8 0 0 1 646.54 68.01Z" fill="#c8142a"/><rect x="640.9" y="66.35" width="4.4" height="1.15" fill="#7e7868"/><circle cx="612.4" cy="31.9" r="3.8" fill="#f1ebd8"/><path d="M612.4 31.9L612.4 28.1A3.8 3.8 0 0 1 614.84 28.99Z" fill="#c8142a"/><rect x="610.2" y="31.85" width="4.4" height="1.15" fill="#7e7868"/><circle cx="633.5" cy="32.2" r="3.8" fill="#f1ebd8"/><path d="M633.5 32.2L633.5 28.4A3.8 3.8 0 0 1 635.4 28.91Z" fill="#c8142a"/><rect x="631.3" y="32.15" width="4.4" height="1.15" fill="#7e7868"/><circle cx="658.9" cy="111.2" r="3.8" fill="#f1ebd8"/><path d="M658.9 111.2L658.9 107.4A3.8 3.8 0 0 1 660.32 107.68Z" fill="#c8142a"/><rect x="656.7" y="111.15" width="4.4" height="1.15" fill="#7e7868"/></g>
<g transform="translate(-2.6 167.5)"><path d="M437.2 25.95L439.94 22.98L445.01 20.97L451.96 20.01L457.9 19.48L461.81 18.63L465.71 18.21L469.62 19.8L471.96 23.51L473.52 26.16L469.62 28.28L465.71 29.87L457.9 30.93L450.09 31.46L443.84 30.93L439.16 29.87L437.59 28.81Z" fill="#e0e1e3"/><path d="M404.79 35.06L406.35 34.43L409.48 33.79L407.92 32.84L405.96 32.2L408.7 30.93L413.54 29.02L417.29 29.55L422.75 30.29L425.88 30.72L429 31.57L430.96 30.93L434.47 30.4L438.38 30.93L442.28 31.57L446.19 32.63L450.09 32.52L453.21 31.99L457.9 32.73L460.24 31.99L462.2 28.39L464.15 30.4L466.49 31.99L469.62 30.93L471.96 30.93L472.35 33.58L470.4 34.64L468.83 36.23L468.05 36.55L465.71 36.76L462.59 39.94L462.59 42.06L463.76 44.18L467.27 45.24L469.62 45.98L471.72 46.3L471.96 48.42L473.13 50.22L474.3 50.01L474.46 46.83L475.86 45.24L476.25 42.59L475.08 40.47L475.47 38.35L478.21 38.67L480.16 39.73L481.72 41.53L482.89 42.59L484.45 41.53L485.63 40.68L487.58 43.65L489.14 45.77L491.48 47.89L492.42 49.48L491.09 50.22L489.14 51.39L486.02 51.39L484.06 51.6L482.11 53.19L480.55 54.78L482.5 53.19L484.45 52.45L485.63 52.66L485.63 55.31L488.36 56.37L489.14 56.05L486.41 57.32L484.45 58.17L484.45 56.9L483.28 57.43L481.33 58.17L480.86 59.44L481.33 60.4L480.16 60.72L478.21 61.56L478.21 62.73L477.43 63.47L476.64 65.38L477.03 67.29L475.47 68.03L474.3 69.41L472.74 71L472.5 72.8L473.13 74.6L473.52 76.51L473.21 77.89L472.5 77.57L471.96 76.3L471.33 74.92L471.18 73.65L470.4 72.8L469.22 73.12L468.05 72.38L466.49 72.48L466.1 73.54L464.93 73.54L462.98 73.12L461.81 73.54L460.24 75.24L459.93 77.04L459.7 79.16L459.62 80.96L460.09 82.87L460.95 84.35L462.2 85.31L464.15 84.88L464.93 84.46L465.4 82.87L465.71 82.13L467.97 81.81L467.66 83.4L467.12 84.99L467.04 87.64L468.83 87.75L470.86 88.7L470.63 90.82L470.79 92.94L471.96 94.74L473.91 94.42L475.47 95.59L475.63 96.12L475.08 96.86L473.52 96.76L471.96 95.91L469.77 94.21L469.07 92.94L467.66 90.82L466.1 90.29L464.54 89.76L462.98 87.85L461.81 87.53L460.63 87.96L459.07 87.32L457.12 86.26L455.17 85.2L453.6 82.87L453.76 81.81L452.82 80.01L451.65 77.89L450.48 76.51L449.31 74.92L447.9 72.48L446.34 70.89L446.58 72.8L447.36 74.07L448.29 75.77L448.92 77.25L449.86 78.95L450.48 80.22L449.86 79.69L448.53 78.31L446.97 75.66L446.34 74.92L445.79 73.33L444.78 71L444.47 69.94L443.45 68.56L441.81 67.92L440.8 65.8L440.33 64.53L439.31 62.41L438.84 61.78L439 60.08L439.16 55.63L438.61 53.3L438.38 51.6L436.03 50.54L434.47 46.83L432.91 45.24L430.56 42.59L428.61 42.27L426.66 41.21L424.32 40.68L421.97 40.05L419.63 40.47L417.29 41L415.34 42.8L413.77 44.71L411.82 45.66L409.48 46.3L407.29 46.83L407.92 45.24L408.31 43.12L407.13 40.47L406.74 38.67L407.53 37.61L408.7 36.76L407.29 36.23L405.96 35.49ZM440.33 23.62L442.28 22.66L445.4 22.45L446.58 23.19L444.62 23.83L442.67 24.15ZM462.98 24.89L460.63 24.68L461.02 25.31L462.59 25.52ZM459.46 21.18L455.56 21.28L454.78 22.13L457.12 22.34L460.24 22.03ZM461.81 21.28L460.24 21.5L460.24 22.34L461.81 22.13ZM454 21.39L448.53 21.81L448.53 22.66L453.21 22.56ZM461.41 32.2L459.07 31.46L459.46 30.61L461.02 30.61L462.2 31.46ZM475.08 26.69L472.74 26.48L473.52 27.22ZM473.13 26.48L477.43 27.75L480.55 29.55L482.89 30.4L484.06 32.52L487.58 33.79L486.02 35.17L484.84 36.23L485.39 37.29L485 38.35L482.5 38.56L480.55 38.03L478.99 36.97L477.43 36.23L475.47 36.23L478.21 35.17L478.6 33.05L476.64 32.52L474.3 30.93L471.96 30.72L468.83 30.4L466.49 27.75L467.27 26.58L469.62 26.37ZM465.71 19.27L469.62 17.15L475.86 16.62L485.24 16.83L488.36 17.36L486.02 18.74L481.33 19.8L478.21 20.86L476.64 21.6L475.08 22.98L473.91 23.83L469.62 23.51L466.49 23.51L464.93 21.92L463.37 19.8ZM461.02 19.59L464.15 18.53L467.27 19.48L467.27 20.86L464.93 21.6L461.81 21.07ZM473.52 25.63L464.15 25.31L461.02 24.57L464.93 23.4L470.4 23.62L473.52 24.57ZM443.45 27.01L442.83 28.7L444.23 29.98L446.19 30.82L448.53 31.46L451.65 31.88L454.78 31.67L456.88 30.93L457.12 29.66L455.95 28.28L454 26.8L451.65 27.01L449.31 27.64L446.97 26.8ZM441.5 25.63L438.38 25.95L437.98 28.07L439.16 29.23L441.5 29.34L443.84 28.49L445.4 26.9L443.84 25.95ZM444.23 24.25L445.4 23.3L448.53 23.09L451.26 23.3L453.21 24.15L453.6 24.89L451.65 25.31L448.53 25.63L445.79 25.52ZM460.24 26.16L457.12 26.69L455.95 27.75L457.9 29.34L460.24 29.02L461.02 27.75ZM465.32 26.05L461.81 26.27L461.81 28.07L463.37 28.49L464.93 27.75ZM459.85 23.4L457.12 23.72L457.51 24.68L459.46 25.1ZM473.13 35.17L471.18 34.43L468.83 34.64L468.05 35.91L468.83 37.08L470.4 36.76L472.35 36.97L473.13 36.23ZM489.69 54.14L492.26 54.14L494.22 55.1L494.84 54.25L494.61 52.66L492.65 51.81L492.42 49.9L491.09 51.07L490.31 52.66ZM489.14 17.89L496.95 17.36L504.76 16.09L512.57 15.98L518.82 17.15L526.63 18.21L522.72 19.8L521.16 21.39L521.55 22.98L520.38 25.1L519.21 27.75L518.82 29.87L516.48 30.93L512.57 32.31L509.45 34.11L506.32 35.17L504.76 36.23L503.59 37.82L502.42 40.47L501.64 41.21L500.07 40.15L498.12 39.09L496.56 37.29L495.54 35.7L494.22 34L494.22 31.99L495.78 31.46L496.17 29.87L493.44 29.34L492.65 27.54L491.48 25.63L489.92 24.25L486.02 23.83L482.89 23.51L480.55 22.45L478.99 21.6L482.89 20.33L486.02 19.27ZM517.26 35.17L518.82 34.22L521.94 34.53L524.68 34.53L525.46 35.7L524.28 36.44L521.94 37.4L520.38 37.18L518.27 36.97L518.82 36.23ZM475.63 95.48L476.64 94.64L477.19 93.15L478.21 92.62L479.77 91.56L480.16 92.94L480.31 94L481.33 92.41L482.89 93.47L484.45 93.36L486.02 93.36L487.58 93.26L488.75 95.59L489.92 96.12L491.09 97.92L493.05 98.35L494.61 98.77L495.78 100.04L496.95 102.69L496.95 104.6L498.12 105.66L500.07 105.66L501.64 107.25L503.98 107.67L505.54 108.31L507.1 109.9L508.51 110.43L508.82 112.55L508.67 114.67L507.1 116.26L505.93 118.38L505.54 120.5L505.54 123.15L504.76 125.8L503.98 127.92L502.42 128.98L500.86 129.83L498.51 131.95L498.04 134.81L496.95 136.93L495.78 137.99L494.61 140.11L493.44 141.49L491.87 141.49L490.31 140.64L491.09 142.76L491.48 144.35L490.7 145.41L487.58 145.94L487.42 147.64L485.24 148.06L485.63 149.65L486.17 149.97L485.24 150.71L483.28 153.36L484.45 154.95L483.28 157.07L482.11 158.13L482.5 160.04L482.66 160.78L484.45 162.9L482.89 163.43L481.33 162.9L479.77 161.84L477.82 160.25L477.82 157.6L477.03 155.48L477.82 153.89L478.21 151.24L478.6 149.12L478.36 147.53L478.6 144.88L479.38 142.23L480.08 139.58L480.16 136.4L480.31 133.75L480.94 131.1L481.17 127.92L481.1 124.21L479.77 122.94L477.43 120.82L476.41 118.91L475.47 116.79L474.3 113.08L473.13 111.49L472.5 109.37L473.52 107.78L472.82 106.93L473.52 104.6L473.52 103.01L474.3 102.69L475.24 100.89L475.63 99.83L475.47 97.71L475.16 96.97ZM531.39 66.65L534.44 67.39L536.78 65.91L538.34 65.59L542.25 65.49L543.97 65.17L544.59 65.59L544.2 66.97L544.59 67.29L543.81 68.35L544.2 69.09L544.98 69.41L546.15 69.73L547.95 70.36L548.11 71.42L550.06 71.95L550.84 72.48L551.62 71.74L551.62 70.68L551.78 70.15L553.18 69.73L554.35 70.36L555.68 71.1L558.65 71.85L560.6 71.21L561.23 71.53L561.38 72.91L562.16 75.45L562.55 76.51L563.73 79.16L564.82 81.28L565.13 84.46L566.07 85.52L566.85 88.17L568.41 89.97L569.74 91.24L569.82 91.99L570.75 93.58L572.71 92.83L574.27 92.62L575.99 92.09L575.83 93.58L575.44 95.06L574.66 97.39L573.49 99.83L571.93 102.48L570.36 103.54L568.8 105.45L568.02 106.72L567.24 108.31L566.69 109.9L566.46 111.49L566.85 113.08L567.08 115.2L567.63 116.79L567.63 119.97L566.85 122.09L564.9 123.68L563.57 126.86L563.73 129.83L561.77 131.63L561.62 132.69L561.38 134.81L560.21 136.4L559.04 137.78L557.48 139.79L556.07 140.64L553.96 140.64L551.62 141.49L550.37 140.85L550.29 139.58L549.9 137.78L548.89 134.92L547.87 133.22L547.32 128.98L546.54 126.86L545.37 123.68L545.22 122.3L545.61 119.97L546.62 117.64L546.31 114.67L545.61 111.07L545.22 109.37L544.2 107.78L543.26 105.66L542.79 105.34L543.42 103.54L543.65 101.42L543.42 100.47L542.64 99.83L541.47 99.94L540.69 100.04L539.9 98.66L539.51 97.92L537.56 97.92L536 98.66L534.44 99.51L532.88 99.09L530.14 99.94L528.58 98.88L527.02 97.39L525.69 95.59L525.46 94.21L524.28 92.94L522.96 91.35L522.57 89.02L523.11 87.11L523.27 83.93L522.72 82.34L523.5 79.69L524.44 77.57L525.85 75.45L527.41 74.39L528.35 73.01L528.5 70.68L529.36 69.09L530.69 68.56ZM574.5 117.32L575.36 121.03L574.66 123.15L573.88 126.33L572.86 130.89L571.14 131.63L570.13 129.51L569.82 127.39L570.6 125.8L570.52 122.62L571.93 121.35L573.49 118.91ZM561.38 72.91L562.71 71.42L563.26 69.83L563.73 68.03L564.04 66.55L564.12 65.59L563.02 65.59L561.38 66.33L559.82 66.12L558.65 65.8L557.32 65.27L556.7 63.79L556.46 62.73L556.85 61.78L556.31 61.35L554.74 61.35L553.96 61.88L553.57 61.56L553.88 62.94L554.35 64L553.81 64.74L552.95 65.59L552.48 64L551.78 62.62L551.15 61.67L551.23 60.29L550.45 59.66L548.89 58.49L547.87 57.75L546.7 56.69L545.68 56.48L545.61 57.43L546.7 58.49L547.32 59.87L548.57 60.72L550.45 61.99L549.28 63.26L548.96 63.79L548.26 64.32L548.5 62.73L548.18 62.2L547.09 61.35L545.76 60.61L544.59 59.55L543.97 58.07L542.87 57.54L541.86 58.17L540.69 58.91L539.51 58.6L538.5 59.02L538.5 60.19L536.78 61.14L536 62.73L535.77 63.79L535.3 64.85L534.36 65.7L532.49 65.8L531.63 66.44L531.08 65.7L530.22 65.17L529.05 65.38L529.13 63.58L528.58 63.47L529.05 61.67L529.13 60.08L528.74 59.02L529.75 58.28L531.55 58.38L533.03 58.6L534.59 58.6L534.98 57.43L535.06 55.84L534.28 54.57L532.41 53.83L532.49 53.08L533.66 52.87L534.75 53.08L534.52 51.92L535.84 52.34L537.17 51.49L537.41 50.54L538.73 50.12L539.51 48.95L539.9 48.1L541.47 47.89L542.64 47.78L542.79 46.3L542.33 44.71L542.72 44.07L544.28 43.44L544.04 44.71L544.43 45.24L543.81 46.3L544.51 46.94L545.37 47.15L547.09 47.47L548.5 47.04L550.45 46.51L551.54 46.94L552.56 46.09L552.4 44.71L552.87 43.65L554.35 44.18L554.98 43.33L554.35 42.48L554.35 41.85L556.31 41.42L558.26 41.21L559.04 40.79L557.09 40.47L553.96 41.11L552.79 40.26L552.79 38.35L555.52 35.7L555.13 34.85L553.18 35.17L552.79 36.23L551.62 37.18L550.45 38.03L549.67 38.88L549.43 39.94L550.45 41L550.84 41.53L550.06 42.06L549.04 43.44L548.89 44.71L547.32 45.24L546.15 45.88L545.92 45.03L545.22 43.12L544.59 42.06L544.2 41.53L543.03 42.27L541.47 43.12L540.3 42.27L539.9 40.47L539.9 39.09L540.69 38.35L542.64 37.29L544.2 36.23L545.76 34.64L546.93 33.05L548.11 31.99L550.06 30.93L551.62 30.4L554.35 29.87L556.15 29.23L557.87 29.34L560.21 30.08L561.77 31.04L564.12 31.35L567.24 32.73L568.02 34.11L565.68 34.64L563.34 34.43L562.94 35.7L564.12 36.23L565.29 36.23L567.63 36.23L569.97 34.43L570.36 31.99L571.93 32.52L577.78 32.1L582.08 31.78L583.25 30.61L587.55 31.46L588.33 31.99L589.89 30.4L589.11 28.49L589.89 27.33L592.62 27.75L592.23 30.4L593.4 31.99L594.18 32.52L596.14 28.28L597.31 27.86L598.87 26.69L603.95 24.99L606.29 24.46L610.2 24.04L614.1 23.4L617.46 22.24L619.57 23.19L622.69 23.3L624.64 24.04L623.47 26.16L628.16 26.69L632.84 26.69L635.97 27.75L637.14 29.34L639.09 28.81L642.22 28.81L645.34 27.75L647.68 27.43L653.15 28.81L654.71 29.45L658.62 29.34L660.96 30.4L663.3 30.72L666.82 30.61L668.77 30.4L671.11 30.61L673.46 30.82L676.58 31.57L679.7 33.05L682.83 34.11L684.62 34.64L682.83 35.38L681.27 36.23L678.14 35.38L676.58 35.7L675.41 36.23L674.24 38.35L671.89 39.09L669.16 41L665.65 41L664.08 41.21L663.3 42.59L663.3 43.33L662.52 45.03L660.96 48.42L659.79 48.95L658.38 50.65L657.84 48.95L657.45 46.3L657.84 44.18L659.4 43.12L660.96 40.47L661.74 39.94L658.62 39.2L656.27 41.85L653.15 41.53L649.25 41.74L646.9 42.06L645.34 43.12L643 46.3L641.43 46.83L643 47.89L645.73 48.42L646.51 50.01L645.73 52.66L645.34 53.72L643.78 55.84L641.43 58.49L639.09 59.02L638.08 59.76L637.3 61.14L635.97 62.73L637.14 65.38L636.98 67.29L635.19 67.82L634.56 68.03L634.8 65.38L633.62 64.64L633.47 62.73L631.28 61.67L630.66 63.47L630.97 61.35L629.72 62.2L628.16 63.26L627.92 64L628.94 65.17L630.27 64.53L631.67 65.38L629.88 66.44L628.94 67.5L630.11 69.62L631.2 71.21L630.89 72.8L631.28 73.33L630.11 75.45L629.33 77.57L627.77 79.37L625.19 80.96L623.47 81.6L622.3 82.13L621.99 83.08L621.52 81.81L620.35 81.81L619.18 83.08L618.63 84.46L619.18 86.05L620.35 87.64L621.29 90.82L621.29 92.41L619.57 93.47L618 95.38L617.85 93.47L616.44 93.15L615.9 91.67L614.88 91.14L614.1 90.29L613.71 92.94L613.48 94.85L614.33 96.12L614.49 97.71L615.27 99.3L616.76 100.57L616.83 103.12L615.12 101.63L614.33 99.51L612.93 96.23L612.93 94L613.01 90.82L612.15 87.11L610.2 87.85L609.65 87.64L609.8 85.52L609.02 83.93L608.09 82.66L607.7 80.96L606.68 81.28L605.51 81.49L603.95 81.81L603.79 82.87L602.38 83.93L601.21 85.52L600.04 87.11L598.71 88.17L598.64 90.82L598.32 93.68L597.07 95.17L596.53 96.01L595.75 95.17L595.2 92.41L594.18 89.23L593.01 86.05L592.86 83.93L592.7 82.02L591.06 82.55L589.89 80.96L590.67 80.43L589.5 79.69L588.33 78.31L587.94 77.68L584.11 77.89L580.91 77.36L579.97 75.87L578.17 76.19L576.22 75.13L575.21 72.8L573.88 72.8L573.49 73.33L573.88 74.92L575.05 76.51L576.22 77.57L576.3 78.52L578.17 78.95L579.74 78.31L580.05 76.72L580.28 79.16L581.77 79.58L582.7 80.75L581.69 82.87L580.91 84.57L578.96 86.05L576.77 88.06L574.27 89.44L571.14 91.03L569.97 91.14L569.35 88.17L569.27 86.58L567.86 83.61L566.46 81.81L565.29 78.63L563.73 75.45L563.26 73.33L562.71 74.92L561.77 74.07ZM531.55 51.49L533.66 50.86L537.02 50.43L537.33 48.84L536.23 48.1L535.92 46.83L534.83 45.77L534.36 43.97L534.59 43.54L533.27 43.44L533.58 42.48L532.1 42.48L531.47 43.65L531.63 44.92L532.1 45.77L532.25 46.51L533.42 46.41L533.66 47.36L533.66 48.1L532.41 48.1L532.49 49.27L531.94 49.8L532.88 49.9L533.66 50.22ZM531.31 49.27L531.31 47.89L531.63 46.72L530.92 46.09L529.75 46.09L529.28 47.04L528.19 47.15L528.35 47.89L528.74 48.84L527.96 49.59L528.58 50.01L529.75 49.8L531 49.27ZM638.23 68.56L639.48 67.08L641.59 66.76L642.92 65.06L644.17 64.43L645.34 62.41L645.34 60.93L646.51 60.72L646.9 62.73L646.12 64L646.12 65.91L645.96 66.76L645.18 67.5L644.17 67.92L643 67.92L642.84 68.24L642.06 69.09L641.59 68.24L639.87 68.24L638.31 68.67ZM637.53 69.09L638.7 69.09L638.94 70.68L638.31 71.74L637.69 71.42L637.37 69.94ZM639.48 69.41L639.87 68.35L641.2 68.35L641.04 69.3L639.87 69.83ZM645.34 60.61L646.36 60.29L647.84 60.08L649.87 58.7L649.4 57.96L646.75 56.48L646.59 57.43L646.36 58.7L645.34 59.34ZM646.9 55.84L648.07 55.31L647.68 52.66L648.46 52.13L647.68 50.01L647.84 47.36L647.29 47.04L646.9 49.48L646.9 52.66L646.75 53.72ZM629.8 80.22L630.5 77.89L631.28 78.1L630.89 80.22L630.34 81.39ZM620.82 84.25L622.07 83.29L622.69 83.82L621.91 85.2L620.89 84.99ZM598.32 94.32L599.96 96.65L599.65 98.03L598.64 98.24L598.32 96.12ZM629.72 84.99L631.52 85.1L631.67 87.32L633 89.87L632.45 90.82L631.13 89.97L630.19 89.34L629.72 87.64ZM631.28 97.18L632.45 96.12L633.94 94.21L634.8 96.65L634.41 98.03L633.62 98.56L632.84 97.71L631.36 97.29ZM631.28 92.09L632.84 91.35L634.02 92.73L633.62 94L632.45 94.53L631.67 94L631.28 93.15ZM610.43 98.66L612.15 99.09L614.33 101.95L616.83 104.6L617.61 106.51L618.79 107.78L618.63 110.75L617.61 110.85L615.9 108.84L614.49 105.66L613.08 102.8ZM618.16 111.81L618.86 110.96L620.58 111.28L622.3 111.81L623.94 111.91L625.42 112.76L625.35 113.82L622.69 113.29L620.74 112.87L619.1 112.44ZM621.13 103.01L621.6 102.48L622.69 102.8L624.25 101.31L626.21 99.09L627.14 97.29L627.92 98.13L629.1 99.09L628.16 99.83L627.92 101.21L628.16 103.54L627.38 105.13L626.99 106.93L626.6 108.31L625.42 108.84L623.47 108.2L622.07 107.67L621.91 106.19L621.13 104.6ZM629.33 110.43L630.11 107.57L630.5 109.37L631.91 109.9L630.89 106.72L632.06 105.66L630.89 105.45L630.11 104.07L630.5 103.33L633.23 103.01L633.62 103.22L629.72 104.07L629.33 105.13L628.78 107.57ZM638.31 106.08L639.48 105.02L640.65 105.55L641.67 108.1L643.62 106.19L646.12 107.36L648.85 108.63L650.03 110.43L651.2 111.28L651.43 113.08L653.15 115.52L650.81 115.31L650.03 113.08L648.46 112.66L648.07 114.14L646.12 114.25L644.56 113.19L643.78 113.5L643.54 110.96L641.43 109.37L639.87 108.95L639.09 107.57ZM632.84 114.46L633.62 113.61L635.34 113.5L634.02 114.67L633.08 115.41ZM625.82 113.5L627.38 113.4L628.94 113.61L630.5 113.4L632.06 113.29L632.06 113.82L628.94 114.03L626.6 114.03ZM624.64 127.92L625.03 132.16L624.49 132.37L625.5 135.13L625.82 137.99L626.36 140.11L625.82 140.96L628.08 141.81L630.5 140.53L632.45 140.53L632.84 139.58L634.41 138.84L636.75 138.2L638.47 137.99L640.65 139.05L641.9 141.59L643.39 139.58L643.62 142.23L644.17 142.34L645.34 144.35L646.51 145.3L648.07 145.73L649.25 145.2L650.26 146.05L651.59 144.67L653.07 144.35L653.54 141.7L654.17 140.43L655.1 138.52L655.96 134.92L655.65 132.05L654.32 130.04L653.77 128.45L652.37 126.33L650.26 124.74L649.56 121.56L649.48 120.29L648.15 119.44L647.68 117.21L647.29 115.94L646.9 117.85L646.59 120.5L646.12 122.62L645.34 123.36L644.56 122.62L643.39 121.56L642.06 120.5L642.06 118.38L642.84 117.53L641.43 117.53L639.87 116.68L638.7 116.58L637.53 117L637.69 118.27L637.14 120.29L635.97 120.5L635.19 119.44L634.02 119.97L632.84 121.98L631.52 122.62L631.44 123.89L629.72 125.59L628.55 126.22L626.99 126.54L625.42 127.71ZM648.93 147.74L651.82 147.95L651.82 149.33L650.81 150.82L649.4 149.33ZM670.88 141.06L672.28 142.55L673.3 143.82L675.41 144.56L674.94 146.15L674.16 147L672.83 148.7L672.36 148.27L672.67 146.79L671.74 146.15L672.36 144.88L671.89 142.76ZM670.88 147.53L672.13 148.8L671.11 151.03L669.55 152.09L667.99 154L666.04 153.36L666.43 152.3L667.44 151.24L669.16 150.18L670.33 148.59ZM469.69 81.39L471.18 80.33L472.74 80.11L474.3 80.86L475.47 81.49L476.88 82.34L478.05 83.19L477.43 83.51L475.47 83.51L475.71 82.76L474.69 81.81L473.13 81.28L471.96 80.96L470.4 81.49ZM477.89 84.99L479.14 83.51L481.33 83.72L482.58 84.88L481.49 85.2L480.16 85.94L479.38 85.31L477.89 85.2ZM474.85 85.2L476.41 85.41L475.94 85.73L474.93 85.52ZM483.52 85.1L484.77 85.1L484.77 85.52L483.52 85.52ZM576.61 28.81L578.96 27.22L580.52 24.57L584.42 23.51L589.5 23.09L585.98 24.89L582.08 26.16L580.52 28.07L579.35 29.55ZM544.59 21.39L547.72 19.8L553.18 19.38L557.09 20.01L552.4 21.92L549.28 23.51L546.93 22.45ZM610.2 20.86L614.1 20.33L617.22 20.33L614.1 21.92ZM643 25.1L646.9 24.25L653.15 25.1L650.03 25.63ZM675.41 29.34L677.75 28.81L678.92 29.34L676.58 29.55ZM573.49 19.8L578.96 18.74L584.42 19.27L581.3 20.01L575.05 20.01Z" fill="#b0b1b5"/><path d="M557.48 59.55L558.34 58.49L559.12 56.58L559.98 55.31L561.38 55.84L562.16 57.43L563.34 56.9L564.51 56.58L565.68 57.43L566.85 58.49L568.41 60.61L567.24 61.14L564.9 60.93L563.34 60.08L561.77 60.08L560.21 60.93L558.65 60.93L557.87 60.08ZM572.71 57.11L574.66 55.31L576.22 54.89L577.39 56.58L576.61 59.02L577.39 60.08L577.39 62.2L577.78 64.32L578.1 65.38L575.83 65.7L574.27 64.74L574.66 61.99L573.88 60.29L573.1 59.02Z" fill="#fff"/></g><circle cx="450.3" cy="242.3" r="3.8" fill="#f1ebd8"/><path d="M450.3 242.3L450.3 238.5A3.8 3.8 0 0 1 451.09 238.58Z" fill="#c8142a"/><rect x="448.1" y="242.25" width="4.4" height="1.15" fill="#7e7868"/><circle cx="452.3" cy="247.8" r="3.8" fill="#f1ebd8"/><rect x="450.1" y="247.75" width="4.4" height="1.15" fill="#7e7868"/><circle cx="528.9" cy="211.8" r="3.8" fill="#f1ebd8"/><rect x="526.7" y="211.75" width="4.4" height="1.15" fill="#7e7868"/><circle cx="534.8" cy="222.9" r="3.8" fill="#f1ebd8"/><rect x="532.6" y="222.85" width="4.4" height="1.15" fill="#7e7868"/><circle cx="530.8" cy="227.1" r="3.8" fill="#f1ebd8"/><rect x="528.6" y="227.05" width="4.4" height="1.15" fill="#7e7868"/><circle cx="546.1" cy="224.7" r="3.8" fill="#f1ebd8"/><rect x="543.9" y="224.65" width="4.4" height="1.15" fill="#7e7868"/><circle cx="542" cy="228.2" r="3.8" fill="#f1ebd8"/><rect x="539.8" y="228.15" width="4.4" height="1.15" fill="#7e7868"/><circle cx="536" cy="237.2" r="3.8" fill="#f1ebd8"/><rect x="533.8" y="237.15" width="4.4" height="1.15" fill="#7e7868"/><circle cx="566.4" cy="226.5" r="3.8" fill="#f1ebd8"/><rect x="564.2" y="226.45" width="4.4" height="1.15" fill="#7e7868"/><circle cx="563.2" cy="239.7" r="3.8" fill="#f1ebd8"/><rect x="561" y="239.65" width="4.4" height="1.15" fill="#7e7868"/><circle cx="565.2" cy="243.8" r="3.8" fill="#f1ebd8"/><rect x="563" y="243.75" width="4.4" height="1.15" fill="#7e7868"/><circle cx="567" cy="248" r="3.8" fill="#f1ebd8"/><rect x="564.8" y="247.95" width="4.4" height="1.15" fill="#7e7868"/><circle cx="550.2" cy="266.6" r="3.8" fill="#f1ebd8"/><rect x="548" y="266.55" width="4.4" height="1.15" fill="#7e7868"/><circle cx="553" cy="297" r="3.8" fill="#f1ebd8"/><rect x="550.8" y="296.95" width="4.4" height="1.15" fill="#7e7868"/><circle cx="552.2" cy="301.9" r="3.8" fill="#f1ebd8"/><rect x="550" y="301.85" width="4.4" height="1.15" fill="#7e7868"/><circle cx="551.3" cy="306.6" r="3.8" fill="#f1ebd8"/><rect x="549.1" y="306.55" width="4.4" height="1.15" fill="#7e7868"/><circle cx="583.4" cy="238.6" r="3.8" fill="#f1ebd8"/><rect x="581.2" y="238.55" width="4.4" height="1.15" fill="#7e7868"/><circle cx="588.9" cy="235.8" r="3.8" fill="#f1ebd8"/><path d="M588.9 235.8L588.9 232A3.8 3.8 0 0 1 592.7 235.8Z" fill="#c8142a"/><rect x="586.7" y="235.75" width="4.4" height="1.15" fill="#7e7868"/><circle cx="583.5" cy="245.5" r="3.8" fill="#f1ebd8"/><rect x="581.3" y="245.45" width="4.4" height="1.15" fill="#7e7868"/><circle cx="589.7" cy="241.6" r="3.8" fill="#f1ebd8"/><rect x="587.5" y="241.55" width="4.4" height="1.15" fill="#7e7868"/><circle cx="595.6" cy="241.2" r="3.8" fill="#f1ebd8"/><path d="M595.6 241.2L595.6 237.4A3.8 3.8 0 0 1 596.13 237.44Z" fill="#c8142a"/><rect x="593.4" y="241.15" width="4.4" height="1.15" fill="#7e7868"/><circle cx="586.2" cy="249.7" r="3.8" fill="#f1ebd8"/><rect x="584" y="249.65" width="4.4" height="1.15" fill="#7e7868"/><circle cx="593.8" cy="246.6" r="3.8" fill="#f1ebd8"/><rect x="591.6" y="246.55" width="4.4" height="1.15" fill="#7e7868"/><circle cx="600.5" cy="247" r="3.8" fill="#f1ebd8"/><rect x="598.3" y="246.95" width="4.4" height="1.15" fill="#7e7868"/><circle cx="615.6" cy="232.4" r="3.8" fill="#f1ebd8"/><path d="M615.6 232.4L615.6 228.6A3.8 3.8 0 0 1 619.17 233.7Z" fill="#c8142a"/><rect x="613.4" y="232.35" width="4.4" height="1.15" fill="#7e7868"/><circle cx="611.5" cy="238.6" r="3.8" fill="#f1ebd8"/><path d="M611.5 238.6L611.5 234.8A3.8 3.8 0 0 1 615.17 239.58Z" fill="#c8142a"/><rect x="609.3" y="238.55" width="4.4" height="1.15" fill="#7e7868"/><circle cx="619.2" cy="238.8" r="3.8" fill="#f1ebd8"/><path d="M619.2 238.8L619.2 235A3.8 3.8 0 0 1 622.87 239.78Z" fill="#c8142a"/><rect x="617" y="238.75" width="4.4" height="1.15" fill="#7e7868"/><circle cx="640.5" cy="233.9" r="3.8" fill="#f1ebd8"/><path d="M640.5 233.9L640.5 230.1A3.8 3.8 0 0 1 643.94 235.51Z" fill="#c8142a"/><rect x="638.3" y="233.85" width="4.4" height="1.15" fill="#7e7868"/><circle cx="607.4" cy="198.4" r="3.8" fill="#f1ebd8"/><rect x="605.2" y="198.35" width="4.4" height="1.15" fill="#7e7868"/><circle cx="630.9" cy="199.7" r="3.8" fill="#f1ebd8"/><path d="M630.9 199.7L630.9 195.9A3.8 3.8 0 0 1 634.7 199.7Z" fill="#c8142a"/><rect x="628.7" y="199.65" width="4.4" height="1.15" fill="#7e7868"/><circle cx="656.3" cy="278.7" r="3.8" fill="#f1ebd8"/><path d="M656.3 278.7L656.3 274.9A3.8 3.8 0 0 1 657.09 274.98Z" fill="#c8142a"/><rect x="654.1" y="278.65" width="4.4" height="1.15" fill="#7e7868"/>
<g font-size="8.3" fill="#222"><text x="639.5" y="16.9">DEL_21699</text><text x="640.4" y="181.9">DEL_38406</text></g>
</svg></div></body></html>
